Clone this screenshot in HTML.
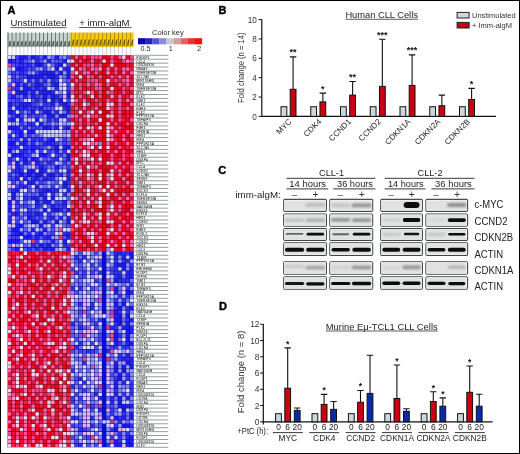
<!DOCTYPE html>
<html><head><meta charset="utf-8"><style>
html,body{margin:0;padding:0;background:#fff;}
body{width:520px;height:454px;overflow:hidden;}
svg{display:block;font-family:"Liberation Sans", sans-serif;will-change:transform;}
</style></head><body>
<svg width="520" height="454" viewBox="0 0 520 454">
<defs><filter id="bl" x="-30%" y="-100%" width="160%" height="300%"><feGaussianBlur stdDeviation="0.45"/></filter><filter id="bl2" x="-30%" y="-150%" width="160%" height="400%"><feGaussianBlur stdDeviation="0.9"/></filter></defs>
<rect x="0" y="0" width="520" height="454" fill="#fff"/>
<text x="7.4" y="13.6" font-size="11" font-weight="bold" fill="#000" stroke="#000" stroke-width="0.4">A</text>
<text x="10.5" y="26.4" font-size="9.6" fill="#222">Unstimulated</text>
<rect x="10.5" y="27.3" width="56" height="0.8" fill="#333"/>
<text x="79.2" y="26.2" font-size="9.6" fill="#222">+ imm-algM</text>
<rect x="79.2" y="27.1" width="52.3" height="0.8" fill="#333"/>
<rect x="7.60" y="32.6" width="3.94" height="14.6" fill="#c8d6d2"/>
<rect x="7.70" y="32.6" width="0.85" height="14.6" fill="#52625f"/>
<path d="M8.90 46.4l0.9 -2.2l0.9 0.2l0.2 -3.6l-0.9 0.3l-0.8 1.2z" fill="#26302e" opacity="0.8"/>
<rect x="9.00" y="44.2" width="2.2" height="2.2" fill="#26302e" opacity="0.55"/>
<rect x="7.70" y="47.2" width="0.85" height="8.1" fill="#c2ccd0"/>
<rect x="11.54" y="32.6" width="3.94" height="14.6" fill="#c8d6d2"/>
<rect x="11.64" y="32.6" width="0.85" height="14.6" fill="#52625f"/>
<path d="M12.84 46.4l0.9 -2.2l0.9 0.2l0.2 -3.6l-0.9 0.3l-0.8 1.2z" fill="#26302e" opacity="0.8"/>
<rect x="12.94" y="44.2" width="2.2" height="2.2" fill="#26302e" opacity="0.55"/>
<rect x="11.64" y="47.2" width="0.85" height="8.1" fill="#c2ccd0"/>
<rect x="15.48" y="32.6" width="3.94" height="14.6" fill="#c8d6d2"/>
<rect x="15.58" y="32.6" width="0.85" height="14.6" fill="#52625f"/>
<path d="M16.78 46.4l0.9 -2.2l0.9 0.2l0.2 -3.6l-0.9 0.3l-0.8 1.2z" fill="#26302e" opacity="0.8"/>
<rect x="16.88" y="44.2" width="2.2" height="2.2" fill="#26302e" opacity="0.55"/>
<rect x="15.58" y="47.2" width="0.85" height="8.1" fill="#c2ccd0"/>
<rect x="19.42" y="32.6" width="3.94" height="14.6" fill="#c8d6d2"/>
<rect x="19.52" y="32.6" width="0.85" height="14.6" fill="#52625f"/>
<path d="M20.72 46.4l0.9 -2.2l0.9 0.2l0.2 -3.6l-0.9 0.3l-0.8 1.2z" fill="#26302e" opacity="0.8"/>
<rect x="20.82" y="44.2" width="2.2" height="2.2" fill="#26302e" opacity="0.55"/>
<rect x="19.52" y="47.2" width="0.85" height="8.1" fill="#c2ccd0"/>
<rect x="23.36" y="32.6" width="3.94" height="14.6" fill="#c8d6d2"/>
<rect x="23.46" y="32.6" width="0.85" height="14.6" fill="#52625f"/>
<path d="M24.66 46.4l0.9 -2.2l0.9 0.2l0.2 -3.6l-0.9 0.3l-0.8 1.2z" fill="#26302e" opacity="0.8"/>
<rect x="24.76" y="44.2" width="2.2" height="2.2" fill="#26302e" opacity="0.55"/>
<rect x="23.46" y="47.2" width="0.85" height="8.1" fill="#c2ccd0"/>
<rect x="27.30" y="32.6" width="3.94" height="14.6" fill="#c8d6d2"/>
<rect x="27.40" y="32.6" width="0.85" height="14.6" fill="#52625f"/>
<path d="M28.60 46.4l0.9 -2.2l0.9 0.2l0.2 -3.6l-0.9 0.3l-0.8 1.2z" fill="#26302e" opacity="0.8"/>
<rect x="28.70" y="44.2" width="2.2" height="2.2" fill="#26302e" opacity="0.55"/>
<rect x="27.40" y="47.2" width="0.85" height="8.1" fill="#c2ccd0"/>
<rect x="31.24" y="32.6" width="3.94" height="14.6" fill="#c8d6d2"/>
<rect x="31.34" y="32.6" width="0.85" height="14.6" fill="#52625f"/>
<path d="M32.54 46.4l0.9 -2.2l0.9 0.2l0.2 -3.6l-0.9 0.3l-0.8 1.2z" fill="#26302e" opacity="0.8"/>
<rect x="32.64" y="44.2" width="2.2" height="2.2" fill="#26302e" opacity="0.55"/>
<rect x="31.34" y="47.2" width="0.85" height="8.1" fill="#c2ccd0"/>
<rect x="35.18" y="32.6" width="3.94" height="14.6" fill="#c8d6d2"/>
<rect x="35.28" y="32.6" width="0.85" height="14.6" fill="#52625f"/>
<path d="M36.48 46.4l0.9 -2.2l0.9 0.2l0.2 -3.6l-0.9 0.3l-0.8 1.2z" fill="#26302e" opacity="0.8"/>
<rect x="36.58" y="44.2" width="2.2" height="2.2" fill="#26302e" opacity="0.55"/>
<rect x="35.28" y="47.2" width="0.85" height="8.1" fill="#c2ccd0"/>
<rect x="39.12" y="32.6" width="3.94" height="14.6" fill="#c8d6d2"/>
<rect x="39.22" y="32.6" width="0.85" height="14.6" fill="#52625f"/>
<path d="M40.42 46.4l0.9 -2.2l0.9 0.2l0.2 -3.6l-0.9 0.3l-0.8 1.2z" fill="#26302e" opacity="0.8"/>
<rect x="40.52" y="44.2" width="2.2" height="2.2" fill="#26302e" opacity="0.55"/>
<rect x="39.22" y="47.2" width="0.85" height="8.1" fill="#c2ccd0"/>
<rect x="43.06" y="32.6" width="3.94" height="14.6" fill="#c8d6d2"/>
<rect x="43.16" y="32.6" width="0.85" height="14.6" fill="#52625f"/>
<path d="M44.36 46.4l0.9 -2.2l0.9 0.2l0.2 -3.6l-0.9 0.3l-0.8 1.2z" fill="#26302e" opacity="0.8"/>
<rect x="44.46" y="44.2" width="2.2" height="2.2" fill="#26302e" opacity="0.55"/>
<rect x="43.16" y="47.2" width="0.85" height="8.1" fill="#c2ccd0"/>
<rect x="47.00" y="32.6" width="3.94" height="14.6" fill="#c8d6d2"/>
<rect x="47.10" y="32.6" width="0.85" height="14.6" fill="#52625f"/>
<path d="M48.30 46.4l0.9 -2.2l0.9 0.2l0.2 -3.6l-0.9 0.3l-0.8 1.2z" fill="#26302e" opacity="0.8"/>
<rect x="48.40" y="44.2" width="2.2" height="2.2" fill="#26302e" opacity="0.55"/>
<rect x="47.10" y="47.2" width="0.85" height="8.1" fill="#c2ccd0"/>
<rect x="50.94" y="32.6" width="3.94" height="14.6" fill="#c8d6d2"/>
<rect x="51.04" y="32.6" width="0.85" height="14.6" fill="#52625f"/>
<path d="M52.24 46.4l0.9 -2.2l0.9 0.2l0.2 -3.6l-0.9 0.3l-0.8 1.2z" fill="#26302e" opacity="0.8"/>
<rect x="52.34" y="44.2" width="2.2" height="2.2" fill="#26302e" opacity="0.55"/>
<rect x="51.04" y="47.2" width="0.85" height="8.1" fill="#c2ccd0"/>
<rect x="54.88" y="32.6" width="3.94" height="14.6" fill="#c8d6d2"/>
<rect x="54.98" y="32.6" width="0.85" height="14.6" fill="#52625f"/>
<path d="M56.18 46.4l0.9 -2.2l0.9 0.2l0.2 -3.6l-0.9 0.3l-0.8 1.2z" fill="#26302e" opacity="0.8"/>
<rect x="56.28" y="44.2" width="2.2" height="2.2" fill="#26302e" opacity="0.55"/>
<rect x="54.98" y="47.2" width="0.85" height="8.1" fill="#c2ccd0"/>
<rect x="58.82" y="32.6" width="3.94" height="14.6" fill="#c8d6d2"/>
<rect x="58.92" y="32.6" width="0.85" height="14.6" fill="#52625f"/>
<path d="M60.12 46.4l0.9 -2.2l0.9 0.2l0.2 -3.6l-0.9 0.3l-0.8 1.2z" fill="#26302e" opacity="0.8"/>
<rect x="60.22" y="44.2" width="2.2" height="2.2" fill="#26302e" opacity="0.55"/>
<rect x="58.92" y="47.2" width="0.85" height="8.1" fill="#c2ccd0"/>
<rect x="62.76" y="32.6" width="3.94" height="14.6" fill="#c8d6d2"/>
<rect x="62.86" y="32.6" width="0.85" height="14.6" fill="#52625f"/>
<path d="M64.06 46.4l0.9 -2.2l0.9 0.2l0.2 -3.6l-0.9 0.3l-0.8 1.2z" fill="#26302e" opacity="0.8"/>
<rect x="64.16" y="44.2" width="2.2" height="2.2" fill="#26302e" opacity="0.55"/>
<rect x="62.86" y="47.2" width="0.85" height="8.1" fill="#c2ccd0"/>
<rect x="66.70" y="32.6" width="3.94" height="14.6" fill="#c8d6d2"/>
<rect x="66.80" y="32.6" width="0.85" height="14.6" fill="#52625f"/>
<path d="M68.00 46.4l0.9 -2.2l0.9 0.2l0.2 -3.6l-0.9 0.3l-0.8 1.2z" fill="#26302e" opacity="0.8"/>
<rect x="68.10" y="44.2" width="2.2" height="2.2" fill="#26302e" opacity="0.55"/>
<rect x="66.80" y="47.2" width="0.85" height="8.1" fill="#c2ccd0"/>
<rect x="70.64" y="32.6" width="3.94" height="14.6" fill="#f8cc00"/>
<rect x="70.74" y="32.6" width="0.85" height="14.6" fill="#9c8410"/>
<path d="M71.84 45.6l0.8 -2.4l1.2 -0.6l0.3 -3.4l-0.8 0.2l-0.6 1.4z" fill="#4a2c00" opacity="0.85"/>
<rect x="71.94" y="43.0" width="2.1" height="2.6" fill="#4a2c00" opacity="0.5"/>
<rect x="70.74" y="47.2" width="0.85" height="8.1" fill="#c2ccd0"/>
<rect x="74.58" y="32.6" width="3.94" height="14.6" fill="#f8cc00"/>
<rect x="74.68" y="32.6" width="0.85" height="14.6" fill="#9c8410"/>
<path d="M75.78 45.6l0.8 -2.4l1.2 -0.6l0.3 -3.4l-0.8 0.2l-0.6 1.4z" fill="#4a2c00" opacity="0.85"/>
<rect x="75.88" y="43.0" width="2.1" height="2.6" fill="#4a2c00" opacity="0.5"/>
<rect x="74.68" y="47.2" width="0.85" height="8.1" fill="#c2ccd0"/>
<rect x="78.52" y="32.6" width="3.94" height="14.6" fill="#f8cc00"/>
<rect x="78.62" y="32.6" width="0.85" height="14.6" fill="#9c8410"/>
<path d="M79.72 45.6l0.8 -2.4l1.2 -0.6l0.3 -3.4l-0.8 0.2l-0.6 1.4z" fill="#4a2c00" opacity="0.85"/>
<rect x="79.82" y="43.0" width="2.1" height="2.6" fill="#4a2c00" opacity="0.5"/>
<rect x="78.62" y="47.2" width="0.85" height="8.1" fill="#c2ccd0"/>
<rect x="82.46" y="32.6" width="3.94" height="14.6" fill="#f8cc00"/>
<rect x="82.56" y="32.6" width="0.85" height="14.6" fill="#9c8410"/>
<path d="M83.66 45.6l0.8 -2.4l1.2 -0.6l0.3 -3.4l-0.8 0.2l-0.6 1.4z" fill="#4a2c00" opacity="0.85"/>
<rect x="83.76" y="43.0" width="2.1" height="2.6" fill="#4a2c00" opacity="0.5"/>
<rect x="82.56" y="47.2" width="0.85" height="8.1" fill="#c2ccd0"/>
<rect x="86.40" y="32.6" width="3.94" height="14.6" fill="#f8cc00"/>
<rect x="86.50" y="32.6" width="0.85" height="14.6" fill="#9c8410"/>
<path d="M87.60 45.6l0.8 -2.4l1.2 -0.6l0.3 -3.4l-0.8 0.2l-0.6 1.4z" fill="#4a2c00" opacity="0.85"/>
<rect x="87.70" y="43.0" width="2.1" height="2.6" fill="#4a2c00" opacity="0.5"/>
<rect x="86.50" y="47.2" width="0.85" height="8.1" fill="#c2ccd0"/>
<rect x="90.34" y="32.6" width="3.94" height="14.6" fill="#f8cc00"/>
<rect x="90.44" y="32.6" width="0.85" height="14.6" fill="#9c8410"/>
<path d="M91.54 45.6l0.8 -2.4l1.2 -0.6l0.3 -3.4l-0.8 0.2l-0.6 1.4z" fill="#4a2c00" opacity="0.85"/>
<rect x="91.64" y="43.0" width="2.1" height="2.6" fill="#4a2c00" opacity="0.5"/>
<rect x="90.44" y="47.2" width="0.85" height="8.1" fill="#c2ccd0"/>
<rect x="94.28" y="32.6" width="3.94" height="14.6" fill="#f8cc00"/>
<rect x="94.38" y="32.6" width="0.85" height="14.6" fill="#9c8410"/>
<path d="M95.48 45.6l0.8 -2.4l1.2 -0.6l0.3 -3.4l-0.8 0.2l-0.6 1.4z" fill="#4a2c00" opacity="0.85"/>
<rect x="95.58" y="43.0" width="2.1" height="2.6" fill="#4a2c00" opacity="0.5"/>
<rect x="94.38" y="47.2" width="0.85" height="8.1" fill="#c2ccd0"/>
<rect x="98.22" y="32.6" width="3.94" height="14.6" fill="#f8cc00"/>
<rect x="98.32" y="32.6" width="0.85" height="14.6" fill="#9c8410"/>
<path d="M99.42 45.6l0.8 -2.4l1.2 -0.6l0.3 -3.4l-0.8 0.2l-0.6 1.4z" fill="#4a2c00" opacity="0.85"/>
<rect x="99.52" y="43.0" width="2.1" height="2.6" fill="#4a2c00" opacity="0.5"/>
<rect x="98.32" y="47.2" width="0.85" height="8.1" fill="#c2ccd0"/>
<rect x="102.16" y="32.6" width="3.94" height="14.6" fill="#f8cc00"/>
<rect x="102.26" y="32.6" width="0.85" height="14.6" fill="#9c8410"/>
<path d="M103.36 45.6l0.8 -2.4l1.2 -0.6l0.3 -3.4l-0.8 0.2l-0.6 1.4z" fill="#4a2c00" opacity="0.85"/>
<rect x="103.46" y="43.0" width="2.1" height="2.6" fill="#4a2c00" opacity="0.5"/>
<rect x="102.26" y="47.2" width="0.85" height="8.1" fill="#c2ccd0"/>
<rect x="106.10" y="32.6" width="3.94" height="14.6" fill="#f8cc00"/>
<rect x="106.20" y="32.6" width="0.85" height="14.6" fill="#9c8410"/>
<path d="M107.30 45.6l0.8 -2.4l1.2 -0.6l0.3 -3.4l-0.8 0.2l-0.6 1.4z" fill="#4a2c00" opacity="0.85"/>
<rect x="107.40" y="43.0" width="2.1" height="2.6" fill="#4a2c00" opacity="0.5"/>
<rect x="106.20" y="47.2" width="0.85" height="8.1" fill="#c2ccd0"/>
<rect x="110.04" y="32.6" width="3.94" height="14.6" fill="#f8cc00"/>
<rect x="110.14" y="32.6" width="0.85" height="14.6" fill="#9c8410"/>
<path d="M111.24 45.6l0.8 -2.4l1.2 -0.6l0.3 -3.4l-0.8 0.2l-0.6 1.4z" fill="#4a2c00" opacity="0.85"/>
<rect x="111.34" y="43.0" width="2.1" height="2.6" fill="#4a2c00" opacity="0.5"/>
<rect x="110.14" y="47.2" width="0.85" height="8.1" fill="#c2ccd0"/>
<rect x="113.98" y="32.6" width="3.94" height="14.6" fill="#f8cc00"/>
<rect x="114.08" y="32.6" width="0.85" height="14.6" fill="#9c8410"/>
<path d="M115.18 45.6l0.8 -2.4l1.2 -0.6l0.3 -3.4l-0.8 0.2l-0.6 1.4z" fill="#4a2c00" opacity="0.85"/>
<rect x="115.28" y="43.0" width="2.1" height="2.6" fill="#4a2c00" opacity="0.5"/>
<rect x="114.08" y="47.2" width="0.85" height="8.1" fill="#c2ccd0"/>
<rect x="117.92" y="32.6" width="3.94" height="14.6" fill="#f8cc00"/>
<rect x="118.02" y="32.6" width="0.85" height="14.6" fill="#9c8410"/>
<path d="M119.12 45.6l0.8 -2.4l1.2 -0.6l0.3 -3.4l-0.8 0.2l-0.6 1.4z" fill="#4a2c00" opacity="0.85"/>
<rect x="119.22" y="43.0" width="2.1" height="2.6" fill="#4a2c00" opacity="0.5"/>
<rect x="118.02" y="47.2" width="0.85" height="8.1" fill="#c2ccd0"/>
<rect x="121.86" y="32.6" width="3.94" height="14.6" fill="#f8cc00"/>
<rect x="121.96" y="32.6" width="0.85" height="14.6" fill="#9c8410"/>
<path d="M123.06 45.6l0.8 -2.4l1.2 -0.6l0.3 -3.4l-0.8 0.2l-0.6 1.4z" fill="#4a2c00" opacity="0.85"/>
<rect x="123.16" y="43.0" width="2.1" height="2.6" fill="#4a2c00" opacity="0.5"/>
<rect x="121.96" y="47.2" width="0.85" height="8.1" fill="#c2ccd0"/>
<rect x="125.80" y="32.6" width="3.94" height="14.6" fill="#f8cc00"/>
<rect x="125.90" y="32.6" width="0.85" height="14.6" fill="#9c8410"/>
<path d="M127.00 45.6l0.8 -2.4l1.2 -0.6l0.3 -3.4l-0.8 0.2l-0.6 1.4z" fill="#4a2c00" opacity="0.85"/>
<rect x="127.10" y="43.0" width="2.1" height="2.6" fill="#4a2c00" opacity="0.5"/>
<rect x="125.90" y="47.2" width="0.85" height="8.1" fill="#c2ccd0"/>
<rect x="129.74" y="32.6" width="3.94" height="14.6" fill="#f8cc00"/>
<rect x="129.84" y="32.6" width="0.85" height="14.6" fill="#9c8410"/>
<path d="M130.94 45.6l0.8 -2.4l1.2 -0.6l0.3 -3.4l-0.8 0.2l-0.6 1.4z" fill="#4a2c00" opacity="0.85"/>
<rect x="131.04" y="43.0" width="2.1" height="2.6" fill="#4a2c00" opacity="0.5"/>
<rect x="129.84" y="47.2" width="0.85" height="8.1" fill="#c2ccd0"/>
<rect x="7.60" y="55.3" width="63.04" height="196.00" fill="#10108a"/>
<rect x="70.64" y="55.3" width="63.04" height="196.00" fill="#6a0414"/>
<rect x="7.60" y="251.30" width="63.04" height="196.00" fill="#6a0414"/>
<rect x="70.64" y="251.30" width="63.04" height="196.00" fill="#10108a"/>
<path fill="#d6d6f8" d="M7.88 55.58h3.38v3.36h-3.38zM66.98 59.50h3.38v3.36h-3.38zM47.28 63.42h3.38v3.36h-3.38zM63.04 63.42h3.38v3.36h-3.38zM51.22 67.34h3.38v3.36h-3.38zM59.10 67.34h3.38v3.36h-3.38zM7.88 75.18h3.38v3.36h-3.38zM23.64 79.10h3.38v3.36h-3.38zM63.04 83.02h3.38v3.36h-3.38zM47.28 86.94h3.38v3.36h-3.38zM47.28 98.70h3.38v3.36h-3.38zM63.04 98.70h3.38v3.36h-3.38zM55.16 106.54h3.38v3.36h-3.38zM15.76 118.30h3.38v3.36h-3.38zM31.52 118.30h3.38v3.36h-3.38zM39.40 118.30h3.38v3.36h-3.38zM7.88 122.22h3.38v3.36h-3.38zM59.10 126.14h3.38v3.36h-3.38zM43.34 130.06h3.38v3.36h-3.38zM47.28 130.06h3.38v3.36h-3.38zM43.34 133.98h3.38v3.36h-3.38zM47.28 133.98h3.38v3.36h-3.38zM55.16 137.90h3.38v3.36h-3.38zM19.70 145.74h3.38v3.36h-3.38zM43.34 149.66h3.38v3.36h-3.38zM66.98 149.66h3.38v3.36h-3.38zM7.88 153.58h3.38v3.36h-3.38zM35.46 153.58h3.38v3.36h-3.38zM55.16 161.42h3.38v3.36h-3.38zM7.88 169.26h3.38v3.36h-3.38zM23.64 169.26h3.38v3.36h-3.38zM19.70 177.10h3.38v3.36h-3.38zM59.10 177.10h3.38v3.36h-3.38zM7.88 192.78h3.38v3.36h-3.38zM59.10 192.78h3.38v3.36h-3.38zM59.10 196.70h3.38v3.36h-3.38zM31.52 200.62h3.38v3.36h-3.38zM43.34 204.54h3.38v3.36h-3.38zM66.98 204.54h3.38v3.36h-3.38zM19.70 208.46h3.38v3.36h-3.38zM59.10 212.38h3.38v3.36h-3.38zM19.70 220.22h3.38v3.36h-3.38zM47.28 224.14h3.38v3.36h-3.38zM55.16 224.14h3.38v3.36h-3.38zM23.64 239.82h3.38v3.36h-3.38zM19.70 247.66h3.38v3.36h-3.38zM86.68 251.58h3.38v3.36h-3.38zM90.62 259.42h3.38v3.36h-3.38zM70.92 263.34h3.38v3.36h-3.38zM74.86 267.26h3.38v3.36h-3.38zM122.14 271.18h3.38v3.36h-3.38zM86.68 275.10h3.38v3.36h-3.38zM86.68 279.02h3.38v3.36h-3.38zM90.62 279.02h3.38v3.36h-3.38zM90.62 282.94h3.38v3.36h-3.38zM94.56 282.94h3.38v3.36h-3.38zM82.74 290.78h3.38v3.36h-3.38zM122.14 290.78h3.38v3.36h-3.38zM130.02 298.62h3.38v3.36h-3.38zM126.08 302.54h3.38v3.36h-3.38zM94.56 306.46h3.38v3.36h-3.38zM106.38 306.46h3.38v3.36h-3.38zM122.14 310.38h3.38v3.36h-3.38zM82.74 314.30h3.38v3.36h-3.38zM130.02 314.30h3.38v3.36h-3.38zM74.86 329.98h3.38v3.36h-3.38zM106.38 329.98h3.38v3.36h-3.38zM122.14 329.98h3.38v3.36h-3.38zM90.62 337.82h3.38v3.36h-3.38zM106.38 337.82h3.38v3.36h-3.38zM86.68 341.74h3.38v3.36h-3.38zM90.62 345.66h3.38v3.36h-3.38zM118.20 349.58h3.38v3.36h-3.38zM70.92 361.34h3.38v3.36h-3.38zM74.86 361.34h3.38v3.36h-3.38zM86.68 361.34h3.38v3.36h-3.38zM82.74 365.26h3.38v3.36h-3.38zM74.86 369.18h3.38v3.36h-3.38zM90.62 369.18h3.38v3.36h-3.38zM78.80 380.94h3.38v3.36h-3.38zM86.68 380.94h3.38v3.36h-3.38zM98.50 380.94h3.38v3.36h-3.38zM106.38 380.94h3.38v3.36h-3.38zM126.08 380.94h3.38v3.36h-3.38zM74.86 388.78h3.38v3.36h-3.38zM90.62 388.78h3.38v3.36h-3.38zM86.68 392.70h3.38v3.36h-3.38zM82.74 396.62h3.38v3.36h-3.38zM106.38 400.54h3.38v3.36h-3.38zM70.92 404.46h3.38v3.36h-3.38zM70.92 408.38h3.38v3.36h-3.38zM82.74 408.38h3.38v3.36h-3.38zM74.86 412.30h3.38v3.36h-3.38zM94.56 412.30h3.38v3.36h-3.38zM86.68 420.14h3.38v3.36h-3.38zM106.38 420.14h3.38v3.36h-3.38zM78.80 435.82h3.38v3.36h-3.38zM106.38 435.82h3.38v3.36h-3.38zM122.14 439.74h3.38v3.36h-3.38zM98.50 443.66h3.38v3.36h-3.38z"/>
<path fill="#cacaf6" d="M11.82 55.58h3.38v3.36h-3.38zM7.88 79.10h3.38v3.36h-3.38zM59.10 83.02h3.38v3.36h-3.38zM59.10 86.94h3.38v3.36h-3.38zM55.16 90.86h3.38v3.36h-3.38zM23.64 98.70h3.38v3.36h-3.38zM11.82 106.54h3.38v3.36h-3.38zM59.10 110.46h3.38v3.36h-3.38zM23.64 118.30h3.38v3.36h-3.38zM59.10 118.30h3.38v3.36h-3.38zM63.04 118.30h3.38v3.36h-3.38zM15.76 122.22h3.38v3.36h-3.38zM39.40 130.06h3.38v3.36h-3.38zM11.82 133.98h3.38v3.36h-3.38zM51.22 133.98h3.38v3.36h-3.38zM55.16 133.98h3.38v3.36h-3.38zM59.10 133.98h3.38v3.36h-3.38zM66.98 133.98h3.38v3.36h-3.38zM59.10 145.74h3.38v3.36h-3.38zM15.76 149.66h3.38v3.36h-3.38zM35.46 149.66h3.38v3.36h-3.38zM59.10 157.50h3.38v3.36h-3.38zM35.46 169.26h3.38v3.36h-3.38zM47.28 169.26h3.38v3.36h-3.38zM59.10 169.26h3.38v3.36h-3.38zM7.88 181.02h3.38v3.36h-3.38zM55.16 184.94h3.38v3.36h-3.38zM19.70 188.86h3.38v3.36h-3.38zM59.10 188.86h3.38v3.36h-3.38zM63.04 188.86h3.38v3.36h-3.38zM7.88 196.70h3.38v3.36h-3.38zM63.04 196.70h3.38v3.36h-3.38zM19.70 200.62h3.38v3.36h-3.38zM11.82 204.54h3.38v3.36h-3.38zM23.64 208.46h3.38v3.36h-3.38zM47.28 208.46h3.38v3.36h-3.38zM59.10 220.22h3.38v3.36h-3.38zM7.88 224.14h3.38v3.36h-3.38zM27.58 224.14h3.38v3.36h-3.38zM31.52 224.14h3.38v3.36h-3.38zM59.10 224.14h3.38v3.36h-3.38zM35.46 228.06h3.38v3.36h-3.38zM66.98 228.06h3.38v3.36h-3.38zM27.58 239.82h3.38v3.36h-3.38zM39.40 239.82h3.38v3.36h-3.38zM59.10 239.82h3.38v3.36h-3.38zM59.10 243.74h3.38v3.36h-3.38zM59.10 247.66h3.38v3.36h-3.38zM82.74 251.58h3.38v3.36h-3.38zM106.38 251.58h3.38v3.36h-3.38zM86.68 255.50h3.38v3.36h-3.38zM94.56 255.50h3.38v3.36h-3.38zM126.08 255.50h3.38v3.36h-3.38zM106.38 263.34h3.38v3.36h-3.38zM118.20 267.26h3.38v3.36h-3.38zM86.68 271.18h3.38v3.36h-3.38zM106.38 271.18h3.38v3.36h-3.38zM74.86 275.10h3.38v3.36h-3.38zM110.32 275.10h3.38v3.36h-3.38zM82.74 279.02h3.38v3.36h-3.38zM114.26 282.94h3.38v3.36h-3.38zM74.86 286.86h3.38v3.36h-3.38zM106.38 290.78h3.38v3.36h-3.38zM82.74 294.70h3.38v3.36h-3.38zM110.32 294.70h3.38v3.36h-3.38zM86.68 298.62h3.38v3.36h-3.38zM106.38 298.62h3.38v3.36h-3.38zM70.92 302.54h3.38v3.36h-3.38zM86.68 302.54h3.38v3.36h-3.38zM110.32 302.54h3.38v3.36h-3.38zM74.86 306.46h3.38v3.36h-3.38zM82.74 306.46h3.38v3.36h-3.38zM70.92 314.30h3.38v3.36h-3.38zM98.50 314.30h3.38v3.36h-3.38zM70.92 318.22h3.38v3.36h-3.38zM106.38 318.22h3.38v3.36h-3.38zM82.74 329.98h3.38v3.36h-3.38zM82.74 337.82h3.38v3.36h-3.38zM74.86 341.74h3.38v3.36h-3.38zM98.50 345.66h3.38v3.36h-3.38zM70.92 353.50h3.38v3.36h-3.38zM78.80 353.50h3.38v3.36h-3.38zM86.68 353.50h3.38v3.36h-3.38zM106.38 353.50h3.38v3.36h-3.38zM70.92 357.42h3.38v3.36h-3.38zM94.56 361.34h3.38v3.36h-3.38zM106.38 365.26h3.38v3.36h-3.38zM70.92 373.10h3.38v3.36h-3.38zM78.80 373.10h3.38v3.36h-3.38zM82.74 373.10h3.38v3.36h-3.38zM106.38 373.10h3.38v3.36h-3.38zM70.92 380.94h3.38v3.36h-3.38zM90.62 384.86h3.38v3.36h-3.38zM110.32 384.86h3.38v3.36h-3.38zM86.68 400.54h3.38v3.36h-3.38zM122.14 400.54h3.38v3.36h-3.38zM126.08 400.54h3.38v3.36h-3.38zM126.08 408.38h3.38v3.36h-3.38zM70.92 412.30h3.38v3.36h-3.38zM82.74 412.30h3.38v3.36h-3.38zM94.56 416.22h3.38v3.36h-3.38zM110.32 416.22h3.38v3.36h-3.38zM82.74 420.14h3.38v3.36h-3.38zM102.44 420.14h3.38v3.36h-3.38zM106.38 424.06h3.38v3.36h-3.38zM98.50 431.90h3.38v3.36h-3.38z"/>
<path fill="#4040f6" d="M15.76 55.58h3.38v3.36h-3.38zM66.98 55.58h3.38v3.36h-3.38zM15.76 59.50h3.38v3.36h-3.38zM15.76 63.42h3.38v3.36h-3.38zM23.64 63.42h3.38v3.36h-3.38zM66.98 63.42h3.38v3.36h-3.38zM31.52 67.34h3.38v3.36h-3.38zM43.34 67.34h3.38v3.36h-3.38zM11.82 71.26h3.38v3.36h-3.38zM23.64 71.26h3.38v3.36h-3.38zM35.46 71.26h3.38v3.36h-3.38zM11.82 75.18h3.38v3.36h-3.38zM19.70 75.18h3.38v3.36h-3.38zM23.64 75.18h3.38v3.36h-3.38zM43.34 75.18h3.38v3.36h-3.38zM11.82 79.10h3.38v3.36h-3.38zM15.76 79.10h3.38v3.36h-3.38zM19.70 79.10h3.38v3.36h-3.38zM55.16 79.10h3.38v3.36h-3.38zM31.52 83.02h3.38v3.36h-3.38zM66.98 83.02h3.38v3.36h-3.38zM11.82 86.94h3.38v3.36h-3.38zM31.52 86.94h3.38v3.36h-3.38zM39.40 86.94h3.38v3.36h-3.38zM66.98 86.94h3.38v3.36h-3.38zM7.88 94.78h3.38v3.36h-3.38zM35.46 94.78h3.38v3.36h-3.38zM15.76 98.70h3.38v3.36h-3.38zM55.16 98.70h3.38v3.36h-3.38zM66.98 98.70h3.38v3.36h-3.38zM11.82 102.62h3.38v3.36h-3.38zM15.76 102.62h3.38v3.36h-3.38zM31.52 102.62h3.38v3.36h-3.38zM47.28 102.62h3.38v3.36h-3.38zM27.58 106.54h3.38v3.36h-3.38zM35.46 106.54h3.38v3.36h-3.38zM19.70 110.46h3.38v3.36h-3.38zM11.82 114.38h3.38v3.36h-3.38zM19.70 114.38h3.38v3.36h-3.38zM27.58 114.38h3.38v3.36h-3.38zM35.46 114.38h3.38v3.36h-3.38zM19.70 122.22h3.38v3.36h-3.38zM31.52 126.14h3.38v3.36h-3.38zM35.46 126.14h3.38v3.36h-3.38zM11.82 130.06h3.38v3.36h-3.38zM15.76 133.98h3.38v3.36h-3.38zM27.58 133.98h3.38v3.36h-3.38zM7.88 137.90h3.38v3.36h-3.38zM11.82 137.90h3.38v3.36h-3.38zM35.46 137.90h3.38v3.36h-3.38zM63.04 137.90h3.38v3.36h-3.38zM55.16 141.82h3.38v3.36h-3.38zM63.04 141.82h3.38v3.36h-3.38zM27.58 145.74h3.38v3.36h-3.38zM39.40 145.74h3.38v3.36h-3.38zM51.22 145.74h3.38v3.36h-3.38zM39.40 149.66h3.38v3.36h-3.38zM47.28 149.66h3.38v3.36h-3.38zM23.64 153.58h3.38v3.36h-3.38zM27.58 153.58h3.38v3.36h-3.38zM47.28 153.58h3.38v3.36h-3.38zM55.16 153.58h3.38v3.36h-3.38zM59.10 153.58h3.38v3.36h-3.38zM19.70 157.50h3.38v3.36h-3.38zM51.22 157.50h3.38v3.36h-3.38zM7.88 161.42h3.38v3.36h-3.38zM27.58 161.42h3.38v3.36h-3.38zM39.40 161.42h3.38v3.36h-3.38zM51.22 161.42h3.38v3.36h-3.38zM63.04 161.42h3.38v3.36h-3.38zM19.70 165.34h3.38v3.36h-3.38zM43.34 165.34h3.38v3.36h-3.38zM66.98 165.34h3.38v3.36h-3.38zM11.82 169.26h3.38v3.36h-3.38zM55.16 169.26h3.38v3.36h-3.38zM7.88 173.18h3.38v3.36h-3.38zM15.76 173.18h3.38v3.36h-3.38zM23.64 173.18h3.38v3.36h-3.38zM31.52 173.18h3.38v3.36h-3.38zM7.88 177.10h3.38v3.36h-3.38zM11.82 177.10h3.38v3.36h-3.38zM11.82 181.02h3.38v3.36h-3.38zM19.70 181.02h3.38v3.36h-3.38zM39.40 181.02h3.38v3.36h-3.38zM15.76 184.94h3.38v3.36h-3.38zM51.22 184.94h3.38v3.36h-3.38zM66.98 184.94h3.38v3.36h-3.38zM43.34 192.78h3.38v3.36h-3.38zM27.58 196.70h3.38v3.36h-3.38zM55.16 200.62h3.38v3.36h-3.38zM15.76 204.54h3.38v3.36h-3.38zM23.64 204.54h3.38v3.36h-3.38zM39.40 204.54h3.38v3.36h-3.38zM55.16 204.54h3.38v3.36h-3.38zM59.10 204.54h3.38v3.36h-3.38zM15.76 208.46h3.38v3.36h-3.38zM27.58 208.46h3.38v3.36h-3.38zM31.52 212.38h3.38v3.36h-3.38zM47.28 212.38h3.38v3.36h-3.38zM39.40 216.30h3.38v3.36h-3.38zM15.76 220.22h3.38v3.36h-3.38zM51.22 224.14h3.38v3.36h-3.38zM51.22 231.98h3.38v3.36h-3.38zM11.82 235.90h3.38v3.36h-3.38zM15.76 235.90h3.38v3.36h-3.38zM31.52 235.90h3.38v3.36h-3.38zM35.46 239.82h3.38v3.36h-3.38zM43.34 243.74h3.38v3.36h-3.38zM66.98 243.74h3.38v3.36h-3.38zM11.82 247.66h3.38v3.36h-3.38z"/>
<path fill="#1c1cf4" d="M19.70 55.58h3.38v3.36h-3.38zM23.64 55.58h3.38v3.36h-3.38zM31.52 55.58h3.38v3.36h-3.38zM43.34 55.58h3.38v3.36h-3.38zM55.16 55.58h3.38v3.36h-3.38zM35.46 63.42h3.38v3.36h-3.38zM39.40 63.42h3.38v3.36h-3.38zM15.76 67.34h3.38v3.36h-3.38zM19.70 67.34h3.38v3.36h-3.38zM55.16 67.34h3.38v3.36h-3.38zM47.28 71.26h3.38v3.36h-3.38zM27.58 75.18h3.38v3.36h-3.38zM35.46 75.18h3.38v3.36h-3.38zM51.22 75.18h3.38v3.36h-3.38zM66.98 75.18h3.38v3.36h-3.38zM55.16 83.02h3.38v3.36h-3.38zM23.64 86.94h3.38v3.36h-3.38zM27.58 86.94h3.38v3.36h-3.38zM15.76 90.86h3.38v3.36h-3.38zM19.70 90.86h3.38v3.36h-3.38zM23.64 90.86h3.38v3.36h-3.38zM47.28 90.86h3.38v3.36h-3.38zM43.34 94.78h3.38v3.36h-3.38zM51.22 94.78h3.38v3.36h-3.38zM66.98 94.78h3.38v3.36h-3.38zM59.10 98.70h3.38v3.36h-3.38zM7.88 102.62h3.38v3.36h-3.38zM63.04 102.62h3.38v3.36h-3.38zM66.98 106.54h3.38v3.36h-3.38zM7.88 110.46h3.38v3.36h-3.38zM47.28 110.46h3.38v3.36h-3.38zM15.76 114.38h3.38v3.36h-3.38zM11.82 118.30h3.38v3.36h-3.38zM35.46 118.30h3.38v3.36h-3.38zM7.88 126.14h3.38v3.36h-3.38zM11.82 126.14h3.38v3.36h-3.38zM15.76 126.14h3.38v3.36h-3.38zM43.34 126.14h3.38v3.36h-3.38zM47.28 126.14h3.38v3.36h-3.38zM66.98 126.14h3.38v3.36h-3.38zM19.70 130.06h3.38v3.36h-3.38zM31.52 130.06h3.38v3.36h-3.38zM19.70 133.98h3.38v3.36h-3.38zM51.22 137.90h3.38v3.36h-3.38zM7.88 141.82h3.38v3.36h-3.38zM11.82 141.82h3.38v3.36h-3.38zM55.16 145.74h3.38v3.36h-3.38zM66.98 145.74h3.38v3.36h-3.38zM7.88 149.66h3.38v3.36h-3.38zM11.82 153.58h3.38v3.36h-3.38zM19.70 153.58h3.38v3.36h-3.38zM39.40 153.58h3.38v3.36h-3.38zM43.34 153.58h3.38v3.36h-3.38zM66.98 153.58h3.38v3.36h-3.38zM23.64 157.50h3.38v3.36h-3.38zM31.52 157.50h3.38v3.36h-3.38zM66.98 157.50h3.38v3.36h-3.38zM15.76 161.42h3.38v3.36h-3.38zM55.16 165.34h3.38v3.36h-3.38zM31.52 169.26h3.38v3.36h-3.38zM39.40 169.26h3.38v3.36h-3.38zM19.70 173.18h3.38v3.36h-3.38zM27.58 173.18h3.38v3.36h-3.38zM35.46 173.18h3.38v3.36h-3.38zM39.40 173.18h3.38v3.36h-3.38zM51.22 173.18h3.38v3.36h-3.38zM66.98 177.10h3.38v3.36h-3.38zM63.04 181.02h3.38v3.36h-3.38zM63.04 184.94h3.38v3.36h-3.38zM15.76 188.86h3.38v3.36h-3.38zM47.28 188.86h3.38v3.36h-3.38zM11.82 192.78h3.38v3.36h-3.38zM11.82 196.70h3.38v3.36h-3.38zM43.34 196.70h3.38v3.36h-3.38zM7.88 200.62h3.38v3.36h-3.38zM35.46 200.62h3.38v3.36h-3.38zM43.34 208.46h3.38v3.36h-3.38zM55.16 208.46h3.38v3.36h-3.38zM66.98 208.46h3.38v3.36h-3.38zM27.58 216.30h3.38v3.36h-3.38zM31.52 220.22h3.38v3.36h-3.38zM55.16 220.22h3.38v3.36h-3.38zM66.98 220.22h3.38v3.36h-3.38zM11.82 228.06h3.38v3.36h-3.38zM15.76 228.06h3.38v3.36h-3.38zM19.70 231.98h3.38v3.36h-3.38zM39.40 231.98h3.38v3.36h-3.38zM23.64 235.90h3.38v3.36h-3.38zM27.58 235.90h3.38v3.36h-3.38zM7.88 239.82h3.38v3.36h-3.38zM11.82 239.82h3.38v3.36h-3.38zM15.76 239.82h3.38v3.36h-3.38zM63.04 239.82h3.38v3.36h-3.38zM39.40 243.74h3.38v3.36h-3.38zM47.28 243.74h3.38v3.36h-3.38z"/>
<path fill="#5656f6" d="M27.58 55.58h3.38v3.36h-3.38zM39.40 55.58h3.38v3.36h-3.38zM23.64 59.50h3.38v3.36h-3.38zM39.40 59.50h3.38v3.36h-3.38zM55.16 59.50h3.38v3.36h-3.38zM59.10 59.50h3.38v3.36h-3.38zM11.82 63.42h3.38v3.36h-3.38zM31.52 63.42h3.38v3.36h-3.38zM43.34 63.42h3.38v3.36h-3.38zM27.58 67.34h3.38v3.36h-3.38zM15.76 71.26h3.38v3.36h-3.38zM66.98 79.10h3.38v3.36h-3.38zM7.88 83.02h3.38v3.36h-3.38zM19.70 83.02h3.38v3.36h-3.38zM43.34 83.02h3.38v3.36h-3.38zM7.88 90.86h3.38v3.36h-3.38zM27.58 90.86h3.38v3.36h-3.38zM15.76 94.78h3.38v3.36h-3.38zM39.40 94.78h3.38v3.36h-3.38zM47.28 94.78h3.38v3.36h-3.38zM59.10 94.78h3.38v3.36h-3.38zM7.88 98.70h3.38v3.36h-3.38zM11.82 98.70h3.38v3.36h-3.38zM19.70 98.70h3.38v3.36h-3.38zM31.52 98.70h3.38v3.36h-3.38zM39.40 98.70h3.38v3.36h-3.38zM35.46 102.62h3.38v3.36h-3.38zM43.34 106.54h3.38v3.36h-3.38zM47.28 106.54h3.38v3.36h-3.38zM51.22 106.54h3.38v3.36h-3.38zM27.58 110.46h3.38v3.36h-3.38zM39.40 110.46h3.38v3.36h-3.38zM31.52 114.38h3.38v3.36h-3.38zM39.40 114.38h3.38v3.36h-3.38zM51.22 118.30h3.38v3.36h-3.38zM47.28 122.22h3.38v3.36h-3.38zM39.40 126.14h3.38v3.36h-3.38zM51.22 126.14h3.38v3.36h-3.38zM35.46 133.98h3.38v3.36h-3.38zM39.40 141.82h3.38v3.36h-3.38zM66.98 141.82h3.38v3.36h-3.38zM43.34 145.74h3.38v3.36h-3.38zM27.58 149.66h3.38v3.36h-3.38zM51.22 149.66h3.38v3.36h-3.38zM11.82 157.50h3.38v3.36h-3.38zM43.34 157.50h3.38v3.36h-3.38zM63.04 157.50h3.38v3.36h-3.38zM35.46 165.34h3.38v3.36h-3.38zM59.10 165.34h3.38v3.36h-3.38zM55.16 173.18h3.38v3.36h-3.38zM39.40 177.10h3.38v3.36h-3.38zM43.34 181.02h3.38v3.36h-3.38zM55.16 181.02h3.38v3.36h-3.38zM27.58 184.94h3.38v3.36h-3.38zM7.88 188.86h3.38v3.36h-3.38zM27.58 188.86h3.38v3.36h-3.38zM35.46 188.86h3.38v3.36h-3.38zM23.64 192.78h3.38v3.36h-3.38zM31.52 192.78h3.38v3.36h-3.38zM66.98 196.70h3.38v3.36h-3.38zM23.64 200.62h3.38v3.36h-3.38zM39.40 200.62h3.38v3.36h-3.38zM59.10 200.62h3.38v3.36h-3.38zM19.70 204.54h3.38v3.36h-3.38zM27.58 204.54h3.38v3.36h-3.38zM47.28 204.54h3.38v3.36h-3.38zM31.52 208.46h3.38v3.36h-3.38zM35.46 208.46h3.38v3.36h-3.38zM63.04 208.46h3.38v3.36h-3.38zM7.88 212.38h3.38v3.36h-3.38zM23.64 212.38h3.38v3.36h-3.38zM63.04 212.38h3.38v3.36h-3.38zM15.76 216.30h3.38v3.36h-3.38zM19.70 216.30h3.38v3.36h-3.38zM35.46 216.30h3.38v3.36h-3.38zM23.64 220.22h3.38v3.36h-3.38zM47.28 220.22h3.38v3.36h-3.38zM66.98 224.14h3.38v3.36h-3.38zM23.64 228.06h3.38v3.36h-3.38zM51.22 228.06h3.38v3.36h-3.38zM47.28 231.98h3.38v3.36h-3.38zM7.88 235.90h3.38v3.36h-3.38zM39.40 235.90h3.38v3.36h-3.38zM63.04 235.90h3.38v3.36h-3.38zM19.70 239.82h3.38v3.36h-3.38zM23.64 243.74h3.38v3.36h-3.38zM35.46 243.74h3.38v3.36h-3.38zM55.16 243.74h3.38v3.36h-3.38zM23.64 247.66h3.38v3.36h-3.38zM31.52 247.66h3.38v3.36h-3.38zM39.40 247.66h3.38v3.36h-3.38z"/>
<path fill="#2e2ef6" d="M35.46 55.58h3.38v3.36h-3.38zM11.82 59.50h3.38v3.36h-3.38zM35.46 59.50h3.38v3.36h-3.38zM19.70 63.42h3.38v3.36h-3.38zM27.58 63.42h3.38v3.36h-3.38zM55.16 63.42h3.38v3.36h-3.38zM23.64 67.34h3.38v3.36h-3.38zM63.04 67.34h3.38v3.36h-3.38zM19.70 71.26h3.38v3.36h-3.38zM55.16 75.18h3.38v3.36h-3.38zM27.58 79.10h3.38v3.36h-3.38zM43.34 79.10h3.38v3.36h-3.38zM51.22 79.10h3.38v3.36h-3.38zM51.22 83.02h3.38v3.36h-3.38zM15.76 86.94h3.38v3.36h-3.38zM55.16 86.94h3.38v3.36h-3.38zM51.22 90.86h3.38v3.36h-3.38zM55.16 94.78h3.38v3.36h-3.38zM35.46 98.70h3.38v3.36h-3.38zM43.34 102.62h3.38v3.36h-3.38zM59.10 102.62h3.38v3.36h-3.38zM66.98 102.62h3.38v3.36h-3.38zM7.88 106.54h3.38v3.36h-3.38zM19.70 106.54h3.38v3.36h-3.38zM31.52 106.54h3.38v3.36h-3.38zM63.04 106.54h3.38v3.36h-3.38zM11.82 110.46h3.38v3.36h-3.38zM55.16 110.46h3.38v3.36h-3.38zM7.88 118.30h3.38v3.36h-3.38zM47.28 118.30h3.38v3.36h-3.38zM55.16 118.30h3.38v3.36h-3.38zM66.98 118.30h3.38v3.36h-3.38zM27.58 122.22h3.38v3.36h-3.38zM31.52 122.22h3.38v3.36h-3.38zM23.64 126.14h3.38v3.36h-3.38zM63.04 126.14h3.38v3.36h-3.38zM15.76 130.06h3.38v3.36h-3.38zM7.88 133.98h3.38v3.36h-3.38zM15.76 137.90h3.38v3.36h-3.38zM31.52 137.90h3.38v3.36h-3.38zM39.40 137.90h3.38v3.36h-3.38zM47.28 137.90h3.38v3.36h-3.38zM19.70 141.82h3.38v3.36h-3.38zM31.52 141.82h3.38v3.36h-3.38zM43.34 141.82h3.38v3.36h-3.38zM51.22 141.82h3.38v3.36h-3.38zM7.88 145.74h3.38v3.36h-3.38zM11.82 145.74h3.38v3.36h-3.38zM15.76 145.74h3.38v3.36h-3.38zM23.64 145.74h3.38v3.36h-3.38zM35.46 145.74h3.38v3.36h-3.38zM19.70 149.66h3.38v3.36h-3.38zM23.64 149.66h3.38v3.36h-3.38zM63.04 149.66h3.38v3.36h-3.38zM7.88 157.50h3.38v3.36h-3.38zM35.46 157.50h3.38v3.36h-3.38zM55.16 157.50h3.38v3.36h-3.38zM47.28 161.42h3.38v3.36h-3.38zM15.76 169.26h3.38v3.36h-3.38zM19.70 169.26h3.38v3.36h-3.38zM43.34 169.26h3.38v3.36h-3.38zM59.10 173.18h3.38v3.36h-3.38zM66.98 173.18h3.38v3.36h-3.38zM31.52 177.10h3.38v3.36h-3.38zM47.28 177.10h3.38v3.36h-3.38zM51.22 177.10h3.38v3.36h-3.38zM66.98 181.02h3.38v3.36h-3.38zM19.70 184.94h3.38v3.36h-3.38zM11.82 188.86h3.38v3.36h-3.38zM39.40 188.86h3.38v3.36h-3.38zM51.22 188.86h3.38v3.36h-3.38zM55.16 188.86h3.38v3.36h-3.38zM51.22 192.78h3.38v3.36h-3.38zM63.04 192.78h3.38v3.36h-3.38zM23.64 196.70h3.38v3.36h-3.38zM15.76 200.62h3.38v3.36h-3.38zM7.88 204.54h3.38v3.36h-3.38zM35.46 204.54h3.38v3.36h-3.38zM63.04 204.54h3.38v3.36h-3.38zM59.10 208.46h3.38v3.36h-3.38zM11.82 212.38h3.38v3.36h-3.38zM27.58 212.38h3.38v3.36h-3.38zM39.40 212.38h3.38v3.36h-3.38zM7.88 216.30h3.38v3.36h-3.38zM31.52 216.30h3.38v3.36h-3.38zM47.28 216.30h3.38v3.36h-3.38zM51.22 216.30h3.38v3.36h-3.38zM59.10 216.30h3.38v3.36h-3.38zM7.88 220.22h3.38v3.36h-3.38zM11.82 231.98h3.38v3.36h-3.38zM27.58 231.98h3.38v3.36h-3.38zM35.46 231.98h3.38v3.36h-3.38zM63.04 231.98h3.38v3.36h-3.38zM43.34 235.90h3.38v3.36h-3.38zM31.52 243.74h3.38v3.36h-3.38zM63.04 243.74h3.38v3.36h-3.38zM27.58 247.66h3.38v3.36h-3.38zM35.46 247.66h3.38v3.36h-3.38zM47.28 247.66h3.38v3.36h-3.38z"/>
<path fill="#a0a0f4" d="M47.28 55.58h3.38v3.36h-3.38zM31.52 59.50h3.38v3.36h-3.38zM43.34 59.50h3.38v3.36h-3.38zM7.88 67.34h3.38v3.36h-3.38zM39.40 67.34h3.38v3.36h-3.38zM47.28 67.34h3.38v3.36h-3.38zM31.52 71.26h3.38v3.36h-3.38zM63.04 71.26h3.38v3.36h-3.38zM59.10 75.18h3.38v3.36h-3.38zM47.28 79.10h3.38v3.36h-3.38zM19.70 86.94h3.38v3.36h-3.38zM51.22 86.94h3.38v3.36h-3.38zM23.64 114.38h3.38v3.36h-3.38zM11.82 122.22h3.38v3.36h-3.38zM51.22 122.22h3.38v3.36h-3.38zM63.04 122.22h3.38v3.36h-3.38zM66.98 122.22h3.38v3.36h-3.38zM66.98 130.06h3.38v3.36h-3.38zM63.04 133.98h3.38v3.36h-3.38zM19.70 137.90h3.38v3.36h-3.38zM15.76 141.82h3.38v3.36h-3.38zM47.28 145.74h3.38v3.36h-3.38zM31.52 153.58h3.38v3.36h-3.38zM39.40 157.50h3.38v3.36h-3.38zM59.10 161.42h3.38v3.36h-3.38zM7.88 165.34h3.38v3.36h-3.38zM27.58 165.34h3.38v3.36h-3.38zM47.28 181.02h3.38v3.36h-3.38zM39.40 184.94h3.38v3.36h-3.38zM47.28 184.94h3.38v3.36h-3.38zM31.52 188.86h3.38v3.36h-3.38zM27.58 200.62h3.38v3.36h-3.38zM51.22 200.62h3.38v3.36h-3.38zM31.52 204.54h3.38v3.36h-3.38zM39.40 208.46h3.38v3.36h-3.38zM55.16 212.38h3.38v3.36h-3.38zM23.64 216.30h3.38v3.36h-3.38zM43.34 216.30h3.38v3.36h-3.38zM63.04 216.30h3.38v3.36h-3.38zM51.22 220.22h3.38v3.36h-3.38zM35.46 224.14h3.38v3.36h-3.38zM43.34 224.14h3.38v3.36h-3.38zM19.70 228.06h3.38v3.36h-3.38zM27.58 228.06h3.38v3.36h-3.38zM47.28 228.06h3.38v3.36h-3.38zM55.16 228.06h3.38v3.36h-3.38zM31.52 231.98h3.38v3.36h-3.38zM55.16 235.90h3.38v3.36h-3.38zM55.16 247.66h3.38v3.36h-3.38zM74.86 251.58h3.38v3.36h-3.38zM98.50 251.58h3.38v3.36h-3.38zM70.92 255.50h3.38v3.36h-3.38zM70.92 259.42h3.38v3.36h-3.38zM94.56 259.42h3.38v3.36h-3.38zM118.20 259.42h3.38v3.36h-3.38zM130.02 259.42h3.38v3.36h-3.38zM82.74 263.34h3.38v3.36h-3.38zM94.56 263.34h3.38v3.36h-3.38zM110.32 279.02h3.38v3.36h-3.38zM82.74 282.94h3.38v3.36h-3.38zM126.08 282.94h3.38v3.36h-3.38zM82.74 286.86h3.38v3.36h-3.38zM98.50 286.86h3.38v3.36h-3.38zM90.62 290.78h3.38v3.36h-3.38zM78.80 294.70h3.38v3.36h-3.38zM90.62 294.70h3.38v3.36h-3.38zM106.38 294.70h3.38v3.36h-3.38zM114.26 294.70h3.38v3.36h-3.38zM122.14 294.70h3.38v3.36h-3.38zM130.02 294.70h3.38v3.36h-3.38zM74.86 298.62h3.38v3.36h-3.38zM118.20 298.62h3.38v3.36h-3.38zM98.50 302.54h3.38v3.36h-3.38zM70.92 306.46h3.38v3.36h-3.38zM110.32 306.46h3.38v3.36h-3.38zM70.92 310.38h3.38v3.36h-3.38zM94.56 310.38h3.38v3.36h-3.38zM106.38 310.38h3.38v3.36h-3.38zM74.86 314.30h3.38v3.36h-3.38zM106.38 314.30h3.38v3.36h-3.38zM122.14 314.30h3.38v3.36h-3.38zM78.80 318.22h3.38v3.36h-3.38zM118.20 326.06h3.38v3.36h-3.38zM130.02 337.82h3.38v3.36h-3.38zM82.74 341.74h3.38v3.36h-3.38zM118.20 345.66h3.38v3.36h-3.38zM98.50 349.58h3.38v3.36h-3.38zM122.14 349.58h3.38v3.36h-3.38zM74.86 353.50h3.38v3.36h-3.38zM90.62 357.42h3.38v3.36h-3.38zM114.26 357.42h3.38v3.36h-3.38zM78.80 361.34h3.38v3.36h-3.38zM90.62 361.34h3.38v3.36h-3.38zM118.20 361.34h3.38v3.36h-3.38zM122.14 361.34h3.38v3.36h-3.38zM78.80 365.26h3.38v3.36h-3.38zM86.68 365.26h3.38v3.36h-3.38zM94.56 365.26h3.38v3.36h-3.38zM110.32 365.26h3.38v3.36h-3.38zM126.08 365.26h3.38v3.36h-3.38zM118.20 369.18h3.38v3.36h-3.38zM126.08 369.18h3.38v3.36h-3.38zM130.02 369.18h3.38v3.36h-3.38zM86.68 373.10h3.38v3.36h-3.38zM122.14 377.02h3.38v3.36h-3.38zM110.32 380.94h3.38v3.36h-3.38zM118.20 384.86h3.38v3.36h-3.38zM110.32 388.78h3.38v3.36h-3.38zM122.14 388.78h3.38v3.36h-3.38zM78.80 392.70h3.38v3.36h-3.38zM118.20 392.70h3.38v3.36h-3.38zM126.08 392.70h3.38v3.36h-3.38zM74.86 396.62h3.38v3.36h-3.38zM122.14 396.62h3.38v3.36h-3.38zM114.26 400.54h3.38v3.36h-3.38zM78.80 412.30h3.38v3.36h-3.38zM90.62 412.30h3.38v3.36h-3.38zM98.50 412.30h3.38v3.36h-3.38zM118.20 412.30h3.38v3.36h-3.38zM122.14 420.14h3.38v3.36h-3.38zM130.02 420.14h3.38v3.36h-3.38zM118.20 424.06h3.38v3.36h-3.38zM74.86 427.98h3.38v3.36h-3.38zM90.62 427.98h3.38v3.36h-3.38zM74.86 431.90h3.38v3.36h-3.38zM106.38 431.90h3.38v3.36h-3.38zM70.92 439.74h3.38v3.36h-3.38zM78.80 439.74h3.38v3.36h-3.38zM94.56 439.74h3.38v3.36h-3.38zM90.62 443.66h3.38v3.36h-3.38z"/>
<path fill="#7070f4" d="M51.22 55.58h3.38v3.36h-3.38zM59.10 55.58h3.38v3.36h-3.38zM27.58 59.50h3.38v3.36h-3.38zM51.22 59.50h3.38v3.36h-3.38zM51.22 63.42h3.38v3.36h-3.38zM7.88 71.26h3.38v3.36h-3.38zM55.16 71.26h3.38v3.36h-3.38zM15.76 75.18h3.38v3.36h-3.38zM63.04 75.18h3.38v3.36h-3.38zM31.52 79.10h3.38v3.36h-3.38zM39.40 79.10h3.38v3.36h-3.38zM63.04 79.10h3.38v3.36h-3.38zM27.58 83.02h3.38v3.36h-3.38zM19.70 94.78h3.38v3.36h-3.38zM27.58 94.78h3.38v3.36h-3.38zM51.22 110.46h3.38v3.36h-3.38zM63.04 110.46h3.38v3.36h-3.38zM7.88 114.38h3.38v3.36h-3.38zM23.64 122.22h3.38v3.36h-3.38zM43.34 122.22h3.38v3.36h-3.38zM55.16 122.22h3.38v3.36h-3.38zM19.70 126.14h3.38v3.36h-3.38zM27.58 126.14h3.38v3.36h-3.38zM31.52 133.98h3.38v3.36h-3.38zM43.34 137.90h3.38v3.36h-3.38zM66.98 137.90h3.38v3.36h-3.38zM27.58 141.82h3.38v3.36h-3.38zM59.10 141.82h3.38v3.36h-3.38zM63.04 153.58h3.38v3.36h-3.38zM27.58 157.50h3.38v3.36h-3.38zM47.28 157.50h3.38v3.36h-3.38zM43.34 161.42h3.38v3.36h-3.38zM66.98 161.42h3.38v3.36h-3.38zM47.28 165.34h3.38v3.36h-3.38zM51.22 165.34h3.38v3.36h-3.38zM63.04 165.34h3.38v3.36h-3.38zM11.82 173.18h3.38v3.36h-3.38zM27.58 177.10h3.38v3.36h-3.38zM51.22 181.02h3.38v3.36h-3.38zM43.34 184.94h3.38v3.36h-3.38zM59.10 184.94h3.38v3.36h-3.38zM27.58 192.78h3.38v3.36h-3.38zM35.46 192.78h3.38v3.36h-3.38zM39.40 196.70h3.38v3.36h-3.38zM51.22 212.38h3.38v3.36h-3.38zM63.04 220.22h3.38v3.36h-3.38zM63.04 224.14h3.38v3.36h-3.38zM7.88 228.06h3.38v3.36h-3.38zM7.88 231.98h3.38v3.36h-3.38zM23.64 231.98h3.38v3.36h-3.38zM43.34 239.82h3.38v3.36h-3.38zM47.28 239.82h3.38v3.36h-3.38zM55.16 239.82h3.38v3.36h-3.38zM7.88 243.74h3.38v3.36h-3.38zM7.88 247.66h3.38v3.36h-3.38zM110.32 251.58h3.38v3.36h-3.38zM78.80 255.50h3.38v3.36h-3.38zM86.68 259.42h3.38v3.36h-3.38zM106.38 259.42h3.38v3.36h-3.38zM74.86 263.34h3.38v3.36h-3.38zM82.74 267.26h3.38v3.36h-3.38zM90.62 267.26h3.38v3.36h-3.38zM106.38 267.26h3.38v3.36h-3.38zM78.80 271.18h3.38v3.36h-3.38zM122.14 275.10h3.38v3.36h-3.38zM74.86 279.02h3.38v3.36h-3.38zM78.80 279.02h3.38v3.36h-3.38zM98.50 279.02h3.38v3.36h-3.38zM130.02 279.02h3.38v3.36h-3.38zM70.92 282.94h3.38v3.36h-3.38zM86.68 282.94h3.38v3.36h-3.38zM98.50 282.94h3.38v3.36h-3.38zM122.14 282.94h3.38v3.36h-3.38zM94.56 286.86h3.38v3.36h-3.38zM118.20 286.86h3.38v3.36h-3.38zM118.20 290.78h3.38v3.36h-3.38zM94.56 298.62h3.38v3.36h-3.38zM126.08 298.62h3.38v3.36h-3.38zM74.86 302.54h3.38v3.36h-3.38zM118.20 302.54h3.38v3.36h-3.38zM130.02 302.54h3.38v3.36h-3.38zM78.80 306.46h3.38v3.36h-3.38zM86.68 306.46h3.38v3.36h-3.38zM86.68 310.38h3.38v3.36h-3.38zM78.80 314.30h3.38v3.36h-3.38zM122.14 318.22h3.38v3.36h-3.38zM90.62 322.14h3.38v3.36h-3.38zM86.68 326.06h3.38v3.36h-3.38zM70.92 329.98h3.38v3.36h-3.38zM78.80 329.98h3.38v3.36h-3.38zM98.50 329.98h3.38v3.36h-3.38zM74.86 333.90h3.38v3.36h-3.38zM106.38 333.90h3.38v3.36h-3.38zM94.56 337.82h3.38v3.36h-3.38zM118.20 337.82h3.38v3.36h-3.38zM98.50 341.74h3.38v3.36h-3.38zM122.14 341.74h3.38v3.36h-3.38zM78.80 345.66h3.38v3.36h-3.38zM106.38 345.66h3.38v3.36h-3.38zM130.02 345.66h3.38v3.36h-3.38zM74.86 349.58h3.38v3.36h-3.38zM130.02 349.58h3.38v3.36h-3.38zM82.74 353.50h3.38v3.36h-3.38zM110.32 353.50h3.38v3.36h-3.38zM122.14 353.50h3.38v3.36h-3.38zM130.02 353.50h3.38v3.36h-3.38zM74.86 357.42h3.38v3.36h-3.38zM78.80 357.42h3.38v3.36h-3.38zM98.50 357.42h3.38v3.36h-3.38zM110.32 357.42h3.38v3.36h-3.38zM70.92 365.26h3.38v3.36h-3.38zM78.80 369.18h3.38v3.36h-3.38zM86.68 369.18h3.38v3.36h-3.38zM114.26 373.10h3.38v3.36h-3.38zM86.68 377.02h3.38v3.36h-3.38zM110.32 377.02h3.38v3.36h-3.38zM106.38 384.86h3.38v3.36h-3.38zM86.68 388.78h3.38v3.36h-3.38zM90.62 392.70h3.38v3.36h-3.38zM90.62 396.62h3.38v3.36h-3.38zM106.38 396.62h3.38v3.36h-3.38zM114.26 396.62h3.38v3.36h-3.38zM82.74 400.54h3.38v3.36h-3.38zM90.62 400.54h3.38v3.36h-3.38zM130.02 400.54h3.38v3.36h-3.38zM94.56 404.46h3.38v3.36h-3.38zM106.38 404.46h3.38v3.36h-3.38zM114.26 408.38h3.38v3.36h-3.38zM130.02 408.38h3.38v3.36h-3.38zM126.08 412.30h3.38v3.36h-3.38zM78.80 416.22h3.38v3.36h-3.38zM126.08 416.22h3.38v3.36h-3.38zM98.50 420.14h3.38v3.36h-3.38zM126.08 420.14h3.38v3.36h-3.38zM94.56 424.06h3.38v3.36h-3.38zM98.50 427.98h3.38v3.36h-3.38zM130.02 427.98h3.38v3.36h-3.38zM94.56 431.90h3.38v3.36h-3.38zM114.26 431.90h3.38v3.36h-3.38zM74.86 435.82h3.38v3.36h-3.38z"/>
<path fill="#8a8af4" d="M63.04 55.58h3.38v3.36h-3.38zM35.46 67.34h3.38v3.36h-3.38zM27.58 71.26h3.38v3.36h-3.38zM47.28 83.02h3.38v3.36h-3.38zM35.46 90.86h3.38v3.36h-3.38zM59.10 90.86h3.38v3.36h-3.38zM39.40 102.62h3.38v3.36h-3.38zM55.16 102.62h3.38v3.36h-3.38zM23.64 110.46h3.38v3.36h-3.38zM43.34 114.38h3.38v3.36h-3.38zM55.16 114.38h3.38v3.36h-3.38zM66.98 114.38h3.38v3.36h-3.38zM43.34 118.30h3.38v3.36h-3.38zM63.04 130.06h3.38v3.36h-3.38zM23.64 133.98h3.38v3.36h-3.38zM39.40 133.98h3.38v3.36h-3.38zM27.58 137.90h3.38v3.36h-3.38zM59.10 137.90h3.38v3.36h-3.38zM35.46 141.82h3.38v3.36h-3.38zM11.82 149.66h3.38v3.36h-3.38zM59.10 149.66h3.38v3.36h-3.38zM19.70 161.42h3.38v3.36h-3.38zM23.64 165.34h3.38v3.36h-3.38zM51.22 169.26h3.38v3.36h-3.38zM43.34 173.18h3.38v3.36h-3.38zM63.04 173.18h3.38v3.36h-3.38zM55.16 177.10h3.38v3.36h-3.38zM15.76 181.02h3.38v3.36h-3.38zM35.46 181.02h3.38v3.36h-3.38zM15.76 192.78h3.38v3.36h-3.38zM55.16 192.78h3.38v3.36h-3.38zM66.98 192.78h3.38v3.36h-3.38zM15.76 196.70h3.38v3.36h-3.38zM66.98 200.62h3.38v3.36h-3.38zM19.70 212.38h3.38v3.36h-3.38zM55.16 216.30h3.38v3.36h-3.38zM27.58 220.22h3.38v3.36h-3.38zM39.40 220.22h3.38v3.36h-3.38zM23.64 224.14h3.38v3.36h-3.38zM39.40 228.06h3.38v3.36h-3.38zM43.34 231.98h3.38v3.36h-3.38zM51.22 235.90h3.38v3.36h-3.38zM15.76 243.74h3.38v3.36h-3.38zM27.58 243.74h3.38v3.36h-3.38zM51.22 243.74h3.38v3.36h-3.38zM63.04 247.66h3.38v3.36h-3.38zM90.62 251.58h3.38v3.36h-3.38zM90.62 255.50h3.38v3.36h-3.38zM106.38 255.50h3.38v3.36h-3.38zM118.20 255.50h3.38v3.36h-3.38zM110.32 263.34h3.38v3.36h-3.38zM126.08 263.34h3.38v3.36h-3.38zM126.08 267.26h3.38v3.36h-3.38zM94.56 271.18h3.38v3.36h-3.38zM70.92 275.10h3.38v3.36h-3.38zM90.62 275.10h3.38v3.36h-3.38zM74.86 282.94h3.38v3.36h-3.38zM110.32 282.94h3.38v3.36h-3.38zM118.20 282.94h3.38v3.36h-3.38zM106.38 286.86h3.38v3.36h-3.38zM130.02 286.86h3.38v3.36h-3.38zM70.92 290.78h3.38v3.36h-3.38zM78.80 290.78h3.38v3.36h-3.38zM86.68 290.78h3.38v3.36h-3.38zM98.50 294.70h3.38v3.36h-3.38zM78.80 298.62h3.38v3.36h-3.38zM90.62 298.62h3.38v3.36h-3.38zM110.32 298.62h3.38v3.36h-3.38zM98.50 306.46h3.38v3.36h-3.38zM122.14 306.46h3.38v3.36h-3.38zM74.86 310.38h3.38v3.36h-3.38zM130.02 310.38h3.38v3.36h-3.38zM90.62 314.30h3.38v3.36h-3.38zM86.68 318.22h3.38v3.36h-3.38zM94.56 318.22h3.38v3.36h-3.38zM74.86 322.14h3.38v3.36h-3.38zM106.38 322.14h3.38v3.36h-3.38zM122.14 322.14h3.38v3.36h-3.38zM130.02 322.14h3.38v3.36h-3.38zM74.86 326.06h3.38v3.36h-3.38zM98.50 326.06h3.38v3.36h-3.38zM118.20 329.98h3.38v3.36h-3.38zM90.62 333.90h3.38v3.36h-3.38zM94.56 333.90h3.38v3.36h-3.38zM122.14 333.90h3.38v3.36h-3.38zM130.02 333.90h3.38v3.36h-3.38zM78.80 337.82h3.38v3.36h-3.38zM86.68 337.82h3.38v3.36h-3.38zM70.92 341.74h3.38v3.36h-3.38zM106.38 341.74h3.38v3.36h-3.38zM90.62 353.50h3.38v3.36h-3.38zM106.38 361.34h3.38v3.36h-3.38zM118.20 365.26h3.38v3.36h-3.38zM94.56 369.18h3.38v3.36h-3.38zM110.32 369.18h3.38v3.36h-3.38zM74.86 373.10h3.38v3.36h-3.38zM94.56 373.10h3.38v3.36h-3.38zM122.14 373.10h3.38v3.36h-3.38zM130.02 373.10h3.38v3.36h-3.38zM70.92 377.02h3.38v3.36h-3.38zM98.50 377.02h3.38v3.36h-3.38zM130.02 377.02h3.38v3.36h-3.38zM90.62 380.94h3.38v3.36h-3.38zM118.20 380.94h3.38v3.36h-3.38zM74.86 384.86h3.38v3.36h-3.38zM86.68 384.86h3.38v3.36h-3.38zM94.56 384.86h3.38v3.36h-3.38zM122.14 384.86h3.38v3.36h-3.38zM126.08 384.86h3.38v3.36h-3.38zM70.92 388.78h3.38v3.36h-3.38zM98.50 388.78h3.38v3.36h-3.38zM118.20 388.78h3.38v3.36h-3.38zM130.02 396.62h3.38v3.36h-3.38zM74.86 400.54h3.38v3.36h-3.38zM94.56 400.54h3.38v3.36h-3.38zM82.74 404.46h3.38v3.36h-3.38zM114.26 404.46h3.38v3.36h-3.38zM74.86 408.38h3.38v3.36h-3.38zM106.38 412.30h3.38v3.36h-3.38zM114.26 412.30h3.38v3.36h-3.38zM90.62 420.14h3.38v3.36h-3.38zM114.26 420.14h3.38v3.36h-3.38zM106.38 427.98h3.38v3.36h-3.38zM122.14 431.90h3.38v3.36h-3.38zM130.02 431.90h3.38v3.36h-3.38zM98.50 435.82h3.38v3.36h-3.38zM122.14 435.82h3.38v3.36h-3.38zM86.68 439.74h3.38v3.36h-3.38zM106.38 439.74h3.38v3.36h-3.38z"/>
<path fill="#f20418" d="M70.92 55.58h3.38v3.36h-3.38zM78.80 55.58h3.38v3.36h-3.38zM106.38 55.58h3.38v3.36h-3.38zM126.08 55.58h3.38v3.36h-3.38zM74.86 59.50h3.38v3.36h-3.38zM82.74 59.50h3.38v3.36h-3.38zM70.92 63.42h3.38v3.36h-3.38zM78.80 63.42h3.38v3.36h-3.38zM118.20 63.42h3.38v3.36h-3.38zM122.14 63.42h3.38v3.36h-3.38zM74.86 67.34h3.38v3.36h-3.38zM90.62 71.26h3.38v3.36h-3.38zM118.20 71.26h3.38v3.36h-3.38zM82.74 75.18h3.38v3.36h-3.38zM94.56 75.18h3.38v3.36h-3.38zM130.02 75.18h3.38v3.36h-3.38zM70.92 79.10h3.38v3.36h-3.38zM82.74 86.94h3.38v3.36h-3.38zM94.56 90.86h3.38v3.36h-3.38zM130.02 90.86h3.38v3.36h-3.38zM74.86 94.78h3.38v3.36h-3.38zM94.56 94.78h3.38v3.36h-3.38zM106.38 94.78h3.38v3.36h-3.38zM86.68 98.70h3.38v3.36h-3.38zM114.26 102.62h3.38v3.36h-3.38zM122.14 102.62h3.38v3.36h-3.38zM126.08 102.62h3.38v3.36h-3.38zM86.68 106.54h3.38v3.36h-3.38zM98.50 106.54h3.38v3.36h-3.38zM106.38 110.46h3.38v3.36h-3.38zM114.26 110.46h3.38v3.36h-3.38zM122.14 110.46h3.38v3.36h-3.38zM114.26 114.38h3.38v3.36h-3.38zM82.74 118.30h3.38v3.36h-3.38zM94.56 118.30h3.38v3.36h-3.38zM114.26 118.30h3.38v3.36h-3.38zM126.08 118.30h3.38v3.36h-3.38zM122.14 122.22h3.38v3.36h-3.38zM74.86 126.14h3.38v3.36h-3.38zM82.74 126.14h3.38v3.36h-3.38zM94.56 130.06h3.38v3.36h-3.38zM118.20 133.98h3.38v3.36h-3.38zM126.08 133.98h3.38v3.36h-3.38zM74.86 137.90h3.38v3.36h-3.38zM94.56 137.90h3.38v3.36h-3.38zM126.08 137.90h3.38v3.36h-3.38zM78.80 141.82h3.38v3.36h-3.38zM110.32 141.82h3.38v3.36h-3.38zM70.92 149.66h3.38v3.36h-3.38zM90.62 153.58h3.38v3.36h-3.38zM106.38 153.58h3.38v3.36h-3.38zM118.20 153.58h3.38v3.36h-3.38zM126.08 157.50h3.38v3.36h-3.38zM70.92 161.42h3.38v3.36h-3.38zM78.80 161.42h3.38v3.36h-3.38zM122.14 161.42h3.38v3.36h-3.38zM74.86 165.34h3.38v3.36h-3.38zM98.50 165.34h3.38v3.36h-3.38zM90.62 169.26h3.38v3.36h-3.38zM126.08 169.26h3.38v3.36h-3.38zM74.86 173.18h3.38v3.36h-3.38zM94.56 173.18h3.38v3.36h-3.38zM114.26 173.18h3.38v3.36h-3.38zM94.56 177.10h3.38v3.36h-3.38zM114.26 177.10h3.38v3.36h-3.38zM118.20 177.10h3.38v3.36h-3.38zM126.08 177.10h3.38v3.36h-3.38zM82.74 184.94h3.38v3.36h-3.38zM74.86 188.86h3.38v3.36h-3.38zM118.20 188.86h3.38v3.36h-3.38zM130.02 188.86h3.38v3.36h-3.38zM70.92 192.78h3.38v3.36h-3.38zM118.20 192.78h3.38v3.36h-3.38zM110.32 196.70h3.38v3.36h-3.38zM118.20 200.62h3.38v3.36h-3.38zM126.08 200.62h3.38v3.36h-3.38zM82.74 204.54h3.38v3.36h-3.38zM126.08 204.54h3.38v3.36h-3.38zM130.02 204.54h3.38v3.36h-3.38zM70.92 208.46h3.38v3.36h-3.38zM94.56 208.46h3.38v3.36h-3.38zM98.50 208.46h3.38v3.36h-3.38zM126.08 208.46h3.38v3.36h-3.38zM130.02 212.38h3.38v3.36h-3.38zM78.80 216.30h3.38v3.36h-3.38zM94.56 216.30h3.38v3.36h-3.38zM114.26 216.30h3.38v3.36h-3.38zM122.14 216.30h3.38v3.36h-3.38zM106.38 224.14h3.38v3.36h-3.38zM114.26 224.14h3.38v3.36h-3.38zM78.80 228.06h3.38v3.36h-3.38zM86.68 228.06h3.38v3.36h-3.38zM70.92 231.98h3.38v3.36h-3.38zM78.80 231.98h3.38v3.36h-3.38zM78.80 235.90h3.38v3.36h-3.38zM82.74 235.90h3.38v3.36h-3.38zM110.32 235.90h3.38v3.36h-3.38zM114.26 235.90h3.38v3.36h-3.38zM130.02 235.90h3.38v3.36h-3.38zM82.74 239.82h3.38v3.36h-3.38zM118.20 239.82h3.38v3.36h-3.38zM70.92 243.74h3.38v3.36h-3.38zM86.68 243.74h3.38v3.36h-3.38zM118.20 243.74h3.38v3.36h-3.38zM78.80 247.66h3.38v3.36h-3.38zM90.62 247.66h3.38v3.36h-3.38zM118.20 247.66h3.38v3.36h-3.38zM126.08 247.66h3.38v3.36h-3.38zM51.22 251.58h3.38v3.36h-3.38zM7.88 259.42h3.38v3.36h-3.38zM27.58 259.42h3.38v3.36h-3.38zM31.52 259.42h3.38v3.36h-3.38zM19.70 263.34h3.38v3.36h-3.38zM39.40 263.34h3.38v3.36h-3.38zM31.52 267.26h3.38v3.36h-3.38zM59.10 267.26h3.38v3.36h-3.38zM11.82 271.18h3.38v3.36h-3.38zM19.70 271.18h3.38v3.36h-3.38zM7.88 279.02h3.38v3.36h-3.38zM11.82 279.02h3.38v3.36h-3.38zM35.46 279.02h3.38v3.36h-3.38zM43.34 279.02h3.38v3.36h-3.38zM51.22 279.02h3.38v3.36h-3.38zM66.98 279.02h3.38v3.36h-3.38zM31.52 282.94h3.38v3.36h-3.38zM47.28 282.94h3.38v3.36h-3.38zM7.88 286.86h3.38v3.36h-3.38zM55.16 286.86h3.38v3.36h-3.38zM63.04 290.78h3.38v3.36h-3.38zM19.70 294.70h3.38v3.36h-3.38zM43.34 294.70h3.38v3.36h-3.38zM59.10 294.70h3.38v3.36h-3.38zM7.88 298.62h3.38v3.36h-3.38zM15.76 298.62h3.38v3.36h-3.38zM31.52 298.62h3.38v3.36h-3.38zM55.16 298.62h3.38v3.36h-3.38zM7.88 302.54h3.38v3.36h-3.38zM27.58 302.54h3.38v3.36h-3.38zM55.16 302.54h3.38v3.36h-3.38zM47.28 306.46h3.38v3.36h-3.38zM39.40 310.38h3.38v3.36h-3.38zM39.40 314.30h3.38v3.36h-3.38zM63.04 314.30h3.38v3.36h-3.38zM11.82 318.22h3.38v3.36h-3.38zM39.40 318.22h3.38v3.36h-3.38zM55.16 318.22h3.38v3.36h-3.38zM35.46 322.14h3.38v3.36h-3.38zM47.28 322.14h3.38v3.36h-3.38zM59.10 322.14h3.38v3.36h-3.38zM27.58 326.06h3.38v3.36h-3.38zM51.22 326.06h3.38v3.36h-3.38zM39.40 329.98h3.38v3.36h-3.38zM51.22 329.98h3.38v3.36h-3.38zM66.98 329.98h3.38v3.36h-3.38zM31.52 333.90h3.38v3.36h-3.38zM43.34 333.90h3.38v3.36h-3.38zM11.82 337.82h3.38v3.36h-3.38zM63.04 337.82h3.38v3.36h-3.38zM27.58 341.74h3.38v3.36h-3.38zM15.76 349.58h3.38v3.36h-3.38zM27.58 349.58h3.38v3.36h-3.38zM51.22 353.50h3.38v3.36h-3.38zM51.22 357.42h3.38v3.36h-3.38zM11.82 361.34h3.38v3.36h-3.38zM31.52 361.34h3.38v3.36h-3.38zM39.40 361.34h3.38v3.36h-3.38zM35.46 365.26h3.38v3.36h-3.38zM63.04 365.26h3.38v3.36h-3.38zM66.98 365.26h3.38v3.36h-3.38zM43.34 369.18h3.38v3.36h-3.38zM66.98 373.10h3.38v3.36h-3.38zM27.58 377.02h3.38v3.36h-3.38zM39.40 377.02h3.38v3.36h-3.38zM59.10 377.02h3.38v3.36h-3.38zM7.88 380.94h3.38v3.36h-3.38zM39.40 380.94h3.38v3.36h-3.38zM55.16 380.94h3.38v3.36h-3.38zM55.16 388.78h3.38v3.36h-3.38zM66.98 388.78h3.38v3.36h-3.38zM27.58 392.70h3.38v3.36h-3.38zM19.70 396.62h3.38v3.36h-3.38zM31.52 396.62h3.38v3.36h-3.38zM47.28 396.62h3.38v3.36h-3.38zM15.76 400.54h3.38v3.36h-3.38zM55.16 400.54h3.38v3.36h-3.38zM23.64 404.46h3.38v3.36h-3.38zM35.46 408.38h3.38v3.36h-3.38zM39.40 408.38h3.38v3.36h-3.38zM7.88 416.22h3.38v3.36h-3.38zM39.40 416.22h3.38v3.36h-3.38zM7.88 424.06h3.38v3.36h-3.38zM47.28 424.06h3.38v3.36h-3.38zM11.82 427.98h3.38v3.36h-3.38zM27.58 427.98h3.38v3.36h-3.38zM51.22 427.98h3.38v3.36h-3.38zM27.58 431.90h3.38v3.36h-3.38zM47.28 431.90h3.38v3.36h-3.38zM27.58 435.82h3.38v3.36h-3.38zM66.98 435.82h3.38v3.36h-3.38zM43.34 439.74h3.38v3.36h-3.38zM51.22 439.74h3.38v3.36h-3.38zM31.52 443.66h3.38v3.36h-3.38zM43.34 443.66h3.38v3.36h-3.38z"/>
<path fill="#f652a2" d="M74.86 55.58h3.38v3.36h-3.38zM90.62 55.58h3.38v3.36h-3.38zM98.50 55.58h3.38v3.36h-3.38zM118.20 55.58h3.38v3.36h-3.38zM122.14 59.50h3.38v3.36h-3.38zM130.02 59.50h3.38v3.36h-3.38zM82.74 67.34h3.38v3.36h-3.38zM94.56 67.34h3.38v3.36h-3.38zM114.26 67.34h3.38v3.36h-3.38zM70.92 71.26h3.38v3.36h-3.38zM94.56 71.26h3.38v3.36h-3.38zM70.92 75.18h3.38v3.36h-3.38zM98.50 75.18h3.38v3.36h-3.38zM110.32 75.18h3.38v3.36h-3.38zM74.86 79.10h3.38v3.36h-3.38zM94.56 79.10h3.38v3.36h-3.38zM122.14 79.10h3.38v3.36h-3.38zM98.50 83.02h3.38v3.36h-3.38zM106.38 83.02h3.38v3.36h-3.38zM118.20 83.02h3.38v3.36h-3.38zM126.08 83.02h3.38v3.36h-3.38zM94.56 86.94h3.38v3.36h-3.38zM98.50 86.94h3.38v3.36h-3.38zM130.02 86.94h3.38v3.36h-3.38zM90.62 90.86h3.38v3.36h-3.38zM78.80 94.78h3.38v3.36h-3.38zM74.86 98.70h3.38v3.36h-3.38zM106.38 98.70h3.38v3.36h-3.38zM70.92 102.62h3.38v3.36h-3.38zM118.20 102.62h3.38v3.36h-3.38zM74.86 106.54h3.38v3.36h-3.38zM94.56 106.54h3.38v3.36h-3.38zM118.20 106.54h3.38v3.36h-3.38zM126.08 106.54h3.38v3.36h-3.38zM118.20 110.46h3.38v3.36h-3.38zM74.86 114.38h3.38v3.36h-3.38zM82.74 114.38h3.38v3.36h-3.38zM78.80 118.30h3.38v3.36h-3.38zM110.32 118.30h3.38v3.36h-3.38zM118.20 118.30h3.38v3.36h-3.38zM130.02 118.30h3.38v3.36h-3.38zM86.68 122.22h3.38v3.36h-3.38zM74.86 130.06h3.38v3.36h-3.38zM82.74 130.06h3.38v3.36h-3.38zM126.08 130.06h3.38v3.36h-3.38zM86.68 133.98h3.38v3.36h-3.38zM122.14 133.98h3.38v3.36h-3.38zM70.92 145.74h3.38v3.36h-3.38zM118.20 145.74h3.38v3.36h-3.38zM78.80 153.58h3.38v3.36h-3.38zM98.50 153.58h3.38v3.36h-3.38zM110.32 153.58h3.38v3.36h-3.38zM130.02 153.58h3.38v3.36h-3.38zM70.92 157.50h3.38v3.36h-3.38zM110.32 157.50h3.38v3.36h-3.38zM122.14 157.50h3.38v3.36h-3.38zM82.74 161.42h3.38v3.36h-3.38zM90.62 161.42h3.38v3.36h-3.38zM98.50 161.42h3.38v3.36h-3.38zM70.92 165.34h3.38v3.36h-3.38zM78.80 165.34h3.38v3.36h-3.38zM114.26 165.34h3.38v3.36h-3.38zM130.02 165.34h3.38v3.36h-3.38zM86.68 169.26h3.38v3.36h-3.38zM98.50 169.26h3.38v3.36h-3.38zM90.62 177.10h3.38v3.36h-3.38zM106.38 177.10h3.38v3.36h-3.38zM106.38 181.02h3.38v3.36h-3.38zM114.26 181.02h3.38v3.36h-3.38zM94.56 184.94h3.38v3.36h-3.38zM114.26 184.94h3.38v3.36h-3.38zM82.74 188.86h3.38v3.36h-3.38zM98.50 188.86h3.38v3.36h-3.38zM94.56 192.78h3.38v3.36h-3.38zM114.26 192.78h3.38v3.36h-3.38zM82.74 196.70h3.38v3.36h-3.38zM106.38 196.70h3.38v3.36h-3.38zM78.80 200.62h3.38v3.36h-3.38zM110.32 200.62h3.38v3.36h-3.38zM78.80 204.54h3.38v3.36h-3.38zM86.68 204.54h3.38v3.36h-3.38zM90.62 208.46h3.38v3.36h-3.38zM106.38 208.46h3.38v3.36h-3.38zM118.20 208.46h3.38v3.36h-3.38zM86.68 212.38h3.38v3.36h-3.38zM126.08 212.38h3.38v3.36h-3.38zM90.62 216.30h3.38v3.36h-3.38zM98.50 220.22h3.38v3.36h-3.38zM130.02 220.22h3.38v3.36h-3.38zM94.56 224.14h3.38v3.36h-3.38zM110.32 224.14h3.38v3.36h-3.38zM126.08 224.14h3.38v3.36h-3.38zM118.20 228.06h3.38v3.36h-3.38zM130.02 228.06h3.38v3.36h-3.38zM82.74 231.98h3.38v3.36h-3.38zM114.26 231.98h3.38v3.36h-3.38zM74.86 235.90h3.38v3.36h-3.38zM86.68 235.90h3.38v3.36h-3.38zM118.20 235.90h3.38v3.36h-3.38zM70.92 239.82h3.38v3.36h-3.38zM47.28 251.58h3.38v3.36h-3.38zM51.22 255.50h3.38v3.36h-3.38zM15.76 259.42h3.38v3.36h-3.38zM59.10 259.42h3.38v3.36h-3.38zM7.88 263.34h3.38v3.36h-3.38zM15.76 271.18h3.38v3.36h-3.38zM39.40 271.18h3.38v3.36h-3.38zM23.64 279.02h3.38v3.36h-3.38zM47.28 279.02h3.38v3.36h-3.38zM15.76 282.94h3.38v3.36h-3.38zM11.82 286.86h3.38v3.36h-3.38zM59.10 286.86h3.38v3.36h-3.38zM15.76 294.70h3.38v3.36h-3.38zM23.64 294.70h3.38v3.36h-3.38zM55.16 294.70h3.38v3.36h-3.38zM63.04 294.70h3.38v3.36h-3.38zM11.82 298.62h3.38v3.36h-3.38zM43.34 298.62h3.38v3.36h-3.38zM51.22 298.62h3.38v3.36h-3.38zM11.82 302.54h3.38v3.36h-3.38zM31.52 302.54h3.38v3.36h-3.38zM59.10 302.54h3.38v3.36h-3.38zM31.52 306.46h3.38v3.36h-3.38zM66.98 306.46h3.38v3.36h-3.38zM35.46 310.38h3.38v3.36h-3.38zM59.10 314.30h3.38v3.36h-3.38zM66.98 318.22h3.38v3.36h-3.38zM63.04 322.14h3.38v3.36h-3.38zM7.88 326.06h3.38v3.36h-3.38zM35.46 326.06h3.38v3.36h-3.38zM47.28 326.06h3.38v3.36h-3.38zM55.16 326.06h3.38v3.36h-3.38zM15.76 329.98h3.38v3.36h-3.38zM23.64 329.98h3.38v3.36h-3.38zM63.04 329.98h3.38v3.36h-3.38zM27.58 333.90h3.38v3.36h-3.38zM47.28 333.90h3.38v3.36h-3.38zM55.16 333.90h3.38v3.36h-3.38zM7.88 337.82h3.38v3.36h-3.38zM15.76 337.82h3.38v3.36h-3.38zM39.40 337.82h3.38v3.36h-3.38zM59.10 337.82h3.38v3.36h-3.38zM59.10 341.74h3.38v3.36h-3.38zM15.76 345.66h3.38v3.36h-3.38zM27.58 345.66h3.38v3.36h-3.38zM35.46 345.66h3.38v3.36h-3.38zM47.28 345.66h3.38v3.36h-3.38zM19.70 349.58h3.38v3.36h-3.38zM51.22 349.58h3.38v3.36h-3.38zM39.40 353.50h3.38v3.36h-3.38zM59.10 353.50h3.38v3.36h-3.38zM66.98 353.50h3.38v3.36h-3.38zM23.64 357.42h3.38v3.36h-3.38zM43.34 357.42h3.38v3.36h-3.38zM55.16 361.34h3.38v3.36h-3.38zM19.70 365.26h3.38v3.36h-3.38zM39.40 365.26h3.38v3.36h-3.38zM15.76 369.18h3.38v3.36h-3.38zM23.64 369.18h3.38v3.36h-3.38zM39.40 369.18h3.38v3.36h-3.38zM31.52 377.02h3.38v3.36h-3.38zM43.34 380.94h3.38v3.36h-3.38zM31.52 388.78h3.38v3.36h-3.38zM11.82 392.70h3.38v3.36h-3.38zM39.40 392.70h3.38v3.36h-3.38zM7.88 396.62h3.38v3.36h-3.38zM43.34 396.62h3.38v3.36h-3.38zM11.82 400.54h3.38v3.36h-3.38zM27.58 400.54h3.38v3.36h-3.38zM11.82 408.38h3.38v3.36h-3.38zM63.04 408.38h3.38v3.36h-3.38zM43.34 412.30h3.38v3.36h-3.38zM19.70 416.22h3.38v3.36h-3.38zM63.04 416.22h3.38v3.36h-3.38zM51.22 420.14h3.38v3.36h-3.38zM66.98 420.14h3.38v3.36h-3.38zM7.88 427.98h3.38v3.36h-3.38zM23.64 431.90h3.38v3.36h-3.38zM63.04 435.82h3.38v3.36h-3.38zM47.28 439.74h3.38v3.36h-3.38zM27.58 443.66h3.38v3.36h-3.38zM47.28 443.66h3.38v3.36h-3.38zM55.16 443.66h3.38v3.36h-3.38z"/>
<path fill="#f44884" d="M82.74 55.58h3.38v3.36h-3.38zM94.56 55.58h3.38v3.36h-3.38zM110.32 55.58h3.38v3.36h-3.38zM130.02 55.58h3.38v3.36h-3.38zM78.80 59.50h3.38v3.36h-3.38zM74.86 63.42h3.38v3.36h-3.38zM82.74 63.42h3.38v3.36h-3.38zM86.68 63.42h3.38v3.36h-3.38zM98.50 63.42h3.38v3.36h-3.38zM114.26 71.26h3.38v3.36h-3.38zM90.62 75.18h3.38v3.36h-3.38zM86.68 79.10h3.38v3.36h-3.38zM90.62 79.10h3.38v3.36h-3.38zM114.26 79.10h3.38v3.36h-3.38zM78.80 83.02h3.38v3.36h-3.38zM78.80 86.94h3.38v3.36h-3.38zM122.14 86.94h3.38v3.36h-3.38zM70.92 90.86h3.38v3.36h-3.38zM82.74 90.86h3.38v3.36h-3.38zM98.50 90.86h3.38v3.36h-3.38zM110.32 90.86h3.38v3.36h-3.38zM122.14 90.86h3.38v3.36h-3.38zM98.50 94.78h3.38v3.36h-3.38zM94.56 98.70h3.38v3.36h-3.38zM98.50 102.62h3.38v3.36h-3.38zM110.32 106.54h3.38v3.36h-3.38zM90.62 114.38h3.38v3.36h-3.38zM94.56 114.38h3.38v3.36h-3.38zM118.20 114.38h3.38v3.36h-3.38zM78.80 122.22h3.38v3.36h-3.38zM94.56 122.22h3.38v3.36h-3.38zM114.26 122.22h3.38v3.36h-3.38zM126.08 122.22h3.38v3.36h-3.38zM118.20 126.14h3.38v3.36h-3.38zM74.86 133.98h3.38v3.36h-3.38zM78.80 137.90h3.38v3.36h-3.38zM74.86 141.82h3.38v3.36h-3.38zM114.26 141.82h3.38v3.36h-3.38zM78.80 145.74h3.38v3.36h-3.38zM130.02 145.74h3.38v3.36h-3.38zM94.56 149.66h3.38v3.36h-3.38zM122.14 149.66h3.38v3.36h-3.38zM122.14 153.58h3.38v3.36h-3.38zM126.08 161.42h3.38v3.36h-3.38zM90.62 165.34h3.38v3.36h-3.38zM122.14 165.34h3.38v3.36h-3.38zM130.02 169.26h3.38v3.36h-3.38zM90.62 181.02h3.38v3.36h-3.38zM122.14 184.94h3.38v3.36h-3.38zM78.80 192.78h3.38v3.36h-3.38zM122.14 200.62h3.38v3.36h-3.38zM130.02 200.62h3.38v3.36h-3.38zM70.92 204.54h3.38v3.36h-3.38zM106.38 204.54h3.38v3.36h-3.38zM74.86 208.46h3.38v3.36h-3.38zM82.74 208.46h3.38v3.36h-3.38zM118.20 216.30h3.38v3.36h-3.38zM94.56 220.22h3.38v3.36h-3.38zM78.80 224.14h3.38v3.36h-3.38zM86.68 224.14h3.38v3.36h-3.38zM70.92 228.06h3.38v3.36h-3.38zM90.62 228.06h3.38v3.36h-3.38zM98.50 228.06h3.38v3.36h-3.38zM74.86 231.98h3.38v3.36h-3.38zM94.56 231.98h3.38v3.36h-3.38zM106.38 235.90h3.38v3.36h-3.38zM126.08 235.90h3.38v3.36h-3.38zM74.86 243.74h3.38v3.36h-3.38zM82.74 243.74h3.38v3.36h-3.38zM74.86 247.66h3.38v3.36h-3.38zM86.68 247.66h3.38v3.36h-3.38zM94.56 247.66h3.38v3.36h-3.38zM35.46 251.58h3.38v3.36h-3.38zM7.88 255.50h3.38v3.36h-3.38zM27.58 255.50h3.38v3.36h-3.38zM39.40 255.50h3.38v3.36h-3.38zM15.76 267.26h3.38v3.36h-3.38zM23.64 267.26h3.38v3.36h-3.38zM35.46 267.26h3.38v3.36h-3.38zM47.28 267.26h3.38v3.36h-3.38zM55.16 267.26h3.38v3.36h-3.38zM66.98 267.26h3.38v3.36h-3.38zM51.22 271.18h3.38v3.36h-3.38zM59.10 271.18h3.38v3.36h-3.38zM7.88 275.10h3.38v3.36h-3.38zM39.40 275.10h3.38v3.36h-3.38zM51.22 275.10h3.38v3.36h-3.38zM15.76 279.02h3.38v3.36h-3.38zM39.40 279.02h3.38v3.36h-3.38zM63.04 279.02h3.38v3.36h-3.38zM23.64 282.94h3.38v3.36h-3.38zM35.46 282.94h3.38v3.36h-3.38zM43.34 282.94h3.38v3.36h-3.38zM51.22 282.94h3.38v3.36h-3.38zM27.58 286.86h3.38v3.36h-3.38zM66.98 286.86h3.38v3.36h-3.38zM35.46 290.78h3.38v3.36h-3.38zM7.88 294.70h3.38v3.36h-3.38zM39.40 294.70h3.38v3.36h-3.38zM23.64 298.62h3.38v3.36h-3.38zM35.46 298.62h3.38v3.36h-3.38zM51.22 302.54h3.38v3.36h-3.38zM15.76 306.46h3.38v3.36h-3.38zM39.40 306.46h3.38v3.36h-3.38zM15.76 310.38h3.38v3.36h-3.38zM19.70 314.30h3.38v3.36h-3.38zM15.76 318.22h3.38v3.36h-3.38zM27.58 318.22h3.38v3.36h-3.38zM59.10 318.22h3.38v3.36h-3.38zM11.82 322.14h3.38v3.36h-3.38zM23.64 322.14h3.38v3.36h-3.38zM15.76 326.06h3.38v3.36h-3.38zM66.98 326.06h3.38v3.36h-3.38zM43.34 329.98h3.38v3.36h-3.38zM63.04 333.90h3.38v3.36h-3.38zM27.58 337.82h3.38v3.36h-3.38zM15.76 341.74h3.38v3.36h-3.38zM7.88 345.66h3.38v3.36h-3.38zM55.16 345.66h3.38v3.36h-3.38zM31.52 349.58h3.38v3.36h-3.38zM27.58 353.50h3.38v3.36h-3.38zM11.82 357.42h3.38v3.36h-3.38zM35.46 357.42h3.38v3.36h-3.38zM63.04 357.42h3.38v3.36h-3.38zM15.76 361.34h3.38v3.36h-3.38zM27.58 361.34h3.38v3.36h-3.38zM66.98 361.34h3.38v3.36h-3.38zM11.82 365.26h3.38v3.36h-3.38zM59.10 365.26h3.38v3.36h-3.38zM63.04 369.18h3.38v3.36h-3.38zM23.64 373.10h3.38v3.36h-3.38zM51.22 373.10h3.38v3.36h-3.38zM43.34 377.02h3.38v3.36h-3.38zM55.16 377.02h3.38v3.36h-3.38zM11.82 380.94h3.38v3.36h-3.38zM27.58 380.94h3.38v3.36h-3.38zM51.22 380.94h3.38v3.36h-3.38zM7.88 384.86h3.38v3.36h-3.38zM11.82 384.86h3.38v3.36h-3.38zM59.10 384.86h3.38v3.36h-3.38zM35.46 388.78h3.38v3.36h-3.38zM39.40 388.78h3.38v3.36h-3.38zM59.10 388.78h3.38v3.36h-3.38zM47.28 392.70h3.38v3.36h-3.38zM63.04 392.70h3.38v3.36h-3.38zM27.58 396.62h3.38v3.36h-3.38zM19.70 400.54h3.38v3.36h-3.38zM59.10 400.54h3.38v3.36h-3.38zM11.82 404.46h3.38v3.36h-3.38zM59.10 404.46h3.38v3.36h-3.38zM19.70 408.38h3.38v3.36h-3.38zM15.76 412.30h3.38v3.36h-3.38zM11.82 416.22h3.38v3.36h-3.38zM47.28 416.22h3.38v3.36h-3.38zM51.22 416.22h3.38v3.36h-3.38zM51.22 424.06h3.38v3.36h-3.38zM59.10 424.06h3.38v3.36h-3.38zM7.88 431.90h3.38v3.36h-3.38zM15.76 431.90h3.38v3.36h-3.38zM55.16 431.90h3.38v3.36h-3.38zM15.76 435.82h3.38v3.36h-3.38zM31.52 435.82h3.38v3.36h-3.38zM43.34 435.82h3.38v3.36h-3.38zM23.64 439.74h3.38v3.36h-3.38zM39.40 439.74h3.38v3.36h-3.38zM66.98 439.74h3.38v3.36h-3.38zM15.76 443.66h3.38v3.36h-3.38z"/>
<path fill="#f20a24" d="M86.68 55.58h3.38v3.36h-3.38zM114.26 55.58h3.38v3.36h-3.38zM94.56 59.50h3.38v3.36h-3.38zM106.38 59.50h3.38v3.36h-3.38zM106.38 63.42h3.38v3.36h-3.38zM114.26 63.42h3.38v3.36h-3.38zM130.02 63.42h3.38v3.36h-3.38zM110.32 67.34h3.38v3.36h-3.38zM98.50 71.26h3.38v3.36h-3.38zM126.08 71.26h3.38v3.36h-3.38zM106.38 75.18h3.38v3.36h-3.38zM114.26 83.02h3.38v3.36h-3.38zM130.02 83.02h3.38v3.36h-3.38zM74.86 86.94h3.38v3.36h-3.38zM106.38 86.94h3.38v3.36h-3.38zM118.20 86.94h3.38v3.36h-3.38zM114.26 90.86h3.38v3.36h-3.38zM114.26 94.78h3.38v3.36h-3.38zM78.80 102.62h3.38v3.36h-3.38zM90.62 102.62h3.38v3.36h-3.38zM130.02 106.54h3.38v3.36h-3.38zM130.02 110.46h3.38v3.36h-3.38zM122.14 114.38h3.38v3.36h-3.38zM90.62 118.30h3.38v3.36h-3.38zM82.74 122.22h3.38v3.36h-3.38zM110.32 122.22h3.38v3.36h-3.38zM122.14 126.14h3.38v3.36h-3.38zM126.08 126.14h3.38v3.36h-3.38zM130.02 126.14h3.38v3.36h-3.38zM78.80 130.06h3.38v3.36h-3.38zM86.68 130.06h3.38v3.36h-3.38zM118.20 130.06h3.38v3.36h-3.38zM122.14 130.06h3.38v3.36h-3.38zM114.26 133.98h3.38v3.36h-3.38zM98.50 137.90h3.38v3.36h-3.38zM118.20 137.90h3.38v3.36h-3.38zM130.02 141.82h3.38v3.36h-3.38zM74.86 145.74h3.38v3.36h-3.38zM94.56 145.74h3.38v3.36h-3.38zM118.20 149.66h3.38v3.36h-3.38zM126.08 149.66h3.38v3.36h-3.38zM130.02 149.66h3.38v3.36h-3.38zM94.56 153.58h3.38v3.36h-3.38zM114.26 157.50h3.38v3.36h-3.38zM86.68 161.42h3.38v3.36h-3.38zM130.02 161.42h3.38v3.36h-3.38zM82.74 165.34h3.38v3.36h-3.38zM126.08 165.34h3.38v3.36h-3.38zM70.92 169.26h3.38v3.36h-3.38zM82.74 169.26h3.38v3.36h-3.38zM94.56 169.26h3.38v3.36h-3.38zM106.38 169.26h3.38v3.36h-3.38zM122.14 169.26h3.38v3.36h-3.38zM122.14 173.18h3.38v3.36h-3.38zM74.86 184.94h3.38v3.36h-3.38zM90.62 188.86h3.38v3.36h-3.38zM122.14 188.86h3.38v3.36h-3.38zM126.08 188.86h3.38v3.36h-3.38zM90.62 192.78h3.38v3.36h-3.38zM110.32 192.78h3.38v3.36h-3.38zM114.26 196.70h3.38v3.36h-3.38zM82.74 200.62h3.38v3.36h-3.38zM74.86 204.54h3.38v3.36h-3.38zM90.62 204.54h3.38v3.36h-3.38zM94.56 204.54h3.38v3.36h-3.38zM122.14 204.54h3.38v3.36h-3.38zM78.80 208.46h3.38v3.36h-3.38zM126.08 220.22h3.38v3.36h-3.38zM82.74 224.14h3.38v3.36h-3.38zM90.62 224.14h3.38v3.36h-3.38zM94.56 228.06h3.38v3.36h-3.38zM114.26 228.06h3.38v3.36h-3.38zM122.14 228.06h3.38v3.36h-3.38zM118.20 231.98h3.38v3.36h-3.38zM130.02 231.98h3.38v3.36h-3.38zM98.50 243.74h3.38v3.36h-3.38zM82.74 247.66h3.38v3.36h-3.38zM114.26 247.66h3.38v3.36h-3.38zM19.70 251.58h3.38v3.36h-3.38zM31.52 251.58h3.38v3.36h-3.38zM43.34 251.58h3.38v3.36h-3.38zM66.98 251.58h3.38v3.36h-3.38zM19.70 259.42h3.38v3.36h-3.38zM35.46 259.42h3.38v3.36h-3.38zM55.16 259.42h3.38v3.36h-3.38zM23.64 263.34h3.38v3.36h-3.38zM66.98 263.34h3.38v3.36h-3.38zM51.22 267.26h3.38v3.36h-3.38zM23.64 271.18h3.38v3.36h-3.38zM55.16 271.18h3.38v3.36h-3.38zM66.98 271.18h3.38v3.36h-3.38zM35.46 275.10h3.38v3.36h-3.38zM39.40 282.94h3.38v3.36h-3.38zM23.64 286.86h3.38v3.36h-3.38zM35.46 286.86h3.38v3.36h-3.38zM43.34 286.86h3.38v3.36h-3.38zM47.28 286.86h3.38v3.36h-3.38zM31.52 290.78h3.38v3.36h-3.38zM27.58 294.70h3.38v3.36h-3.38zM35.46 294.70h3.38v3.36h-3.38zM19.70 298.62h3.38v3.36h-3.38zM47.28 298.62h3.38v3.36h-3.38zM19.70 302.54h3.38v3.36h-3.38zM35.46 302.54h3.38v3.36h-3.38zM47.28 302.54h3.38v3.36h-3.38zM66.98 302.54h3.38v3.36h-3.38zM55.16 306.46h3.38v3.36h-3.38zM19.70 310.38h3.38v3.36h-3.38zM51.22 310.38h3.38v3.36h-3.38zM59.10 310.38h3.38v3.36h-3.38zM15.76 314.30h3.38v3.36h-3.38zM23.64 314.30h3.38v3.36h-3.38zM55.16 314.30h3.38v3.36h-3.38zM19.70 318.22h3.38v3.36h-3.38zM23.64 318.22h3.38v3.36h-3.38zM43.34 318.22h3.38v3.36h-3.38zM19.70 322.14h3.38v3.36h-3.38zM55.16 322.14h3.38v3.36h-3.38zM43.34 326.06h3.38v3.36h-3.38zM59.10 329.98h3.38v3.36h-3.38zM7.88 333.90h3.38v3.36h-3.38zM23.64 337.82h3.38v3.36h-3.38zM35.46 337.82h3.38v3.36h-3.38zM51.22 337.82h3.38v3.36h-3.38zM19.70 341.74h3.38v3.36h-3.38zM23.64 345.66h3.38v3.36h-3.38zM31.52 345.66h3.38v3.36h-3.38zM23.64 349.58h3.38v3.36h-3.38zM47.28 349.58h3.38v3.36h-3.38zM59.10 349.58h3.38v3.36h-3.38zM23.64 353.50h3.38v3.36h-3.38zM43.34 353.50h3.38v3.36h-3.38zM7.88 357.42h3.38v3.36h-3.38zM19.70 357.42h3.38v3.36h-3.38zM59.10 357.42h3.38v3.36h-3.38zM19.70 361.34h3.38v3.36h-3.38zM23.64 361.34h3.38v3.36h-3.38zM51.22 361.34h3.38v3.36h-3.38zM63.04 361.34h3.38v3.36h-3.38zM47.28 365.26h3.38v3.36h-3.38zM55.16 365.26h3.38v3.36h-3.38zM27.58 373.10h3.38v3.36h-3.38zM55.16 373.10h3.38v3.36h-3.38zM66.98 377.02h3.38v3.36h-3.38zM19.70 380.94h3.38v3.36h-3.38zM47.28 380.94h3.38v3.36h-3.38zM63.04 380.94h3.38v3.36h-3.38zM27.58 384.86h3.38v3.36h-3.38zM31.52 384.86h3.38v3.36h-3.38zM55.16 384.86h3.38v3.36h-3.38zM11.82 388.78h3.38v3.36h-3.38zM15.76 388.78h3.38v3.36h-3.38zM19.70 388.78h3.38v3.36h-3.38zM55.16 392.70h3.38v3.36h-3.38zM39.40 396.62h3.38v3.36h-3.38zM7.88 400.54h3.38v3.36h-3.38zM27.58 404.46h3.38v3.36h-3.38zM35.46 404.46h3.38v3.36h-3.38zM43.34 404.46h3.38v3.36h-3.38zM55.16 404.46h3.38v3.36h-3.38zM23.64 408.38h3.38v3.36h-3.38zM59.10 408.38h3.38v3.36h-3.38zM66.98 408.38h3.38v3.36h-3.38zM19.70 412.30h3.38v3.36h-3.38zM47.28 412.30h3.38v3.36h-3.38zM63.04 412.30h3.38v3.36h-3.38zM19.70 420.14h3.38v3.36h-3.38zM31.52 420.14h3.38v3.36h-3.38zM35.46 427.98h3.38v3.36h-3.38zM63.04 427.98h3.38v3.36h-3.38zM35.46 435.82h3.38v3.36h-3.38zM59.10 435.82h3.38v3.36h-3.38zM19.70 439.74h3.38v3.36h-3.38zM55.16 439.74h3.38v3.36h-3.38zM51.22 443.66h3.38v3.36h-3.38z"/>
<path fill="#f00010" d="M102.44 55.58h3.38v3.36h-3.38zM102.44 75.18h3.38v3.36h-3.38zM102.44 79.10h3.38v3.36h-3.38zM102.44 83.02h3.38v3.36h-3.38zM102.44 86.94h3.38v3.36h-3.38zM102.44 98.70h3.38v3.36h-3.38zM102.44 122.22h3.38v3.36h-3.38zM102.44 133.98h3.38v3.36h-3.38zM102.44 145.74h3.38v3.36h-3.38zM102.44 149.66h3.38v3.36h-3.38zM102.44 153.58h3.38v3.36h-3.38zM102.44 157.50h3.38v3.36h-3.38zM102.44 161.42h3.38v3.36h-3.38zM102.44 165.34h3.38v3.36h-3.38zM102.44 173.18h3.38v3.36h-3.38zM102.44 184.94h3.38v3.36h-3.38zM102.44 192.78h3.38v3.36h-3.38zM102.44 196.70h3.38v3.36h-3.38zM102.44 200.62h3.38v3.36h-3.38zM102.44 208.46h3.38v3.36h-3.38zM102.44 224.14h3.38v3.36h-3.38zM102.44 228.06h3.38v3.36h-3.38zM102.44 231.98h3.38v3.36h-3.38zM102.44 235.90h3.38v3.36h-3.38zM102.44 243.74h3.38v3.36h-3.38z"/>
<path fill="#f2d2f0" d="M122.14 55.58h3.38v3.36h-3.38zM70.92 59.50h3.38v3.36h-3.38zM90.62 94.78h3.38v3.36h-3.38zM110.32 102.62h3.38v3.36h-3.38zM106.38 106.54h3.38v3.36h-3.38zM86.68 114.38h3.38v3.36h-3.38zM106.38 114.38h3.38v3.36h-3.38zM110.32 114.38h3.38v3.36h-3.38zM98.50 126.14h3.38v3.36h-3.38zM106.38 126.14h3.38v3.36h-3.38zM82.74 141.82h3.38v3.36h-3.38zM110.32 161.42h3.38v3.36h-3.38zM110.32 169.26h3.38v3.36h-3.38zM110.32 173.18h3.38v3.36h-3.38zM70.92 184.94h3.38v3.36h-3.38zM98.50 184.94h3.38v3.36h-3.38zM110.32 188.86h3.38v3.36h-3.38zM98.50 204.54h3.38v3.36h-3.38zM82.74 212.38h3.38v3.36h-3.38zM98.50 212.38h3.38v3.36h-3.38zM82.74 220.22h3.38v3.36h-3.38zM90.62 231.98h3.38v3.36h-3.38zM90.62 239.82h3.38v3.36h-3.38zM94.56 243.74h3.38v3.36h-3.38zM122.14 243.74h3.38v3.36h-3.38zM70.92 247.66h3.38v3.36h-3.38zM63.04 255.50h3.38v3.36h-3.38zM7.88 267.26h3.38v3.36h-3.38zM63.04 271.18h3.38v3.36h-3.38zM63.04 275.10h3.38v3.36h-3.38zM19.70 290.78h3.38v3.36h-3.38zM66.98 294.70h3.38v3.36h-3.38zM63.04 298.62h3.38v3.36h-3.38zM31.52 322.14h3.38v3.36h-3.38zM59.10 326.06h3.38v3.36h-3.38zM7.88 329.98h3.38v3.36h-3.38zM27.58 329.98h3.38v3.36h-3.38zM47.28 329.98h3.38v3.36h-3.38zM15.76 333.90h3.38v3.36h-3.38zM51.22 341.74h3.38v3.36h-3.38zM59.10 345.66h3.38v3.36h-3.38zM11.82 349.58h3.38v3.36h-3.38zM55.16 349.58h3.38v3.36h-3.38zM31.52 353.50h3.38v3.36h-3.38zM15.76 357.42h3.38v3.36h-3.38zM31.52 357.42h3.38v3.36h-3.38zM7.88 361.34h3.38v3.36h-3.38zM7.88 365.26h3.38v3.36h-3.38zM43.34 365.26h3.38v3.36h-3.38zM55.16 369.18h3.38v3.36h-3.38zM31.52 373.10h3.38v3.36h-3.38zM23.64 384.86h3.38v3.36h-3.38zM51.22 388.78h3.38v3.36h-3.38zM63.04 388.78h3.38v3.36h-3.38zM15.76 396.62h3.38v3.36h-3.38zM55.16 396.62h3.38v3.36h-3.38zM47.28 400.54h3.38v3.36h-3.38zM63.04 400.54h3.38v3.36h-3.38zM47.28 404.46h3.38v3.36h-3.38zM15.76 424.06h3.38v3.36h-3.38zM19.70 427.98h3.38v3.36h-3.38zM63.04 431.90h3.38v3.36h-3.38zM66.98 431.90h3.38v3.36h-3.38zM7.88 435.82h3.38v3.36h-3.38zM63.04 439.74h3.38v3.36h-3.38zM7.88 443.66h3.38v3.36h-3.38zM35.46 443.66h3.38v3.36h-3.38z"/>
<path fill="#2222f6" d="M7.88 59.50h3.38v3.36h-3.38zM19.70 59.50h3.38v3.36h-3.38zM47.28 59.50h3.38v3.36h-3.38zM63.04 59.50h3.38v3.36h-3.38zM59.10 63.42h3.38v3.36h-3.38zM66.98 67.34h3.38v3.36h-3.38zM39.40 71.26h3.38v3.36h-3.38zM43.34 71.26h3.38v3.36h-3.38zM51.22 71.26h3.38v3.36h-3.38zM59.10 71.26h3.38v3.36h-3.38zM66.98 71.26h3.38v3.36h-3.38zM31.52 75.18h3.38v3.36h-3.38zM39.40 75.18h3.38v3.36h-3.38zM47.28 75.18h3.38v3.36h-3.38zM35.46 79.10h3.38v3.36h-3.38zM15.76 83.02h3.38v3.36h-3.38zM23.64 83.02h3.38v3.36h-3.38zM35.46 83.02h3.38v3.36h-3.38zM39.40 83.02h3.38v3.36h-3.38zM35.46 86.94h3.38v3.36h-3.38zM43.34 86.94h3.38v3.36h-3.38zM31.52 90.86h3.38v3.36h-3.38zM39.40 90.86h3.38v3.36h-3.38zM43.34 90.86h3.38v3.36h-3.38zM66.98 90.86h3.38v3.36h-3.38zM11.82 94.78h3.38v3.36h-3.38zM23.64 94.78h3.38v3.36h-3.38zM31.52 94.78h3.38v3.36h-3.38zM43.34 98.70h3.38v3.36h-3.38zM51.22 98.70h3.38v3.36h-3.38zM19.70 102.62h3.38v3.36h-3.38zM23.64 102.62h3.38v3.36h-3.38zM27.58 102.62h3.38v3.36h-3.38zM51.22 102.62h3.38v3.36h-3.38zM15.76 106.54h3.38v3.36h-3.38zM23.64 106.54h3.38v3.36h-3.38zM39.40 106.54h3.38v3.36h-3.38zM31.52 110.46h3.38v3.36h-3.38zM43.34 110.46h3.38v3.36h-3.38zM66.98 110.46h3.38v3.36h-3.38zM47.28 114.38h3.38v3.36h-3.38zM51.22 114.38h3.38v3.36h-3.38zM59.10 114.38h3.38v3.36h-3.38zM63.04 114.38h3.38v3.36h-3.38zM19.70 118.30h3.38v3.36h-3.38zM39.40 122.22h3.38v3.36h-3.38zM55.16 126.14h3.38v3.36h-3.38zM27.58 130.06h3.38v3.36h-3.38zM23.64 137.90h3.38v3.36h-3.38zM23.64 141.82h3.38v3.36h-3.38zM47.28 141.82h3.38v3.36h-3.38zM31.52 145.74h3.38v3.36h-3.38zM63.04 145.74h3.38v3.36h-3.38zM31.52 149.66h3.38v3.36h-3.38zM55.16 149.66h3.38v3.36h-3.38zM15.76 153.58h3.38v3.36h-3.38zM23.64 161.42h3.38v3.36h-3.38zM35.46 161.42h3.38v3.36h-3.38zM15.76 165.34h3.38v3.36h-3.38zM39.40 165.34h3.38v3.36h-3.38zM27.58 169.26h3.38v3.36h-3.38zM66.98 169.26h3.38v3.36h-3.38zM47.28 173.18h3.38v3.36h-3.38zM15.76 177.10h3.38v3.36h-3.38zM23.64 177.10h3.38v3.36h-3.38zM35.46 177.10h3.38v3.36h-3.38zM43.34 177.10h3.38v3.36h-3.38zM27.58 181.02h3.38v3.36h-3.38zM31.52 181.02h3.38v3.36h-3.38zM23.64 184.94h3.38v3.36h-3.38zM35.46 184.94h3.38v3.36h-3.38zM43.34 188.86h3.38v3.36h-3.38zM66.98 188.86h3.38v3.36h-3.38zM39.40 192.78h3.38v3.36h-3.38zM31.52 196.70h3.38v3.36h-3.38zM35.46 196.70h3.38v3.36h-3.38zM51.22 196.70h3.38v3.36h-3.38zM43.34 200.62h3.38v3.36h-3.38zM47.28 200.62h3.38v3.36h-3.38zM63.04 200.62h3.38v3.36h-3.38zM51.22 204.54h3.38v3.36h-3.38zM7.88 208.46h3.38v3.36h-3.38zM51.22 208.46h3.38v3.36h-3.38zM15.76 212.38h3.38v3.36h-3.38zM35.46 212.38h3.38v3.36h-3.38zM66.98 216.30h3.38v3.36h-3.38zM35.46 220.22h3.38v3.36h-3.38zM43.34 220.22h3.38v3.36h-3.38zM15.76 224.14h3.38v3.36h-3.38zM19.70 224.14h3.38v3.36h-3.38zM39.40 224.14h3.38v3.36h-3.38zM31.52 228.06h3.38v3.36h-3.38zM43.34 228.06h3.38v3.36h-3.38zM15.76 231.98h3.38v3.36h-3.38zM66.98 231.98h3.38v3.36h-3.38zM35.46 235.90h3.38v3.36h-3.38zM47.28 235.90h3.38v3.36h-3.38zM66.98 235.90h3.38v3.36h-3.38zM51.22 239.82h3.38v3.36h-3.38zM15.76 247.66h3.38v3.36h-3.38zM43.34 247.66h3.38v3.36h-3.38zM51.22 247.66h3.38v3.36h-3.38zM66.98 247.66h3.38v3.36h-3.38z"/>
<path fill="#ee1030" d="M86.68 59.50h3.38v3.36h-3.38zM118.20 59.50h3.38v3.36h-3.38zM86.68 67.34h3.38v3.36h-3.38zM118.20 67.34h3.38v3.36h-3.38zM78.80 71.26h3.38v3.36h-3.38zM110.32 71.26h3.38v3.36h-3.38zM74.86 75.18h3.38v3.36h-3.38zM82.74 79.10h3.38v3.36h-3.38zM130.02 79.10h3.38v3.36h-3.38zM74.86 83.02h3.38v3.36h-3.38zM110.32 83.02h3.38v3.36h-3.38zM86.68 86.94h3.38v3.36h-3.38zM90.62 86.94h3.38v3.36h-3.38zM114.26 86.94h3.38v3.36h-3.38zM118.20 90.86h3.38v3.36h-3.38zM126.08 90.86h3.38v3.36h-3.38zM82.74 94.78h3.38v3.36h-3.38zM122.14 94.78h3.38v3.36h-3.38zM78.80 98.70h3.38v3.36h-3.38zM90.62 98.70h3.38v3.36h-3.38zM114.26 98.70h3.38v3.36h-3.38zM122.14 98.70h3.38v3.36h-3.38zM130.02 98.70h3.38v3.36h-3.38zM78.80 106.54h3.38v3.36h-3.38zM114.26 106.54h3.38v3.36h-3.38zM82.74 110.46h3.38v3.36h-3.38zM94.56 110.46h3.38v3.36h-3.38zM126.08 110.46h3.38v3.36h-3.38zM78.80 114.38h3.38v3.36h-3.38zM130.02 114.38h3.38v3.36h-3.38zM70.92 118.30h3.38v3.36h-3.38zM106.38 118.30h3.38v3.36h-3.38zM98.50 122.22h3.38v3.36h-3.38zM118.20 122.22h3.38v3.36h-3.38zM130.02 122.22h3.38v3.36h-3.38zM114.26 126.14h3.38v3.36h-3.38zM70.92 130.06h3.38v3.36h-3.38zM98.50 130.06h3.38v3.36h-3.38zM130.02 130.06h3.38v3.36h-3.38zM70.92 133.98h3.38v3.36h-3.38zM70.92 137.90h3.38v3.36h-3.38zM70.92 141.82h3.38v3.36h-3.38zM118.20 141.82h3.38v3.36h-3.38zM122.14 141.82h3.38v3.36h-3.38zM82.74 145.74h3.38v3.36h-3.38zM110.32 145.74h3.38v3.36h-3.38zM114.26 145.74h3.38v3.36h-3.38zM122.14 145.74h3.38v3.36h-3.38zM90.62 149.66h3.38v3.36h-3.38zM98.50 149.66h3.38v3.36h-3.38zM110.32 149.66h3.38v3.36h-3.38zM70.92 153.58h3.38v3.36h-3.38zM74.86 153.58h3.38v3.36h-3.38zM114.26 153.58h3.38v3.36h-3.38zM94.56 157.50h3.38v3.36h-3.38zM106.38 157.50h3.38v3.36h-3.38zM130.02 157.50h3.38v3.36h-3.38zM106.38 165.34h3.38v3.36h-3.38zM118.20 165.34h3.38v3.36h-3.38zM70.92 177.10h3.38v3.36h-3.38zM78.80 177.10h3.38v3.36h-3.38zM82.74 177.10h3.38v3.36h-3.38zM130.02 177.10h3.38v3.36h-3.38zM98.50 181.02h3.38v3.36h-3.38zM110.32 181.02h3.38v3.36h-3.38zM118.20 181.02h3.38v3.36h-3.38zM122.14 181.02h3.38v3.36h-3.38zM130.02 181.02h3.38v3.36h-3.38zM90.62 184.94h3.38v3.36h-3.38zM110.32 184.94h3.38v3.36h-3.38zM126.08 184.94h3.38v3.36h-3.38zM78.80 188.86h3.38v3.36h-3.38zM114.26 188.86h3.38v3.36h-3.38zM126.08 192.78h3.38v3.36h-3.38zM78.80 196.70h3.38v3.36h-3.38zM94.56 196.70h3.38v3.36h-3.38zM122.14 196.70h3.38v3.36h-3.38zM130.02 196.70h3.38v3.36h-3.38zM70.92 200.62h3.38v3.36h-3.38zM74.86 200.62h3.38v3.36h-3.38zM90.62 200.62h3.38v3.36h-3.38zM106.38 200.62h3.38v3.36h-3.38zM114.26 200.62h3.38v3.36h-3.38zM114.26 204.54h3.38v3.36h-3.38zM86.68 208.46h3.38v3.36h-3.38zM122.14 208.46h3.38v3.36h-3.38zM70.92 212.38h3.38v3.36h-3.38zM90.62 212.38h3.38v3.36h-3.38zM118.20 212.38h3.38v3.36h-3.38zM86.68 216.30h3.38v3.36h-3.38zM126.08 216.30h3.38v3.36h-3.38zM130.02 216.30h3.38v3.36h-3.38zM114.26 220.22h3.38v3.36h-3.38zM118.20 220.22h3.38v3.36h-3.38zM98.50 224.14h3.38v3.36h-3.38zM122.14 224.14h3.38v3.36h-3.38zM130.02 224.14h3.38v3.36h-3.38zM126.08 228.06h3.38v3.36h-3.38zM98.50 231.98h3.38v3.36h-3.38zM126.08 231.98h3.38v3.36h-3.38zM70.92 235.90h3.38v3.36h-3.38zM94.56 235.90h3.38v3.36h-3.38zM122.14 235.90h3.38v3.36h-3.38zM86.68 239.82h3.38v3.36h-3.38zM94.56 239.82h3.38v3.36h-3.38zM78.80 243.74h3.38v3.36h-3.38zM110.32 243.74h3.38v3.36h-3.38zM7.88 251.58h3.38v3.36h-3.38zM27.58 251.58h3.38v3.36h-3.38zM39.40 251.58h3.38v3.36h-3.38zM63.04 251.58h3.38v3.36h-3.38zM11.82 255.50h3.38v3.36h-3.38zM23.64 255.50h3.38v3.36h-3.38zM31.52 255.50h3.38v3.36h-3.38zM35.46 255.50h3.38v3.36h-3.38zM55.16 255.50h3.38v3.36h-3.38zM43.34 259.42h3.38v3.36h-3.38zM63.04 259.42h3.38v3.36h-3.38zM11.82 263.34h3.38v3.36h-3.38zM47.28 263.34h3.38v3.36h-3.38zM55.16 263.34h3.38v3.36h-3.38zM11.82 267.26h3.38v3.36h-3.38zM19.70 267.26h3.38v3.36h-3.38zM43.34 267.26h3.38v3.36h-3.38zM43.34 271.18h3.38v3.36h-3.38zM15.76 275.10h3.38v3.36h-3.38zM27.58 275.10h3.38v3.36h-3.38zM55.16 275.10h3.38v3.36h-3.38zM27.58 282.94h3.38v3.36h-3.38zM66.98 282.94h3.38v3.36h-3.38zM11.82 290.78h3.38v3.36h-3.38zM39.40 290.78h3.38v3.36h-3.38zM27.58 298.62h3.38v3.36h-3.38zM39.40 298.62h3.38v3.36h-3.38zM39.40 302.54h3.38v3.36h-3.38zM19.70 306.46h3.38v3.36h-3.38zM27.58 306.46h3.38v3.36h-3.38zM43.34 306.46h3.38v3.36h-3.38zM31.52 310.38h3.38v3.36h-3.38zM47.28 310.38h3.38v3.36h-3.38zM7.88 314.30h3.38v3.36h-3.38zM27.58 314.30h3.38v3.36h-3.38zM31.52 318.22h3.38v3.36h-3.38zM27.58 322.14h3.38v3.36h-3.38zM19.70 326.06h3.38v3.36h-3.38zM39.40 326.06h3.38v3.36h-3.38zM19.70 329.98h3.38v3.36h-3.38zM23.64 333.90h3.38v3.36h-3.38zM39.40 333.90h3.38v3.36h-3.38zM51.22 333.90h3.38v3.36h-3.38zM66.98 333.90h3.38v3.36h-3.38zM31.52 337.82h3.38v3.36h-3.38zM55.16 337.82h3.38v3.36h-3.38zM11.82 341.74h3.38v3.36h-3.38zM35.46 341.74h3.38v3.36h-3.38zM55.16 341.74h3.38v3.36h-3.38zM43.34 345.66h3.38v3.36h-3.38zM51.22 345.66h3.38v3.36h-3.38zM66.98 345.66h3.38v3.36h-3.38zM66.98 349.58h3.38v3.36h-3.38zM11.82 353.50h3.38v3.36h-3.38zM55.16 353.50h3.38v3.36h-3.38zM63.04 353.50h3.38v3.36h-3.38zM39.40 357.42h3.38v3.36h-3.38zM15.76 365.26h3.38v3.36h-3.38zM31.52 365.26h3.38v3.36h-3.38zM11.82 369.18h3.38v3.36h-3.38zM35.46 369.18h3.38v3.36h-3.38zM19.70 373.10h3.38v3.36h-3.38zM19.70 377.02h3.38v3.36h-3.38zM35.46 377.02h3.38v3.36h-3.38zM31.52 380.94h3.38v3.36h-3.38zM43.34 384.86h3.38v3.36h-3.38zM51.22 384.86h3.38v3.36h-3.38zM66.98 384.86h3.38v3.36h-3.38zM35.46 392.70h3.38v3.36h-3.38zM59.10 392.70h3.38v3.36h-3.38zM59.10 396.62h3.38v3.36h-3.38zM31.52 400.54h3.38v3.36h-3.38zM43.34 400.54h3.38v3.36h-3.38zM7.88 404.46h3.38v3.36h-3.38zM15.76 404.46h3.38v3.36h-3.38zM51.22 404.46h3.38v3.36h-3.38zM63.04 404.46h3.38v3.36h-3.38zM55.16 408.38h3.38v3.36h-3.38zM11.82 412.30h3.38v3.36h-3.38zM27.58 412.30h3.38v3.36h-3.38zM31.52 412.30h3.38v3.36h-3.38zM55.16 412.30h3.38v3.36h-3.38zM66.98 412.30h3.38v3.36h-3.38zM55.16 416.22h3.38v3.36h-3.38zM11.82 420.14h3.38v3.36h-3.38zM39.40 420.14h3.38v3.36h-3.38zM47.28 420.14h3.38v3.36h-3.38zM19.70 424.06h3.38v3.36h-3.38zM27.58 424.06h3.38v3.36h-3.38zM35.46 424.06h3.38v3.36h-3.38zM63.04 424.06h3.38v3.36h-3.38zM39.40 427.98h3.38v3.36h-3.38zM11.82 431.90h3.38v3.36h-3.38zM31.52 431.90h3.38v3.36h-3.38zM51.22 431.90h3.38v3.36h-3.38zM11.82 435.82h3.38v3.36h-3.38zM19.70 435.82h3.38v3.36h-3.38zM39.40 435.82h3.38v3.36h-3.38zM47.28 435.82h3.38v3.36h-3.38zM35.46 439.74h3.38v3.36h-3.38zM66.98 443.66h3.38v3.36h-3.38z"/>
<path fill="#f866b4" d="M90.62 59.50h3.38v3.36h-3.38zM110.32 59.50h3.38v3.36h-3.38zM90.62 63.42h3.38v3.36h-3.38zM78.80 67.34h3.38v3.36h-3.38zM90.62 67.34h3.38v3.36h-3.38zM106.38 67.34h3.38v3.36h-3.38zM122.14 67.34h3.38v3.36h-3.38zM126.08 67.34h3.38v3.36h-3.38zM82.74 71.26h3.38v3.36h-3.38zM86.68 71.26h3.38v3.36h-3.38zM122.14 71.26h3.38v3.36h-3.38zM130.02 71.26h3.38v3.36h-3.38zM86.68 75.18h3.38v3.36h-3.38zM118.20 75.18h3.38v3.36h-3.38zM126.08 75.18h3.38v3.36h-3.38zM126.08 79.10h3.38v3.36h-3.38zM86.68 83.02h3.38v3.36h-3.38zM94.56 83.02h3.38v3.36h-3.38zM70.92 86.94h3.38v3.36h-3.38zM106.38 90.86h3.38v3.36h-3.38zM118.20 94.78h3.38v3.36h-3.38zM130.02 94.78h3.38v3.36h-3.38zM82.74 98.70h3.38v3.36h-3.38zM118.20 98.70h3.38v3.36h-3.38zM126.08 98.70h3.38v3.36h-3.38zM130.02 102.62h3.38v3.36h-3.38zM82.74 106.54h3.38v3.36h-3.38zM86.68 110.46h3.38v3.36h-3.38zM110.32 110.46h3.38v3.36h-3.38zM70.92 114.38h3.38v3.36h-3.38zM86.68 118.30h3.38v3.36h-3.38zM70.92 126.14h3.38v3.36h-3.38zM90.62 130.06h3.38v3.36h-3.38zM114.26 130.06h3.38v3.36h-3.38zM110.32 133.98h3.38v3.36h-3.38zM130.02 133.98h3.38v3.36h-3.38zM82.74 137.90h3.38v3.36h-3.38zM122.14 137.90h3.38v3.36h-3.38zM90.62 141.82h3.38v3.36h-3.38zM94.56 141.82h3.38v3.36h-3.38zM106.38 141.82h3.38v3.36h-3.38zM126.08 141.82h3.38v3.36h-3.38zM86.68 145.74h3.38v3.36h-3.38zM74.86 149.66h3.38v3.36h-3.38zM86.68 149.66h3.38v3.36h-3.38zM106.38 149.66h3.38v3.36h-3.38zM114.26 149.66h3.38v3.36h-3.38zM82.74 157.50h3.38v3.36h-3.38zM118.20 161.42h3.38v3.36h-3.38zM94.56 165.34h3.38v3.36h-3.38zM118.20 169.26h3.38v3.36h-3.38zM70.92 173.18h3.38v3.36h-3.38zM78.80 173.18h3.38v3.36h-3.38zM90.62 173.18h3.38v3.36h-3.38zM118.20 173.18h3.38v3.36h-3.38zM126.08 173.18h3.38v3.36h-3.38zM74.86 177.10h3.38v3.36h-3.38zM122.14 177.10h3.38v3.36h-3.38zM126.08 181.02h3.38v3.36h-3.38zM78.80 184.94h3.38v3.36h-3.38zM86.68 184.94h3.38v3.36h-3.38zM130.02 184.94h3.38v3.36h-3.38zM122.14 192.78h3.38v3.36h-3.38zM130.02 192.78h3.38v3.36h-3.38zM74.86 196.70h3.38v3.36h-3.38zM90.62 196.70h3.38v3.36h-3.38zM118.20 196.70h3.38v3.36h-3.38zM126.08 196.70h3.38v3.36h-3.38zM94.56 200.62h3.38v3.36h-3.38zM118.20 204.54h3.38v3.36h-3.38zM130.02 208.46h3.38v3.36h-3.38zM94.56 212.38h3.38v3.36h-3.38zM114.26 212.38h3.38v3.36h-3.38zM74.86 216.30h3.38v3.36h-3.38zM106.38 216.30h3.38v3.36h-3.38zM78.80 220.22h3.38v3.36h-3.38zM122.14 220.22h3.38v3.36h-3.38zM118.20 224.14h3.38v3.36h-3.38zM82.74 228.06h3.38v3.36h-3.38zM106.38 228.06h3.38v3.36h-3.38zM122.14 231.98h3.38v3.36h-3.38zM98.50 235.90h3.38v3.36h-3.38zM78.80 239.82h3.38v3.36h-3.38zM98.50 239.82h3.38v3.36h-3.38zM110.32 239.82h3.38v3.36h-3.38zM122.14 239.82h3.38v3.36h-3.38zM130.02 239.82h3.38v3.36h-3.38zM114.26 243.74h3.38v3.36h-3.38zM130.02 243.74h3.38v3.36h-3.38zM122.14 247.66h3.38v3.36h-3.38zM15.76 255.50h3.38v3.36h-3.38zM59.10 255.50h3.38v3.36h-3.38zM66.98 255.50h3.38v3.36h-3.38zM23.64 259.42h3.38v3.36h-3.38zM39.40 259.42h3.38v3.36h-3.38zM66.98 259.42h3.38v3.36h-3.38zM27.58 263.34h3.38v3.36h-3.38zM35.46 263.34h3.38v3.36h-3.38zM43.34 263.34h3.38v3.36h-3.38zM51.22 263.34h3.38v3.36h-3.38zM63.04 263.34h3.38v3.36h-3.38zM27.58 271.18h3.38v3.36h-3.38zM19.70 275.10h3.38v3.36h-3.38zM23.64 275.10h3.38v3.36h-3.38zM31.52 275.10h3.38v3.36h-3.38zM59.10 275.10h3.38v3.36h-3.38zM19.70 282.94h3.38v3.36h-3.38zM63.04 282.94h3.38v3.36h-3.38zM19.70 286.86h3.38v3.36h-3.38zM39.40 286.86h3.38v3.36h-3.38zM15.76 290.78h3.38v3.36h-3.38zM27.58 290.78h3.38v3.36h-3.38zM47.28 290.78h3.38v3.36h-3.38zM55.16 290.78h3.38v3.36h-3.38zM66.98 290.78h3.38v3.36h-3.38zM47.28 294.70h3.38v3.36h-3.38zM23.64 302.54h3.38v3.36h-3.38zM43.34 302.54h3.38v3.36h-3.38zM23.64 306.46h3.38v3.36h-3.38zM59.10 306.46h3.38v3.36h-3.38zM7.88 310.38h3.38v3.36h-3.38zM23.64 310.38h3.38v3.36h-3.38zM43.34 310.38h3.38v3.36h-3.38zM55.16 310.38h3.38v3.36h-3.38zM63.04 310.38h3.38v3.36h-3.38zM11.82 314.30h3.38v3.36h-3.38zM31.52 314.30h3.38v3.36h-3.38zM43.34 314.30h3.38v3.36h-3.38zM51.22 314.30h3.38v3.36h-3.38zM35.46 318.22h3.38v3.36h-3.38zM39.40 322.14h3.38v3.36h-3.38zM51.22 322.14h3.38v3.36h-3.38zM23.64 326.06h3.38v3.36h-3.38zM35.46 329.98h3.38v3.36h-3.38zM11.82 333.90h3.38v3.36h-3.38zM19.70 333.90h3.38v3.36h-3.38zM35.46 333.90h3.38v3.36h-3.38zM47.28 337.82h3.38v3.36h-3.38zM66.98 337.82h3.38v3.36h-3.38zM31.52 341.74h3.38v3.36h-3.38zM43.34 341.74h3.38v3.36h-3.38zM39.40 349.58h3.38v3.36h-3.38zM63.04 349.58h3.38v3.36h-3.38zM7.88 353.50h3.38v3.36h-3.38zM15.76 353.50h3.38v3.36h-3.38zM47.28 353.50h3.38v3.36h-3.38zM55.16 357.42h3.38v3.36h-3.38zM35.46 361.34h3.38v3.36h-3.38zM43.34 361.34h3.38v3.36h-3.38zM27.58 365.26h3.38v3.36h-3.38zM51.22 365.26h3.38v3.36h-3.38zM7.88 369.18h3.38v3.36h-3.38zM11.82 373.10h3.38v3.36h-3.38zM43.34 373.10h3.38v3.36h-3.38zM59.10 373.10h3.38v3.36h-3.38zM7.88 377.02h3.38v3.36h-3.38zM23.64 377.02h3.38v3.36h-3.38zM35.46 380.94h3.38v3.36h-3.38zM23.64 388.78h3.38v3.36h-3.38zM19.70 392.70h3.38v3.36h-3.38zM31.52 392.70h3.38v3.36h-3.38zM35.46 396.62h3.38v3.36h-3.38zM63.04 396.62h3.38v3.36h-3.38zM39.40 400.54h3.38v3.36h-3.38zM19.70 404.46h3.38v3.36h-3.38zM31.52 404.46h3.38v3.36h-3.38zM66.98 404.46h3.38v3.36h-3.38zM27.58 408.38h3.38v3.36h-3.38zM43.34 408.38h3.38v3.36h-3.38zM7.88 412.30h3.38v3.36h-3.38zM23.64 412.30h3.38v3.36h-3.38zM59.10 412.30h3.38v3.36h-3.38zM35.46 416.22h3.38v3.36h-3.38zM59.10 416.22h3.38v3.36h-3.38zM7.88 420.14h3.38v3.36h-3.38zM23.64 420.14h3.38v3.36h-3.38zM35.46 420.14h3.38v3.36h-3.38zM43.34 420.14h3.38v3.36h-3.38zM63.04 420.14h3.38v3.36h-3.38zM11.82 424.06h3.38v3.36h-3.38zM23.64 424.06h3.38v3.36h-3.38zM39.40 424.06h3.38v3.36h-3.38zM23.64 427.98h3.38v3.36h-3.38zM31.52 427.98h3.38v3.36h-3.38zM43.34 427.98h3.38v3.36h-3.38zM55.16 427.98h3.38v3.36h-3.38zM66.98 427.98h3.38v3.36h-3.38zM35.46 431.90h3.38v3.36h-3.38zM43.34 431.90h3.38v3.36h-3.38zM23.64 435.82h3.38v3.36h-3.38zM31.52 439.74h3.38v3.36h-3.38zM59.10 439.74h3.38v3.36h-3.38z"/>
<path fill="#f01e40" d="M98.50 59.50h3.38v3.36h-3.38zM114.26 59.50h3.38v3.36h-3.38zM94.56 63.42h3.38v3.36h-3.38zM126.08 63.42h3.38v3.36h-3.38zM130.02 67.34h3.38v3.36h-3.38zM114.26 75.18h3.38v3.36h-3.38zM122.14 75.18h3.38v3.36h-3.38zM78.80 79.10h3.38v3.36h-3.38zM98.50 79.10h3.38v3.36h-3.38zM110.32 79.10h3.38v3.36h-3.38zM118.20 79.10h3.38v3.36h-3.38zM82.74 83.02h3.38v3.36h-3.38zM90.62 83.02h3.38v3.36h-3.38zM122.14 83.02h3.38v3.36h-3.38zM126.08 86.94h3.38v3.36h-3.38zM74.86 90.86h3.38v3.36h-3.38zM78.80 90.86h3.38v3.36h-3.38zM86.68 94.78h3.38v3.36h-3.38zM126.08 94.78h3.38v3.36h-3.38zM98.50 98.70h3.38v3.36h-3.38zM110.32 98.70h3.38v3.36h-3.38zM74.86 102.62h3.38v3.36h-3.38zM94.56 102.62h3.38v3.36h-3.38zM70.92 106.54h3.38v3.36h-3.38zM90.62 106.54h3.38v3.36h-3.38zM122.14 106.54h3.38v3.36h-3.38zM70.92 110.46h3.38v3.36h-3.38zM74.86 110.46h3.38v3.36h-3.38zM98.50 114.38h3.38v3.36h-3.38zM126.08 114.38h3.38v3.36h-3.38zM74.86 118.30h3.38v3.36h-3.38zM122.14 118.30h3.38v3.36h-3.38zM74.86 122.22h3.38v3.36h-3.38zM90.62 122.22h3.38v3.36h-3.38zM94.56 126.14h3.38v3.36h-3.38zM110.32 130.06h3.38v3.36h-3.38zM78.80 133.98h3.38v3.36h-3.38zM82.74 133.98h3.38v3.36h-3.38zM90.62 133.98h3.38v3.36h-3.38zM98.50 133.98h3.38v3.36h-3.38zM114.26 137.90h3.38v3.36h-3.38zM130.02 137.90h3.38v3.36h-3.38zM126.08 145.74h3.38v3.36h-3.38zM78.80 149.66h3.38v3.36h-3.38zM126.08 153.58h3.38v3.36h-3.38zM78.80 157.50h3.38v3.36h-3.38zM118.20 157.50h3.38v3.36h-3.38zM94.56 161.42h3.38v3.36h-3.38zM114.26 161.42h3.38v3.36h-3.38zM110.32 165.34h3.38v3.36h-3.38zM74.86 169.26h3.38v3.36h-3.38zM114.26 169.26h3.38v3.36h-3.38zM82.74 173.18h3.38v3.36h-3.38zM130.02 173.18h3.38v3.36h-3.38zM70.92 181.02h3.38v3.36h-3.38zM74.86 181.02h3.38v3.36h-3.38zM82.74 181.02h3.38v3.36h-3.38zM86.68 181.02h3.38v3.36h-3.38zM94.56 181.02h3.38v3.36h-3.38zM118.20 184.94h3.38v3.36h-3.38zM94.56 188.86h3.38v3.36h-3.38zM106.38 188.86h3.38v3.36h-3.38zM74.86 192.78h3.38v3.36h-3.38zM82.74 192.78h3.38v3.36h-3.38zM98.50 192.78h3.38v3.36h-3.38zM86.68 196.70h3.38v3.36h-3.38zM114.26 208.46h3.38v3.36h-3.38zM74.86 212.38h3.38v3.36h-3.38zM78.80 212.38h3.38v3.36h-3.38zM110.32 212.38h3.38v3.36h-3.38zM122.14 212.38h3.38v3.36h-3.38zM70.92 216.30h3.38v3.36h-3.38zM110.32 216.30h3.38v3.36h-3.38zM74.86 220.22h3.38v3.36h-3.38zM90.62 220.22h3.38v3.36h-3.38zM70.92 224.14h3.38v3.36h-3.38zM74.86 228.06h3.38v3.36h-3.38zM110.32 231.98h3.38v3.36h-3.38zM74.86 239.82h3.38v3.36h-3.38zM106.38 239.82h3.38v3.36h-3.38zM114.26 239.82h3.38v3.36h-3.38zM126.08 239.82h3.38v3.36h-3.38zM90.62 243.74h3.38v3.36h-3.38zM126.08 243.74h3.38v3.36h-3.38zM98.50 247.66h3.38v3.36h-3.38zM130.02 247.66h3.38v3.36h-3.38zM11.82 251.58h3.38v3.36h-3.38zM15.76 251.58h3.38v3.36h-3.38zM55.16 251.58h3.38v3.36h-3.38zM59.10 251.58h3.38v3.36h-3.38zM43.34 255.50h3.38v3.36h-3.38zM47.28 255.50h3.38v3.36h-3.38zM11.82 259.42h3.38v3.36h-3.38zM51.22 259.42h3.38v3.36h-3.38zM31.52 263.34h3.38v3.36h-3.38zM59.10 263.34h3.38v3.36h-3.38zM27.58 267.26h3.38v3.36h-3.38zM63.04 267.26h3.38v3.36h-3.38zM31.52 271.18h3.38v3.36h-3.38zM35.46 271.18h3.38v3.36h-3.38zM47.28 271.18h3.38v3.36h-3.38zM43.34 275.10h3.38v3.36h-3.38zM66.98 275.10h3.38v3.36h-3.38zM19.70 279.02h3.38v3.36h-3.38zM27.58 279.02h3.38v3.36h-3.38zM55.16 279.02h3.38v3.36h-3.38zM11.82 282.94h3.38v3.36h-3.38zM59.10 282.94h3.38v3.36h-3.38zM15.76 286.86h3.38v3.36h-3.38zM31.52 286.86h3.38v3.36h-3.38zM63.04 286.86h3.38v3.36h-3.38zM23.64 290.78h3.38v3.36h-3.38zM43.34 290.78h3.38v3.36h-3.38zM51.22 290.78h3.38v3.36h-3.38zM59.10 290.78h3.38v3.36h-3.38zM11.82 294.70h3.38v3.36h-3.38zM51.22 294.70h3.38v3.36h-3.38zM59.10 298.62h3.38v3.36h-3.38zM66.98 298.62h3.38v3.36h-3.38zM7.88 306.46h3.38v3.36h-3.38zM35.46 306.46h3.38v3.36h-3.38zM63.04 306.46h3.38v3.36h-3.38zM11.82 310.38h3.38v3.36h-3.38zM47.28 314.30h3.38v3.36h-3.38zM66.98 314.30h3.38v3.36h-3.38zM63.04 318.22h3.38v3.36h-3.38zM7.88 322.14h3.38v3.36h-3.38zM15.76 322.14h3.38v3.36h-3.38zM66.98 322.14h3.38v3.36h-3.38zM31.52 326.06h3.38v3.36h-3.38zM63.04 326.06h3.38v3.36h-3.38zM11.82 329.98h3.38v3.36h-3.38zM31.52 329.98h3.38v3.36h-3.38zM55.16 329.98h3.38v3.36h-3.38zM59.10 333.90h3.38v3.36h-3.38zM43.34 337.82h3.38v3.36h-3.38zM39.40 341.74h3.38v3.36h-3.38zM66.98 341.74h3.38v3.36h-3.38zM11.82 345.66h3.38v3.36h-3.38zM39.40 345.66h3.38v3.36h-3.38zM7.88 349.58h3.38v3.36h-3.38zM35.46 349.58h3.38v3.36h-3.38zM43.34 349.58h3.38v3.36h-3.38zM35.46 353.50h3.38v3.36h-3.38zM27.58 357.42h3.38v3.36h-3.38zM47.28 357.42h3.38v3.36h-3.38zM66.98 357.42h3.38v3.36h-3.38zM59.10 361.34h3.38v3.36h-3.38zM23.64 365.26h3.38v3.36h-3.38zM19.70 369.18h3.38v3.36h-3.38zM27.58 369.18h3.38v3.36h-3.38zM51.22 369.18h3.38v3.36h-3.38zM7.88 373.10h3.38v3.36h-3.38zM39.40 373.10h3.38v3.36h-3.38zM47.28 373.10h3.38v3.36h-3.38zM11.82 377.02h3.38v3.36h-3.38zM47.28 377.02h3.38v3.36h-3.38zM23.64 380.94h3.38v3.36h-3.38zM47.28 384.86h3.38v3.36h-3.38zM27.58 388.78h3.38v3.36h-3.38zM43.34 388.78h3.38v3.36h-3.38zM15.76 392.70h3.38v3.36h-3.38zM43.34 392.70h3.38v3.36h-3.38zM66.98 392.70h3.38v3.36h-3.38zM23.64 396.62h3.38v3.36h-3.38zM66.98 396.62h3.38v3.36h-3.38zM23.64 400.54h3.38v3.36h-3.38zM35.46 400.54h3.38v3.36h-3.38zM66.98 400.54h3.38v3.36h-3.38zM39.40 404.46h3.38v3.36h-3.38zM7.88 408.38h3.38v3.36h-3.38zM15.76 408.38h3.38v3.36h-3.38zM47.28 408.38h3.38v3.36h-3.38zM39.40 412.30h3.38v3.36h-3.38zM27.58 416.22h3.38v3.36h-3.38zM27.58 420.14h3.38v3.36h-3.38zM55.16 420.14h3.38v3.36h-3.38zM59.10 420.14h3.38v3.36h-3.38zM55.16 424.06h3.38v3.36h-3.38zM15.76 427.98h3.38v3.36h-3.38zM19.70 431.90h3.38v3.36h-3.38zM39.40 431.90h3.38v3.36h-3.38zM59.10 431.90h3.38v3.36h-3.38zM11.82 439.74h3.38v3.36h-3.38zM27.58 439.74h3.38v3.36h-3.38zM11.82 443.66h3.38v3.36h-3.38zM19.70 443.66h3.38v3.36h-3.38z"/>
<path fill="#e6e0fa" d="M102.44 59.50h3.38v3.36h-3.38zM74.86 71.26h3.38v3.36h-3.38zM70.92 83.02h3.38v3.36h-3.38zM86.68 90.86h3.38v3.36h-3.38zM70.92 98.70h3.38v3.36h-3.38zM82.74 102.62h3.38v3.36h-3.38zM90.62 110.46h3.38v3.36h-3.38zM98.50 110.46h3.38v3.36h-3.38zM98.50 118.30h3.38v3.36h-3.38zM70.92 122.22h3.38v3.36h-3.38zM106.38 130.06h3.38v3.36h-3.38zM106.38 133.98h3.38v3.36h-3.38zM90.62 137.90h3.38v3.36h-3.38zM90.62 145.74h3.38v3.36h-3.38zM98.50 145.74h3.38v3.36h-3.38zM90.62 157.50h3.38v3.36h-3.38zM98.50 157.50h3.38v3.36h-3.38zM74.86 161.42h3.38v3.36h-3.38zM106.38 161.42h3.38v3.36h-3.38zM86.68 165.34h3.38v3.36h-3.38zM78.80 169.26h3.38v3.36h-3.38zM86.68 173.18h3.38v3.36h-3.38zM98.50 177.10h3.38v3.36h-3.38zM110.32 177.10h3.38v3.36h-3.38zM86.68 188.86h3.38v3.36h-3.38zM86.68 192.78h3.38v3.36h-3.38zM106.38 192.78h3.38v3.36h-3.38zM98.50 200.62h3.38v3.36h-3.38zM110.32 204.54h3.38v3.36h-3.38zM110.32 208.46h3.38v3.36h-3.38zM82.74 216.30h3.38v3.36h-3.38zM98.50 216.30h3.38v3.36h-3.38zM110.32 220.22h3.38v3.36h-3.38zM110.32 228.06h3.38v3.36h-3.38zM86.68 231.98h3.38v3.36h-3.38zM110.32 247.66h3.38v3.36h-3.38zM19.70 255.50h3.38v3.36h-3.38zM39.40 267.26h3.38v3.36h-3.38zM7.88 271.18h3.38v3.36h-3.38zM47.28 275.10h3.38v3.36h-3.38zM59.10 279.02h3.38v3.36h-3.38zM15.76 302.54h3.38v3.36h-3.38zM51.22 306.46h3.38v3.36h-3.38zM66.98 310.38h3.38v3.36h-3.38zM35.46 314.30h3.38v3.36h-3.38zM47.28 318.22h3.38v3.36h-3.38zM43.34 322.14h3.38v3.36h-3.38zM11.82 326.06h3.38v3.36h-3.38zM23.64 341.74h3.38v3.36h-3.38zM47.28 341.74h3.38v3.36h-3.38zM63.04 341.74h3.38v3.36h-3.38zM19.70 345.66h3.38v3.36h-3.38zM47.28 361.34h3.38v3.36h-3.38zM31.52 369.18h3.38v3.36h-3.38zM59.10 369.18h3.38v3.36h-3.38zM63.04 373.10h3.38v3.36h-3.38zM15.76 377.02h3.38v3.36h-3.38zM51.22 377.02h3.38v3.36h-3.38zM59.10 380.94h3.38v3.36h-3.38zM15.76 384.86h3.38v3.36h-3.38zM39.40 384.86h3.38v3.36h-3.38zM7.88 388.78h3.38v3.36h-3.38zM47.28 388.78h3.38v3.36h-3.38zM23.64 392.70h3.38v3.36h-3.38zM31.52 408.38h3.38v3.36h-3.38zM35.46 412.30h3.38v3.36h-3.38zM66.98 416.22h3.38v3.36h-3.38zM31.52 424.06h3.38v3.36h-3.38zM59.10 427.98h3.38v3.36h-3.38zM55.16 435.82h3.38v3.36h-3.38zM15.76 439.74h3.38v3.36h-3.38zM59.10 443.66h3.38v3.36h-3.38zM63.04 443.66h3.38v3.36h-3.38z"/>
<path fill="#f892c8" d="M126.08 59.50h3.38v3.36h-3.38zM98.50 67.34h3.38v3.36h-3.38zM106.38 71.26h3.38v3.36h-3.38zM110.32 94.78h3.38v3.36h-3.38zM78.80 126.14h3.38v3.36h-3.38zM90.62 126.14h3.38v3.36h-3.38zM110.32 126.14h3.38v3.36h-3.38zM94.56 133.98h3.38v3.36h-3.38zM86.68 137.90h3.38v3.36h-3.38zM110.32 137.90h3.38v3.36h-3.38zM106.38 173.18h3.38v3.36h-3.38zM86.68 177.10h3.38v3.36h-3.38zM55.16 282.94h3.38v3.36h-3.38zM19.70 384.86h3.38v3.36h-3.38zM35.46 384.86h3.38v3.36h-3.38zM63.04 384.86h3.38v3.36h-3.38zM7.88 392.70h3.38v3.36h-3.38zM51.22 392.70h3.38v3.36h-3.38zM11.82 396.62h3.38v3.36h-3.38zM51.22 396.62h3.38v3.36h-3.38zM51.22 400.54h3.38v3.36h-3.38zM51.22 412.30h3.38v3.36h-3.38zM7.88 439.74h3.38v3.36h-3.38z"/>
<path fill="#f25088" d="M7.88 63.42h3.38v3.36h-3.38zM59.10 228.06h3.38v3.36h-3.38zM70.92 271.18h3.38v3.36h-3.38zM106.38 279.02h3.38v3.36h-3.38zM110.32 286.86h3.38v3.36h-3.38zM98.50 298.62h3.38v3.36h-3.38zM82.74 310.38h3.38v3.36h-3.38zM110.32 314.30h3.38v3.36h-3.38zM110.32 333.90h3.38v3.36h-3.38zM110.32 337.82h3.38v3.36h-3.38zM110.32 349.58h3.38v3.36h-3.38zM82.74 357.42h3.38v3.36h-3.38zM90.62 365.26h3.38v3.36h-3.38zM98.50 439.74h3.38v3.36h-3.38zM110.32 439.74h3.38v3.36h-3.38z"/>
<path fill="#ea000c" d="M102.44 63.42h3.38v3.36h-3.38zM102.44 67.34h3.38v3.36h-3.38zM102.44 71.26h3.38v3.36h-3.38zM102.44 90.86h3.38v3.36h-3.38zM102.44 94.78h3.38v3.36h-3.38zM102.44 102.62h3.38v3.36h-3.38zM102.44 106.54h3.38v3.36h-3.38zM102.44 110.46h3.38v3.36h-3.38zM102.44 114.38h3.38v3.36h-3.38zM102.44 118.30h3.38v3.36h-3.38zM102.44 126.14h3.38v3.36h-3.38zM102.44 130.06h3.38v3.36h-3.38zM102.44 137.90h3.38v3.36h-3.38zM102.44 141.82h3.38v3.36h-3.38zM102.44 169.26h3.38v3.36h-3.38zM102.44 177.10h3.38v3.36h-3.38zM102.44 181.02h3.38v3.36h-3.38zM102.44 204.54h3.38v3.36h-3.38zM102.44 212.38h3.38v3.36h-3.38zM102.44 216.30h3.38v3.36h-3.38zM102.44 220.22h3.38v3.36h-3.38zM102.44 239.82h3.38v3.36h-3.38zM102.44 247.66h3.38v3.36h-3.38z"/>
<path fill="#f4dcf2" d="M110.32 63.42h3.38v3.36h-3.38zM70.92 67.34h3.38v3.36h-3.38zM78.80 75.18h3.38v3.36h-3.38zM106.38 79.10h3.38v3.36h-3.38zM110.32 86.94h3.38v3.36h-3.38zM70.92 94.78h3.38v3.36h-3.38zM106.38 102.62h3.38v3.36h-3.38zM78.80 110.46h3.38v3.36h-3.38zM106.38 122.22h3.38v3.36h-3.38zM86.68 126.14h3.38v3.36h-3.38zM106.38 137.90h3.38v3.36h-3.38zM86.68 141.82h3.38v3.36h-3.38zM106.38 145.74h3.38v3.36h-3.38zM82.74 149.66h3.38v3.36h-3.38zM82.74 153.58h3.38v3.36h-3.38zM86.68 153.58h3.38v3.36h-3.38zM74.86 157.50h3.38v3.36h-3.38zM98.50 173.18h3.38v3.36h-3.38zM106.38 184.94h3.38v3.36h-3.38zM102.44 188.86h3.38v3.36h-3.38zM70.92 196.70h3.38v3.36h-3.38zM98.50 196.70h3.38v3.36h-3.38zM86.68 200.62h3.38v3.36h-3.38zM106.38 212.38h3.38v3.36h-3.38zM70.92 220.22h3.38v3.36h-3.38zM86.68 220.22h3.38v3.36h-3.38zM106.38 220.22h3.38v3.36h-3.38zM74.86 224.14h3.38v3.36h-3.38zM106.38 231.98h3.38v3.36h-3.38zM90.62 235.90h3.38v3.36h-3.38zM106.38 243.74h3.38v3.36h-3.38zM23.64 251.58h3.38v3.36h-3.38zM47.28 259.42h3.38v3.36h-3.38zM15.76 263.34h3.38v3.36h-3.38zM11.82 275.10h3.38v3.36h-3.38zM31.52 279.02h3.38v3.36h-3.38zM7.88 282.94h3.38v3.36h-3.38zM51.22 286.86h3.38v3.36h-3.38zM7.88 290.78h3.38v3.36h-3.38zM31.52 294.70h3.38v3.36h-3.38zM63.04 302.54h3.38v3.36h-3.38zM11.82 306.46h3.38v3.36h-3.38zM27.58 310.38h3.38v3.36h-3.38zM7.88 318.22h3.38v3.36h-3.38zM51.22 318.22h3.38v3.36h-3.38zM19.70 337.82h3.38v3.36h-3.38zM7.88 341.74h3.38v3.36h-3.38zM63.04 345.66h3.38v3.36h-3.38zM19.70 353.50h3.38v3.36h-3.38zM47.28 369.18h3.38v3.36h-3.38zM66.98 369.18h3.38v3.36h-3.38zM15.76 373.10h3.38v3.36h-3.38zM35.46 373.10h3.38v3.36h-3.38zM63.04 377.02h3.38v3.36h-3.38zM15.76 380.94h3.38v3.36h-3.38zM66.98 380.94h3.38v3.36h-3.38zM51.22 408.38h3.38v3.36h-3.38zM15.76 416.22h3.38v3.36h-3.38zM23.64 416.22h3.38v3.36h-3.38zM31.52 416.22h3.38v3.36h-3.38zM43.34 416.22h3.38v3.36h-3.38zM15.76 420.14h3.38v3.36h-3.38zM43.34 424.06h3.38v3.36h-3.38zM66.98 424.06h3.38v3.36h-3.38zM47.28 427.98h3.38v3.36h-3.38zM51.22 435.82h3.38v3.36h-3.38zM23.64 443.66h3.38v3.36h-3.38zM39.40 443.66h3.38v3.36h-3.38z"/>
<path fill="#e2e0fa" d="M11.82 67.34h3.38v3.36h-3.38zM59.10 79.10h3.38v3.36h-3.38zM63.04 86.94h3.38v3.36h-3.38zM63.04 90.86h3.38v3.36h-3.38zM27.58 98.70h3.38v3.36h-3.38zM59.10 106.54h3.38v3.36h-3.38zM15.76 110.46h3.38v3.36h-3.38zM35.46 122.22h3.38v3.36h-3.38zM59.10 122.22h3.38v3.36h-3.38zM23.64 130.06h3.38v3.36h-3.38zM35.46 130.06h3.38v3.36h-3.38zM51.22 130.06h3.38v3.36h-3.38zM55.16 130.06h3.38v3.36h-3.38zM59.10 130.06h3.38v3.36h-3.38zM51.22 153.58h3.38v3.36h-3.38zM15.76 157.50h3.38v3.36h-3.38zM63.04 169.26h3.38v3.36h-3.38zM63.04 177.10h3.38v3.36h-3.38zM59.10 181.02h3.38v3.36h-3.38zM31.52 184.94h3.38v3.36h-3.38zM23.64 188.86h3.38v3.36h-3.38zM19.70 192.78h3.38v3.36h-3.38zM47.28 192.78h3.38v3.36h-3.38zM19.70 196.70h3.38v3.36h-3.38zM47.28 196.70h3.38v3.36h-3.38zM55.16 196.70h3.38v3.36h-3.38zM43.34 212.38h3.38v3.36h-3.38zM66.98 212.38h3.38v3.36h-3.38zM11.82 220.22h3.38v3.36h-3.38zM63.04 228.06h3.38v3.36h-3.38zM55.16 231.98h3.38v3.36h-3.38zM19.70 235.90h3.38v3.36h-3.38zM66.98 239.82h3.38v3.36h-3.38zM19.70 243.74h3.38v3.36h-3.38zM70.92 251.58h3.38v3.36h-3.38zM110.32 255.50h3.38v3.36h-3.38zM82.74 259.42h3.38v3.36h-3.38zM110.32 259.42h3.38v3.36h-3.38zM86.68 263.34h3.38v3.36h-3.38zM86.68 267.26h3.38v3.36h-3.38zM98.50 267.26h3.38v3.36h-3.38zM98.50 275.10h3.38v3.36h-3.38zM106.38 275.10h3.38v3.36h-3.38zM70.92 279.02h3.38v3.36h-3.38zM106.38 282.94h3.38v3.36h-3.38zM86.68 286.86h3.38v3.36h-3.38zM110.32 290.78h3.38v3.36h-3.38zM74.86 294.70h3.38v3.36h-3.38zM86.68 294.70h3.38v3.36h-3.38zM94.56 294.70h3.38v3.36h-3.38zM70.92 298.62h3.38v3.36h-3.38zM94.56 302.54h3.38v3.36h-3.38zM90.62 310.38h3.38v3.36h-3.38zM94.56 314.30h3.38v3.36h-3.38zM102.44 314.30h3.38v3.36h-3.38zM82.74 318.22h3.38v3.36h-3.38zM98.50 322.14h3.38v3.36h-3.38zM110.32 322.14h3.38v3.36h-3.38zM94.56 329.98h3.38v3.36h-3.38zM70.92 337.82h3.38v3.36h-3.38zM122.14 337.82h3.38v3.36h-3.38zM94.56 341.74h3.38v3.36h-3.38zM110.32 341.74h3.38v3.36h-3.38zM82.74 345.66h3.38v3.36h-3.38zM86.68 345.66h3.38v3.36h-3.38zM114.26 349.58h3.38v3.36h-3.38zM114.26 353.50h3.38v3.36h-3.38zM94.56 357.42h3.38v3.36h-3.38zM98.50 361.34h3.38v3.36h-3.38zM74.86 365.26h3.38v3.36h-3.38zM98.50 365.26h3.38v3.36h-3.38zM82.74 369.18h3.38v3.36h-3.38zM98.50 369.18h3.38v3.36h-3.38zM90.62 373.10h3.38v3.36h-3.38zM82.74 377.02h3.38v3.36h-3.38zM94.56 380.94h3.38v3.36h-3.38zM126.08 388.78h3.38v3.36h-3.38zM70.92 392.70h3.38v3.36h-3.38zM98.50 392.70h3.38v3.36h-3.38zM106.38 392.70h3.38v3.36h-3.38zM78.80 404.46h3.38v3.36h-3.38zM94.56 408.38h3.38v3.36h-3.38zM118.20 408.38h3.38v3.36h-3.38zM70.92 420.14h3.38v3.36h-3.38zM74.86 420.14h3.38v3.36h-3.38zM94.56 420.14h3.38v3.36h-3.38zM110.32 424.06h3.38v3.36h-3.38zM94.56 427.98h3.38v3.36h-3.38zM126.08 427.98h3.38v3.36h-3.38zM70.92 431.90h3.38v3.36h-3.38zM90.62 431.90h3.38v3.36h-3.38zM82.74 439.74h3.38v3.36h-3.38zM70.92 443.66h3.38v3.36h-3.38zM82.74 443.66h3.38v3.36h-3.38zM110.32 443.66h3.38v3.36h-3.38z"/>
<path fill="#f2b0e0" d="M11.82 83.02h3.38v3.36h-3.38zM63.04 94.78h3.38v3.36h-3.38zM27.58 118.30h3.38v3.36h-3.38zM11.82 161.42h3.38v3.36h-3.38zM31.52 161.42h3.38v3.36h-3.38zM7.88 184.94h3.38v3.36h-3.38zM11.82 200.62h3.38v3.36h-3.38zM11.82 208.46h3.38v3.36h-3.38zM11.82 216.30h3.38v3.36h-3.38zM59.10 231.98h3.38v3.36h-3.38zM11.82 243.74h3.38v3.36h-3.38zM94.56 275.10h3.38v3.36h-3.38zM94.56 290.78h3.38v3.36h-3.38zM98.50 290.78h3.38v3.36h-3.38zM70.92 294.70h3.38v3.36h-3.38zM82.74 298.62h3.38v3.36h-3.38zM82.74 302.54h3.38v3.36h-3.38zM98.50 310.38h3.38v3.36h-3.38zM86.68 329.98h3.38v3.36h-3.38zM90.62 329.98h3.38v3.36h-3.38zM110.32 329.98h3.38v3.36h-3.38zM94.56 353.50h3.38v3.36h-3.38zM106.38 369.18h3.38v3.36h-3.38zM98.50 373.10h3.38v3.36h-3.38zM94.56 377.02h3.38v3.36h-3.38zM106.38 377.02h3.38v3.36h-3.38zM106.38 388.78h3.38v3.36h-3.38zM106.38 408.38h3.38v3.36h-3.38zM86.68 412.30h3.38v3.36h-3.38zM82.74 416.22h3.38v3.36h-3.38zM98.50 416.22h3.38v3.36h-3.38zM82.74 424.06h3.38v3.36h-3.38zM86.68 424.06h3.38v3.36h-3.38zM70.92 427.98h3.38v3.36h-3.38zM118.20 427.98h3.38v3.36h-3.38zM82.74 431.90h3.38v3.36h-3.38zM110.32 431.90h3.38v3.36h-3.38z"/>
<path fill="#ec3a6a" d="M7.88 86.94h3.38v3.36h-3.38zM59.10 235.90h3.38v3.36h-3.38zM31.52 239.82h3.38v3.36h-3.38zM110.32 310.38h3.38v3.36h-3.38zM106.38 326.06h3.38v3.36h-3.38zM82.74 333.90h3.38v3.36h-3.38zM70.92 345.66h3.38v3.36h-3.38zM98.50 353.50h3.38v3.36h-3.38zM106.38 357.42h3.38v3.36h-3.38zM98.50 384.86h3.38v3.36h-3.38zM86.68 404.46h3.38v3.36h-3.38zM98.50 404.46h3.38v3.36h-3.38zM110.32 420.14h3.38v3.36h-3.38zM90.62 435.82h3.38v3.36h-3.38z"/>
<path fill="#eec0ec" d="M11.82 90.86h3.38v3.36h-3.38zM35.46 110.46h3.38v3.36h-3.38zM7.88 130.06h3.38v3.36h-3.38zM11.82 165.34h3.38v3.36h-3.38zM31.52 165.34h3.38v3.36h-3.38zM23.64 181.02h3.38v3.36h-3.38zM11.82 184.94h3.38v3.36h-3.38zM11.82 224.14h3.38v3.36h-3.38zM98.50 255.50h3.38v3.36h-3.38zM122.14 286.86h3.38v3.36h-3.38zM106.38 302.54h3.38v3.36h-3.38zM110.32 318.22h3.38v3.36h-3.38zM82.74 322.14h3.38v3.36h-3.38zM86.68 322.14h3.38v3.36h-3.38zM90.62 326.06h3.38v3.36h-3.38zM86.68 333.90h3.38v3.36h-3.38zM126.08 349.58h3.38v3.36h-3.38zM86.68 357.42h3.38v3.36h-3.38zM110.32 361.34h3.38v3.36h-3.38zM90.62 377.02h3.38v3.36h-3.38zM82.74 384.86h3.38v3.36h-3.38zM82.74 392.70h3.38v3.36h-3.38zM110.32 392.70h3.38v3.36h-3.38zM86.68 396.62h3.38v3.36h-3.38zM94.56 396.62h3.38v3.36h-3.38zM98.50 400.54h3.38v3.36h-3.38zM86.68 408.38h3.38v3.36h-3.38zM86.68 416.22h3.38v3.36h-3.38zM122.14 427.98h3.38v3.36h-3.38zM86.68 431.90h3.38v3.36h-3.38zM94.56 435.82h3.38v3.36h-3.38zM114.26 435.82h3.38v3.36h-3.38zM90.62 439.74h3.38v3.36h-3.38zM122.14 443.66h3.38v3.36h-3.38z"/>
<path fill="#8c8cf2" d="M86.68 102.62h3.38v3.36h-3.38zM98.50 141.82h3.38v3.36h-3.38zM106.38 247.66h3.38v3.36h-3.38z"/>
<path fill="#a0a0f2" d="M86.68 157.50h3.38v3.36h-3.38zM78.80 181.02h3.38v3.36h-3.38zM70.92 188.86h3.38v3.36h-3.38z"/>
<path fill="#4c4cf6" d="M78.80 251.58h3.38v3.36h-3.38zM94.56 251.58h3.38v3.36h-3.38zM98.50 263.34h3.38v3.36h-3.38zM70.92 267.26h3.38v3.36h-3.38zM110.32 267.26h3.38v3.36h-3.38zM110.32 271.18h3.38v3.36h-3.38zM78.80 275.10h3.38v3.36h-3.38zM82.74 275.10h3.38v3.36h-3.38zM90.62 286.86h3.38v3.36h-3.38zM74.86 290.78h3.38v3.36h-3.38zM78.80 310.38h3.38v3.36h-3.38zM90.62 318.22h3.38v3.36h-3.38zM78.80 322.14h3.38v3.36h-3.38zM94.56 326.06h3.38v3.36h-3.38zM98.50 333.90h3.38v3.36h-3.38zM74.86 337.82h3.38v3.36h-3.38zM98.50 337.82h3.38v3.36h-3.38zM94.56 345.66h3.38v3.36h-3.38zM70.92 349.58h3.38v3.36h-3.38zM82.74 349.58h3.38v3.36h-3.38zM94.56 349.58h3.38v3.36h-3.38zM110.32 373.10h3.38v3.36h-3.38zM74.86 377.02h3.38v3.36h-3.38zM78.80 384.86h3.38v3.36h-3.38zM110.32 404.46h3.38v3.36h-3.38zM90.62 408.38h3.38v3.36h-3.38zM106.38 416.22h3.38v3.36h-3.38zM78.80 424.06h3.38v3.36h-3.38zM98.50 424.06h3.38v3.36h-3.38zM70.92 435.82h3.38v3.36h-3.38zM74.86 439.74h3.38v3.36h-3.38zM86.68 443.66h3.38v3.36h-3.38zM94.56 443.66h3.38v3.36h-3.38z"/>
<path fill="#0808f0" d="M102.44 251.58h3.38v3.36h-3.38zM102.44 255.50h3.38v3.36h-3.38zM102.44 259.42h3.38v3.36h-3.38zM102.44 263.34h3.38v3.36h-3.38zM102.44 267.26h3.38v3.36h-3.38zM102.44 271.18h3.38v3.36h-3.38zM102.44 275.10h3.38v3.36h-3.38zM102.44 279.02h3.38v3.36h-3.38zM102.44 282.94h3.38v3.36h-3.38zM102.44 286.86h3.38v3.36h-3.38zM102.44 290.78h3.38v3.36h-3.38zM102.44 294.70h3.38v3.36h-3.38zM102.44 298.62h3.38v3.36h-3.38zM102.44 302.54h3.38v3.36h-3.38zM102.44 306.46h3.38v3.36h-3.38zM102.44 310.38h3.38v3.36h-3.38zM102.44 318.22h3.38v3.36h-3.38zM102.44 322.14h3.38v3.36h-3.38zM102.44 326.06h3.38v3.36h-3.38zM102.44 329.98h3.38v3.36h-3.38zM102.44 333.90h3.38v3.36h-3.38zM102.44 337.82h3.38v3.36h-3.38zM102.44 341.74h3.38v3.36h-3.38zM102.44 345.66h3.38v3.36h-3.38zM102.44 349.58h3.38v3.36h-3.38zM102.44 353.50h3.38v3.36h-3.38zM102.44 357.42h3.38v3.36h-3.38zM102.44 361.34h3.38v3.36h-3.38zM102.44 365.26h3.38v3.36h-3.38zM102.44 369.18h3.38v3.36h-3.38zM102.44 373.10h3.38v3.36h-3.38zM102.44 377.02h3.38v3.36h-3.38zM102.44 380.94h3.38v3.36h-3.38zM102.44 384.86h3.38v3.36h-3.38zM102.44 388.78h3.38v3.36h-3.38zM102.44 392.70h3.38v3.36h-3.38zM102.44 396.62h3.38v3.36h-3.38zM102.44 400.54h3.38v3.36h-3.38zM102.44 404.46h3.38v3.36h-3.38zM102.44 408.38h3.38v3.36h-3.38zM102.44 412.30h3.38v3.36h-3.38zM102.44 416.22h3.38v3.36h-3.38zM102.44 424.06h3.38v3.36h-3.38zM102.44 427.98h3.38v3.36h-3.38zM102.44 431.90h3.38v3.36h-3.38zM102.44 435.82h3.38v3.36h-3.38zM102.44 439.74h3.38v3.36h-3.38zM102.44 443.66h3.38v3.36h-3.38z"/>
<path fill="#2424f6" d="M114.26 251.58h3.38v3.36h-3.38zM118.20 251.58h3.38v3.36h-3.38zM114.26 255.50h3.38v3.36h-3.38zM122.14 255.50h3.38v3.36h-3.38zM114.26 263.34h3.38v3.36h-3.38zM122.14 267.26h3.38v3.36h-3.38zM130.02 267.26h3.38v3.36h-3.38zM126.08 271.18h3.38v3.36h-3.38zM130.02 271.18h3.38v3.36h-3.38zM118.20 275.10h3.38v3.36h-3.38zM126.08 275.10h3.38v3.36h-3.38zM130.02 275.10h3.38v3.36h-3.38zM114.26 290.78h3.38v3.36h-3.38zM130.02 290.78h3.38v3.36h-3.38zM114.26 314.30h3.38v3.36h-3.38zM130.02 318.22h3.38v3.36h-3.38zM126.08 322.14h3.38v3.36h-3.38zM122.14 326.06h3.38v3.36h-3.38zM130.02 326.06h3.38v3.36h-3.38zM114.26 329.98h3.38v3.36h-3.38zM130.02 329.98h3.38v3.36h-3.38zM114.26 341.74h3.38v3.36h-3.38zM126.08 341.74h3.38v3.36h-3.38zM126.08 353.50h3.38v3.36h-3.38zM122.14 357.42h3.38v3.36h-3.38zM130.02 357.42h3.38v3.36h-3.38zM114.26 361.34h3.38v3.36h-3.38zM130.02 361.34h3.38v3.36h-3.38zM114.26 380.94h3.38v3.36h-3.38zM122.14 380.94h3.38v3.36h-3.38zM114.26 384.86h3.38v3.36h-3.38zM114.26 392.70h3.38v3.36h-3.38zM126.08 396.62h3.38v3.36h-3.38zM126.08 404.46h3.38v3.36h-3.38zM130.02 404.46h3.38v3.36h-3.38zM122.14 416.22h3.38v3.36h-3.38zM126.08 435.82h3.38v3.36h-3.38zM130.02 439.74h3.38v3.36h-3.38zM114.26 443.66h3.38v3.36h-3.38zM118.20 443.66h3.38v3.36h-3.38zM126.08 443.66h3.38v3.36h-3.38z"/>
<path fill="#3434f6" d="M122.14 251.58h3.38v3.36h-3.38zM126.08 251.58h3.38v3.36h-3.38zM114.26 259.42h3.38v3.36h-3.38zM122.14 259.42h3.38v3.36h-3.38zM126.08 259.42h3.38v3.36h-3.38zM130.02 263.34h3.38v3.36h-3.38zM114.26 267.26h3.38v3.36h-3.38zM114.26 271.18h3.38v3.36h-3.38zM118.20 271.18h3.38v3.36h-3.38zM114.26 275.10h3.38v3.36h-3.38zM118.20 279.02h3.38v3.36h-3.38zM122.14 279.02h3.38v3.36h-3.38zM126.08 279.02h3.38v3.36h-3.38zM130.02 282.94h3.38v3.36h-3.38zM126.08 286.86h3.38v3.36h-3.38zM118.20 294.70h3.38v3.36h-3.38zM126.08 294.70h3.38v3.36h-3.38zM114.26 298.62h3.38v3.36h-3.38zM122.14 298.62h3.38v3.36h-3.38zM114.26 306.46h3.38v3.36h-3.38zM126.08 306.46h3.38v3.36h-3.38zM118.20 310.38h3.38v3.36h-3.38zM126.08 310.38h3.38v3.36h-3.38zM126.08 318.22h3.38v3.36h-3.38zM114.26 322.14h3.38v3.36h-3.38zM114.26 326.06h3.38v3.36h-3.38zM118.20 333.90h3.38v3.36h-3.38zM118.20 341.74h3.38v3.36h-3.38zM114.26 345.66h3.38v3.36h-3.38zM122.14 345.66h3.38v3.36h-3.38zM126.08 345.66h3.38v3.36h-3.38zM118.20 353.50h3.38v3.36h-3.38zM118.20 357.42h3.38v3.36h-3.38zM126.08 357.42h3.38v3.36h-3.38zM126.08 373.10h3.38v3.36h-3.38zM114.26 377.02h3.38v3.36h-3.38zM126.08 377.02h3.38v3.36h-3.38zM130.02 380.94h3.38v3.36h-3.38zM130.02 384.86h3.38v3.36h-3.38zM114.26 388.78h3.38v3.36h-3.38zM130.02 388.78h3.38v3.36h-3.38zM122.14 392.70h3.38v3.36h-3.38zM130.02 392.70h3.38v3.36h-3.38zM122.14 412.30h3.38v3.36h-3.38zM118.20 416.22h3.38v3.36h-3.38zM118.20 420.14h3.38v3.36h-3.38zM114.26 424.06h3.38v3.36h-3.38zM130.02 424.06h3.38v3.36h-3.38zM118.20 431.90h3.38v3.36h-3.38zM126.08 431.90h3.38v3.36h-3.38zM118.20 435.82h3.38v3.36h-3.38zM118.20 439.74h3.38v3.36h-3.38z"/>
<path fill="#1a1af4" d="M130.02 251.58h3.38v3.36h-3.38zM130.02 255.50h3.38v3.36h-3.38zM118.20 263.34h3.38v3.36h-3.38zM122.14 263.34h3.38v3.36h-3.38zM114.26 279.02h3.38v3.36h-3.38zM114.26 286.86h3.38v3.36h-3.38zM126.08 290.78h3.38v3.36h-3.38zM114.26 302.54h3.38v3.36h-3.38zM122.14 302.54h3.38v3.36h-3.38zM118.20 306.46h3.38v3.36h-3.38zM130.02 306.46h3.38v3.36h-3.38zM114.26 310.38h3.38v3.36h-3.38zM118.20 314.30h3.38v3.36h-3.38zM126.08 314.30h3.38v3.36h-3.38zM114.26 318.22h3.38v3.36h-3.38zM118.20 318.22h3.38v3.36h-3.38zM118.20 322.14h3.38v3.36h-3.38zM126.08 326.06h3.38v3.36h-3.38zM126.08 329.98h3.38v3.36h-3.38zM114.26 333.90h3.38v3.36h-3.38zM126.08 333.90h3.38v3.36h-3.38zM114.26 337.82h3.38v3.36h-3.38zM126.08 337.82h3.38v3.36h-3.38zM130.02 341.74h3.38v3.36h-3.38zM126.08 361.34h3.38v3.36h-3.38zM114.26 365.26h3.38v3.36h-3.38zM122.14 365.26h3.38v3.36h-3.38zM130.02 365.26h3.38v3.36h-3.38zM114.26 369.18h3.38v3.36h-3.38zM122.14 369.18h3.38v3.36h-3.38zM118.20 373.10h3.38v3.36h-3.38zM118.20 377.02h3.38v3.36h-3.38zM118.20 396.62h3.38v3.36h-3.38zM118.20 400.54h3.38v3.36h-3.38zM118.20 404.46h3.38v3.36h-3.38zM122.14 404.46h3.38v3.36h-3.38zM122.14 408.38h3.38v3.36h-3.38zM130.02 412.30h3.38v3.36h-3.38zM114.26 416.22h3.38v3.36h-3.38zM130.02 416.22h3.38v3.36h-3.38zM122.14 424.06h3.38v3.36h-3.38zM126.08 424.06h3.38v3.36h-3.38zM114.26 427.98h3.38v3.36h-3.38zM130.02 435.82h3.38v3.36h-3.38zM114.26 439.74h3.38v3.36h-3.38zM126.08 439.74h3.38v3.36h-3.38zM130.02 443.66h3.38v3.36h-3.38z"/>
<path fill="#2c2cf6" d="M74.86 255.50h3.38v3.36h-3.38zM82.74 255.50h3.38v3.36h-3.38zM78.80 259.42h3.38v3.36h-3.38zM70.92 286.86h3.38v3.36h-3.38zM78.80 286.86h3.38v3.36h-3.38zM78.80 302.54h3.38v3.36h-3.38zM90.62 302.54h3.38v3.36h-3.38zM90.62 306.46h3.38v3.36h-3.38zM70.92 322.14h3.38v3.36h-3.38zM78.80 326.06h3.38v3.36h-3.38zM110.32 326.06h3.38v3.36h-3.38zM78.80 341.74h3.38v3.36h-3.38zM74.86 345.66h3.38v3.36h-3.38zM86.68 349.58h3.38v3.36h-3.38zM106.38 349.58h3.38v3.36h-3.38zM82.74 361.34h3.38v3.36h-3.38zM78.80 377.02h3.38v3.36h-3.38zM82.74 380.94h3.38v3.36h-3.38zM70.92 384.86h3.38v3.36h-3.38zM94.56 392.70h3.38v3.36h-3.38zM98.50 396.62h3.38v3.36h-3.38zM110.32 396.62h3.38v3.36h-3.38zM110.32 400.54h3.38v3.36h-3.38zM98.50 408.38h3.38v3.36h-3.38zM70.92 416.22h3.38v3.36h-3.38zM90.62 416.22h3.38v3.36h-3.38zM90.62 424.06h3.38v3.36h-3.38zM78.80 427.98h3.38v3.36h-3.38zM78.80 443.66h3.38v3.36h-3.38z"/>
<path fill="#5a5af6" d="M74.86 259.42h3.38v3.36h-3.38zM98.50 259.42h3.38v3.36h-3.38zM78.80 263.34h3.38v3.36h-3.38zM78.80 267.26h3.38v3.36h-3.38zM94.56 267.26h3.38v3.36h-3.38zM78.80 282.94h3.38v3.36h-3.38zM86.68 314.30h3.38v3.36h-3.38zM74.86 318.22h3.38v3.36h-3.38zM70.92 326.06h3.38v3.36h-3.38zM82.74 326.06h3.38v3.36h-3.38zM70.92 333.90h3.38v3.36h-3.38zM78.80 333.90h3.38v3.36h-3.38zM74.86 380.94h3.38v3.36h-3.38zM78.80 388.78h3.38v3.36h-3.38zM94.56 388.78h3.38v3.36h-3.38zM78.80 400.54h3.38v3.36h-3.38zM74.86 404.46h3.38v3.36h-3.38zM78.80 420.14h3.38v3.36h-3.38zM74.86 424.06h3.38v3.36h-3.38zM86.68 427.98h3.38v3.36h-3.38zM78.80 431.90h3.38v3.36h-3.38zM82.74 435.82h3.38v3.36h-3.38z"/>
<path fill="#3c3cf6" d="M90.62 263.34h3.38v3.36h-3.38zM74.86 271.18h3.38v3.36h-3.38zM82.74 271.18h3.38v3.36h-3.38zM90.62 271.18h3.38v3.36h-3.38zM98.50 271.18h3.38v3.36h-3.38zM94.56 279.02h3.38v3.36h-3.38zM98.50 318.22h3.38v3.36h-3.38zM94.56 322.14h3.38v3.36h-3.38zM90.62 341.74h3.38v3.36h-3.38zM110.32 345.66h3.38v3.36h-3.38zM78.80 349.58h3.38v3.36h-3.38zM90.62 349.58h3.38v3.36h-3.38zM70.92 369.18h3.38v3.36h-3.38zM82.74 388.78h3.38v3.36h-3.38zM74.86 392.70h3.38v3.36h-3.38zM70.92 396.62h3.38v3.36h-3.38zM78.80 396.62h3.38v3.36h-3.38zM70.92 400.54h3.38v3.36h-3.38zM90.62 404.46h3.38v3.36h-3.38zM78.80 408.38h3.38v3.36h-3.38zM110.32 408.38h3.38v3.36h-3.38zM110.32 412.30h3.38v3.36h-3.38zM74.86 416.22h3.38v3.36h-3.38zM70.92 424.06h3.38v3.36h-3.38zM82.74 427.98h3.38v3.36h-3.38zM110.32 427.98h3.38v3.36h-3.38zM86.68 435.82h3.38v3.36h-3.38zM110.32 435.82h3.38v3.36h-3.38zM74.86 443.66h3.38v3.36h-3.38zM106.38 443.66h3.38v3.36h-3.38z"/>
<rect x="7.00" y="32.6" width="0.8" height="414.7" fill="#8fa5a0"/>
<path d="M134.2 55.30H168.3M134.2 59.22H168.3M134.2 63.14H168.3M134.2 67.06H168.3M134.2 70.98H168.3M134.2 74.90H168.3M134.2 78.82H168.3M134.2 82.74H168.3M134.2 86.66H168.3M134.2 90.58H168.3M134.2 94.50H168.3M134.2 98.42H168.3M134.2 102.34H168.3M134.2 106.26H168.3M134.2 110.18H168.3M134.2 114.10H168.3M134.2 118.02H168.3M134.2 121.94H168.3M134.2 125.86H168.3M134.2 129.78H168.3M134.2 133.70H168.3M134.2 137.62H168.3M134.2 141.54H168.3M134.2 145.46H168.3M134.2 149.38H168.3M134.2 153.30H168.3M134.2 157.22H168.3M134.2 161.14H168.3M134.2 165.06H168.3M134.2 168.98H168.3M134.2 172.90H168.3M134.2 176.82H168.3M134.2 180.74H168.3M134.2 184.66H168.3M134.2 188.58H168.3M134.2 192.50H168.3M134.2 196.42H168.3M134.2 200.34H168.3M134.2 204.26H168.3M134.2 208.18H168.3M134.2 212.10H168.3M134.2 216.02H168.3M134.2 219.94H168.3M134.2 223.86H168.3M134.2 227.78H168.3M134.2 231.70H168.3M134.2 235.62H168.3M134.2 239.54H168.3M134.2 243.46H168.3M134.2 247.38H168.3M134.2 251.30H168.3M134.2 255.22H168.3M134.2 259.14H168.3M134.2 263.06H168.3M134.2 266.98H168.3M134.2 270.90H168.3M134.2 274.82H168.3M134.2 278.74H168.3M134.2 282.66H168.3M134.2 286.58H168.3M134.2 290.50H168.3M134.2 294.42H168.3M134.2 298.34H168.3M134.2 302.26H168.3M134.2 306.18H168.3M134.2 310.10H168.3M134.2 314.02H168.3M134.2 317.94H168.3M134.2 321.86H168.3M134.2 325.78H168.3M134.2 329.70H168.3M134.2 333.62H168.3M134.2 337.54H168.3M134.2 341.46H168.3M134.2 345.38H168.3M134.2 349.30H168.3M134.2 353.22H168.3M134.2 357.14H168.3M134.2 361.06H168.3M134.2 364.98H168.3M134.2 368.90H168.3M134.2 372.82H168.3M134.2 376.74H168.3M134.2 380.66H168.3M134.2 384.58H168.3M134.2 388.50H168.3M134.2 392.42H168.3M134.2 396.34H168.3M134.2 400.26H168.3M134.2 404.18H168.3M134.2 408.10H168.3M134.2 412.02H168.3M134.2 415.94H168.3M134.2 419.86H168.3M134.2 423.78H168.3M134.2 427.70H168.3M134.2 431.62H168.3M134.2 435.54H168.3M134.2 439.46H168.3M134.2 443.38H168.3M134.2 447.30H168.3" stroke="#8e9a98" stroke-width="0.95" fill="none"/>
<text x="136.4" y="58.62" font-size="2.9" fill="#262c2a" letter-spacing="0.4" stroke="#262c2a" stroke-width="0.08">PIK3IP1</text>
<text x="136.4" y="62.54" font-size="2.9" fill="#262c2a" letter-spacing="0.4" stroke="#262c2a" stroke-width="0.08">CCL4</text>
<text x="136.4" y="66.46" font-size="2.9" fill="#262c2a" letter-spacing="0.4" stroke="#262c2a" stroke-width="0.08">LINC00926</text>
<text x="136.4" y="70.38" font-size="2.9" fill="#262c2a" letter-spacing="0.4" stroke="#262c2a" stroke-width="0.08">NR4A3</text>
<text x="136.4" y="74.30" font-size="2.9" fill="#262c2a" letter-spacing="0.4" stroke="#262c2a" stroke-width="0.08">TNFRSF13B</text>
<text x="136.4" y="78.22" font-size="2.9" fill="#262c2a" letter-spacing="0.4" stroke="#262c2a" stroke-width="0.08">SLC7A5</text>
<text x="136.4" y="82.14" font-size="2.9" fill="#262c2a" letter-spacing="0.4" stroke="#262c2a" stroke-width="0.08">MIR155HG</text>
<text x="136.4" y="86.06" font-size="2.9" fill="#262c2a" letter-spacing="0.4" stroke="#262c2a" stroke-width="0.08">IRF4</text>
<text x="136.4" y="89.98" font-size="2.9" fill="#262c2a" letter-spacing="0.4" stroke="#262c2a" stroke-width="0.08">TNFRSF13B</text>
<text x="136.4" y="93.90" font-size="2.9" fill="#262c2a" letter-spacing="0.4" stroke="#262c2a" stroke-width="0.08">MYC</text>
<text x="136.4" y="97.82" font-size="2.9" fill="#262c2a" letter-spacing="0.4" stroke="#262c2a" stroke-width="0.08">KLF2</text>
<text x="136.4" y="101.74" font-size="2.9" fill="#262c2a" letter-spacing="0.4" stroke="#262c2a" stroke-width="0.08">SGK1</text>
<text x="136.4" y="105.66" font-size="2.9" fill="#262c2a" letter-spacing="0.4" stroke="#262c2a" stroke-width="0.08">KLF2</text>
<text x="136.4" y="109.58" font-size="2.9" fill="#262c2a" letter-spacing="0.4" stroke="#262c2a" stroke-width="0.08">EGR3</text>
<text x="136.4" y="113.50" font-size="2.9" fill="#262c2a" letter-spacing="0.4" stroke="#262c2a" stroke-width="0.08">PLK2</text>
<text x="136.4" y="117.42" font-size="2.9" fill="#262c2a" letter-spacing="0.4" stroke="#262c2a" stroke-width="0.08">PPP1R15A</text>
<text x="136.4" y="121.34" font-size="2.9" fill="#262c2a" letter-spacing="0.4" stroke="#262c2a" stroke-width="0.08">TNFAIP3</text>
<text x="136.4" y="125.26" font-size="2.9" fill="#262c2a" letter-spacing="0.4" stroke="#262c2a" stroke-width="0.08">CXCR4</text>
<text x="136.4" y="129.18" font-size="2.9" fill="#262c2a" letter-spacing="0.4" stroke="#262c2a" stroke-width="0.08">EGR3</text>
<text x="136.4" y="133.10" font-size="2.9" fill="#262c2a" letter-spacing="0.4" stroke="#262c2a" stroke-width="0.08">NFKBIA</text>
<text x="136.4" y="137.02" font-size="2.9" fill="#262c2a" letter-spacing="0.4" stroke="#262c2a" stroke-width="0.08">HES1</text>
<text x="136.4" y="140.94" font-size="2.9" fill="#262c2a" letter-spacing="0.4" stroke="#262c2a" stroke-width="0.08">IRF4</text>
<text x="136.4" y="144.86" font-size="2.9" fill="#262c2a" letter-spacing="0.4" stroke="#262c2a" stroke-width="0.08">PPP1R15A</text>
<text x="136.4" y="148.78" font-size="2.9" fill="#262c2a" letter-spacing="0.4" stroke="#262c2a" stroke-width="0.08">SLC7A5</text>
<text x="136.4" y="152.70" font-size="2.9" fill="#262c2a" letter-spacing="0.4" stroke="#262c2a" stroke-width="0.08">HES1</text>
<text x="136.4" y="156.62" font-size="2.9" fill="#262c2a" letter-spacing="0.4" stroke="#262c2a" stroke-width="0.08">TXNIP</text>
<text x="136.4" y="160.54" font-size="2.9" fill="#262c2a" letter-spacing="0.4" stroke="#262c2a" stroke-width="0.08">DUSP4</text>
<text x="136.4" y="164.46" font-size="2.9" fill="#262c2a" letter-spacing="0.4" stroke="#262c2a" stroke-width="0.08">MYC</text>
<text x="136.4" y="168.38" font-size="2.9" fill="#262c2a" letter-spacing="0.4" stroke="#262c2a" stroke-width="0.08">CCL4</text>
<text x="136.4" y="172.30" font-size="2.9" fill="#262c2a" letter-spacing="0.4" stroke="#262c2a" stroke-width="0.08">CCND2</text>
<text x="136.4" y="176.22" font-size="2.9" fill="#262c2a" letter-spacing="0.4" stroke="#262c2a" stroke-width="0.08">SLC7A5</text>
<text x="136.4" y="180.14" font-size="2.9" fill="#262c2a" letter-spacing="0.4" stroke="#262c2a" stroke-width="0.08">SESN1</text>
<text x="136.4" y="184.06" font-size="2.9" fill="#262c2a" letter-spacing="0.4" stroke="#262c2a" stroke-width="0.08">SGK1</text>
<text x="136.4" y="187.98" font-size="2.9" fill="#262c2a" letter-spacing="0.4" stroke="#262c2a" stroke-width="0.08">TNFAIP3</text>
<text x="136.4" y="191.90" font-size="2.9" fill="#262c2a" letter-spacing="0.4" stroke="#262c2a" stroke-width="0.08">SOCS3</text>
<text x="136.4" y="195.82" font-size="2.9" fill="#262c2a" letter-spacing="0.4" stroke="#262c2a" stroke-width="0.08">KLF10</text>
<text x="136.4" y="199.74" font-size="2.9" fill="#262c2a" letter-spacing="0.4" stroke="#262c2a" stroke-width="0.08">TNFRSF13B</text>
<text x="136.4" y="203.66" font-size="2.9" fill="#262c2a" letter-spacing="0.4" stroke="#262c2a" stroke-width="0.08">SESN1</text>
<text x="136.4" y="207.58" font-size="2.9" fill="#262c2a" letter-spacing="0.4" stroke="#262c2a" stroke-width="0.08">GADD45B</text>
<text x="136.4" y="211.50" font-size="2.9" fill="#262c2a" letter-spacing="0.4" stroke="#262c2a" stroke-width="0.08">RGS16</text>
<text x="136.4" y="215.42" font-size="2.9" fill="#262c2a" letter-spacing="0.4" stroke="#262c2a" stroke-width="0.08">KLF10</text>
<text x="136.4" y="219.34" font-size="2.9" fill="#262c2a" letter-spacing="0.4" stroke="#262c2a" stroke-width="0.08">HES1</text>
<text x="136.4" y="223.26" font-size="2.9" fill="#262c2a" letter-spacing="0.4" stroke="#262c2a" stroke-width="0.08">CCND2</text>
<text x="136.4" y="227.18" font-size="2.9" fill="#262c2a" letter-spacing="0.4" stroke="#262c2a" stroke-width="0.08">IER2</text>
<text x="136.4" y="231.10" font-size="2.9" fill="#262c2a" letter-spacing="0.4" stroke="#262c2a" stroke-width="0.08">EGR3</text>
<text x="136.4" y="235.02" font-size="2.9" fill="#262c2a" letter-spacing="0.4" stroke="#262c2a" stroke-width="0.08">FOSL2</text>
<text x="136.4" y="238.94" font-size="2.9" fill="#262c2a" letter-spacing="0.4" stroke="#262c2a" stroke-width="0.08">SOCS3</text>
<text x="136.4" y="242.86" font-size="2.9" fill="#262c2a" letter-spacing="0.4" stroke="#262c2a" stroke-width="0.08">CCND2</text>
<text x="136.4" y="246.78" font-size="2.9" fill="#262c2a" letter-spacing="0.4" stroke="#262c2a" stroke-width="0.08">HES1</text>
<text x="136.4" y="250.70" font-size="2.9" fill="#262c2a" letter-spacing="0.4" stroke="#262c2a" stroke-width="0.08">CCL3</text>
<text x="136.4" y="254.62" font-size="2.9" fill="#262c2a" letter-spacing="0.4" stroke="#262c2a" stroke-width="0.08">DUSP4</text>
<text x="136.4" y="258.54" font-size="2.9" fill="#262c2a" letter-spacing="0.4" stroke="#262c2a" stroke-width="0.08">TXNIP</text>
<text x="136.4" y="262.46" font-size="2.9" fill="#262c2a" letter-spacing="0.4" stroke="#262c2a" stroke-width="0.08">PPP1R15A</text>
<text x="136.4" y="266.38" font-size="2.9" fill="#262c2a" letter-spacing="0.4" stroke="#262c2a" stroke-width="0.08">BTG1</text>
<text x="136.4" y="270.30" font-size="2.9" fill="#262c2a" letter-spacing="0.4" stroke="#262c2a" stroke-width="0.08">BHLHE40</text>
<text x="136.4" y="274.22" font-size="2.9" fill="#262c2a" letter-spacing="0.4" stroke="#262c2a" stroke-width="0.08">FOXP1</text>
<text x="136.4" y="278.14" font-size="2.9" fill="#262c2a" letter-spacing="0.4" stroke="#262c2a" stroke-width="0.08">ZFP36</text>
<text x="136.4" y="282.06" font-size="2.9" fill="#262c2a" letter-spacing="0.4" stroke="#262c2a" stroke-width="0.08">SGK1</text>
<text x="136.4" y="285.98" font-size="2.9" fill="#262c2a" letter-spacing="0.4" stroke="#262c2a" stroke-width="0.08">BTG1</text>
<text x="136.4" y="289.90" font-size="2.9" fill="#262c2a" letter-spacing="0.4" stroke="#262c2a" stroke-width="0.08">TNFAIP3</text>
<text x="136.4" y="293.82" font-size="2.9" fill="#262c2a" letter-spacing="0.4" stroke="#262c2a" stroke-width="0.08">IRF4</text>
<text x="136.4" y="297.74" font-size="2.9" fill="#262c2a" letter-spacing="0.4" stroke="#262c2a" stroke-width="0.08">PPP1R15A</text>
<text x="136.4" y="301.66" font-size="2.9" fill="#262c2a" letter-spacing="0.4" stroke="#262c2a" stroke-width="0.08">TNFRSF13B</text>
<text x="136.4" y="305.58" font-size="2.9" fill="#262c2a" letter-spacing="0.4" stroke="#262c2a" stroke-width="0.08">RGS16</text>
<text x="136.4" y="309.50" font-size="2.9" fill="#262c2a" letter-spacing="0.4" stroke="#262c2a" stroke-width="0.08">PLK2</text>
<text x="136.4" y="313.42" font-size="2.9" fill="#262c2a" letter-spacing="0.4" stroke="#262c2a" stroke-width="0.08">GADD45B</text>
<text x="136.4" y="317.34" font-size="2.9" fill="#262c2a" letter-spacing="0.4" stroke="#262c2a" stroke-width="0.08">CCL4</text>
<text x="136.4" y="321.26" font-size="2.9" fill="#262c2a" letter-spacing="0.4" stroke="#262c2a" stroke-width="0.08">TXNIP</text>
<text x="136.4" y="325.18" font-size="2.9" fill="#262c2a" letter-spacing="0.4" stroke="#262c2a" stroke-width="0.08">NFKBIA</text>
<text x="136.4" y="329.10" font-size="2.9" fill="#262c2a" letter-spacing="0.4" stroke="#262c2a" stroke-width="0.08">PLK2</text>
<text x="136.4" y="333.02" font-size="2.9" fill="#262c2a" letter-spacing="0.4" stroke="#262c2a" stroke-width="0.08">RGS16</text>
<text x="136.4" y="336.94" font-size="2.9" fill="#262c2a" letter-spacing="0.4" stroke="#262c2a" stroke-width="0.08">FOXP1</text>
<text x="136.4" y="340.86" font-size="2.9" fill="#262c2a" letter-spacing="0.4" stroke="#262c2a" stroke-width="0.08">BCL2L11</text>
<text x="136.4" y="344.78" font-size="2.9" fill="#262c2a" letter-spacing="0.4" stroke="#262c2a" stroke-width="0.08">DUSP4</text>
<text x="136.4" y="348.70" font-size="2.9" fill="#262c2a" letter-spacing="0.4" stroke="#262c2a" stroke-width="0.08">CXCR4</text>
<text x="136.4" y="352.62" font-size="2.9" fill="#262c2a" letter-spacing="0.4" stroke="#262c2a" stroke-width="0.08">HES1</text>
<text x="136.4" y="356.54" font-size="2.9" fill="#262c2a" letter-spacing="0.4" stroke="#262c2a" stroke-width="0.08">PPP1R15A</text>
<text x="136.4" y="360.46" font-size="2.9" fill="#262c2a" letter-spacing="0.4" stroke="#262c2a" stroke-width="0.08">TNFAIP3</text>
<text x="136.4" y="364.38" font-size="2.9" fill="#262c2a" letter-spacing="0.4" stroke="#262c2a" stroke-width="0.08">CCL4</text>
<text x="136.4" y="368.30" font-size="2.9" fill="#262c2a" letter-spacing="0.4" stroke="#262c2a" stroke-width="0.08">PIK3IP1</text>
<text x="136.4" y="372.22" font-size="2.9" fill="#262c2a" letter-spacing="0.4" stroke="#262c2a" stroke-width="0.08">GADD45B</text>
<text x="136.4" y="376.14" font-size="2.9" fill="#262c2a" letter-spacing="0.4" stroke="#262c2a" stroke-width="0.08">CCL4</text>
<text x="136.4" y="380.06" font-size="2.9" fill="#262c2a" letter-spacing="0.4" stroke="#262c2a" stroke-width="0.08">FOXP1</text>
<text x="136.4" y="383.98" font-size="2.9" fill="#262c2a" letter-spacing="0.4" stroke="#262c2a" stroke-width="0.08">NR4A3</text>
<text x="136.4" y="387.90" font-size="2.9" fill="#262c2a" letter-spacing="0.4" stroke="#262c2a" stroke-width="0.08">HES1</text>
<text x="136.4" y="391.82" font-size="2.9" fill="#262c2a" letter-spacing="0.4" stroke="#262c2a" stroke-width="0.08">IRF4</text>
<text x="136.4" y="395.74" font-size="2.9" fill="#262c2a" letter-spacing="0.4" stroke="#262c2a" stroke-width="0.08">LINC00926</text>
<text x="136.4" y="399.66" font-size="2.9" fill="#262c2a" letter-spacing="0.4" stroke="#262c2a" stroke-width="0.08">CD79B</text>
<text x="136.4" y="403.58" font-size="2.9" fill="#262c2a" letter-spacing="0.4" stroke="#262c2a" stroke-width="0.08">CXCR4</text>
<text x="136.4" y="407.50" font-size="2.9" fill="#262c2a" letter-spacing="0.4" stroke="#262c2a" stroke-width="0.08">IER2</text>
<text x="136.4" y="411.42" font-size="2.9" fill="#262c2a" letter-spacing="0.4" stroke="#262c2a" stroke-width="0.08">DUSP4</text>
<text x="136.4" y="415.34" font-size="2.9" fill="#262c2a" letter-spacing="0.4" stroke="#262c2a" stroke-width="0.08">PIK3IP1</text>
<text x="136.4" y="419.26" font-size="2.9" fill="#262c2a" letter-spacing="0.4" stroke="#262c2a" stroke-width="0.08">CD79B</text>
<text x="136.4" y="423.18" font-size="2.9" fill="#262c2a" letter-spacing="0.4" stroke="#262c2a" stroke-width="0.08">CXCR4</text>
<text x="136.4" y="427.10" font-size="2.9" fill="#262c2a" letter-spacing="0.4" stroke="#262c2a" stroke-width="0.08">LINC00926</text>
<text x="136.4" y="431.02" font-size="2.9" fill="#262c2a" letter-spacing="0.4" stroke="#262c2a" stroke-width="0.08">MIR155HG</text>
<text x="136.4" y="434.94" font-size="2.9" fill="#262c2a" letter-spacing="0.4" stroke="#262c2a" stroke-width="0.08">DUSP4</text>
<text x="136.4" y="438.86" font-size="2.9" fill="#262c2a" letter-spacing="0.4" stroke="#262c2a" stroke-width="0.08">FOXP1</text>
<text x="136.4" y="442.78" font-size="2.9" fill="#262c2a" letter-spacing="0.4" stroke="#262c2a" stroke-width="0.08">LINC00926</text>
<text x="136.4" y="446.70" font-size="2.9" fill="#262c2a" letter-spacing="0.4" stroke="#262c2a" stroke-width="0.08">KLF2</text>
<text x="152" y="34.7" font-size="7.5" fill="#2a2a2a">Color key</text>
<rect x="138.00" y="38.2" width="7.21" height="6.1" fill="#0000a8"/>
<rect x="145.11" y="38.2" width="7.21" height="6.1" fill="#2424c4"/>
<rect x="152.22" y="38.2" width="7.21" height="6.1" fill="#5656d0"/>
<rect x="159.33" y="38.2" width="7.21" height="6.1" fill="#8a8cd6"/>
<rect x="166.44" y="38.2" width="7.21" height="6.1" fill="#c6cccc"/>
<rect x="173.56" y="38.2" width="7.21" height="6.1" fill="#d69a9a"/>
<rect x="180.67" y="38.2" width="7.21" height="6.1" fill="#de6464"/>
<rect x="187.78" y="38.2" width="7.21" height="6.1" fill="#e63232"/>
<rect x="194.89" y="38.2" width="7.21" height="6.1" fill="#fa0a0a"/>
<text x="140.6" y="50.8" font-size="7.2" fill="#2a2a2a">0.5</text>
<text x="168.8" y="50.8" font-size="7.2" fill="#2a2a2a">1</text>
<text x="197.2" y="50.8" font-size="7.2" fill="#2a2a2a">2</text>
<text x="218.5" y="13.6" font-size="11" font-weight="bold" fill="#000" stroke="#000" stroke-width="0.4">B</text>
<text x="345.4" y="18.1" font-size="9" fill="#222" textLength="72.5" lengthAdjust="spacingAndGlyphs">Human CLL Cells</text>
<rect x="345.4" y="18.8" width="72.5" height="0.8" fill="#333"/>
<rect x="457.1" y="12.4" width="12" height="5.6" fill="#c9d8df" stroke="#222" stroke-width="1"/>
<rect x="457.1" y="22.4" width="12" height="5.6" fill="#cc0011" stroke="#222" stroke-width="1"/>
<text x="472" y="17.8" font-size="7.4" fill="#333" textLength="43.6" lengthAdjust="spacingAndGlyphs">Unstimulated</text>
<text x="472" y="27.8" font-size="7.4" fill="#333" textLength="40" lengthAdjust="spacingAndGlyphs">+ Imm-algM</text>
<path d="M261.8 19.2V117.0M261.2 116.4H496" stroke="#111" stroke-width="1.2" fill="none"/>
<text x="256.8" y="119.50" font-size="8.2" fill="#333" text-anchor="end">0</text>
<text x="256.8" y="100.14" font-size="8.2" fill="#333" text-anchor="end">2</text>
<text x="256.8" y="80.78" font-size="8.2" fill="#333" text-anchor="end">4</text>
<text x="256.8" y="61.42" font-size="8.2" fill="#333" text-anchor="end">6</text>
<text x="256.8" y="42.06" font-size="8.2" fill="#333" text-anchor="end">8</text>
<text x="256.8" y="22.70" font-size="8.2" fill="#333" text-anchor="end">10</text>
<path d="M258.6 116.40H261.8M258.6 97.04H261.8M258.6 77.68H261.8M258.6 58.32H261.8M258.6 38.96H261.8M258.6 19.60H261.8" stroke="#111" stroke-width="1" fill="none"/>
<text transform="translate(243.6 103) rotate(-90)" font-size="8.4" fill="#333" textLength="70.5" lengthAdjust="spacingAndGlyphs">Fold change (n = 14)</text>
<rect x="281.00" y="106.72" width="5.8" height="9.68" fill="#c9d8df" stroke="#111" stroke-width="1"/>
<rect x="290.20" y="89.30" width="5.8" height="27.10" fill="#cc0011" stroke="#111" stroke-width="1"/>
<path d="M293.10 89.30V56.87M289.90 56.87H296.30" stroke="#111" stroke-width="1.1" fill="none"/>
<text x="293.10" y="55.47" font-size="9" font-weight="bold" fill="#111" text-anchor="middle">**</text>
<text transform="translate(292.10 122.2) rotate(-45)" font-size="8" fill="#222" text-anchor="end">MYC</text>
<rect x="310.75" y="106.72" width="5.8" height="9.68" fill="#c9d8df" stroke="#111" stroke-width="1"/>
<rect x="319.95" y="101.88" width="5.8" height="14.52" fill="#cc0011" stroke="#111" stroke-width="1"/>
<path d="M322.85 101.88V93.17M319.65 93.17H326.05" stroke="#111" stroke-width="1.1" fill="none"/>
<text x="322.85" y="91.77" font-size="9" font-weight="bold" fill="#111" text-anchor="middle">*</text>
<text transform="translate(321.85 122.2) rotate(-45)" font-size="8" fill="#222" text-anchor="end">CDK4</text>
<rect x="340.50" y="106.72" width="5.8" height="9.68" fill="#c9d8df" stroke="#111" stroke-width="1"/>
<rect x="349.70" y="95.10" width="5.8" height="21.30" fill="#cc0011" stroke="#111" stroke-width="1"/>
<path d="M352.60 95.10V81.55M349.40 81.55H355.80" stroke="#111" stroke-width="1.1" fill="none"/>
<text x="352.60" y="80.15" font-size="9" font-weight="bold" fill="#111" text-anchor="middle">**</text>
<text transform="translate(351.60 122.2) rotate(-45)" font-size="8" fill="#222" text-anchor="end">CCND1</text>
<rect x="370.25" y="106.72" width="5.8" height="9.68" fill="#c9d8df" stroke="#111" stroke-width="1"/>
<rect x="379.45" y="86.39" width="5.8" height="30.01" fill="#cc0011" stroke="#111" stroke-width="1"/>
<path d="M382.35 86.39V39.25M379.15 39.25H385.55" stroke="#111" stroke-width="1.1" fill="none"/>
<text x="382.35" y="37.85" font-size="9" font-weight="bold" fill="#111" text-anchor="middle">***</text>
<text transform="translate(381.35 122.2) rotate(-45)" font-size="8" fill="#222" text-anchor="end">CCND2</text>
<rect x="400.00" y="106.72" width="5.8" height="9.68" fill="#c9d8df" stroke="#111" stroke-width="1"/>
<rect x="409.20" y="85.42" width="5.8" height="30.98" fill="#cc0011" stroke="#111" stroke-width="1"/>
<path d="M412.10 85.42V54.84M408.90 54.84H415.30" stroke="#111" stroke-width="1.1" fill="none"/>
<text x="412.10" y="53.44" font-size="9" font-weight="bold" fill="#111" text-anchor="middle">***</text>
<text transform="translate(411.10 122.2) rotate(-45)" font-size="8" fill="#222" text-anchor="end">CDKN1A</text>
<rect x="429.75" y="106.72" width="5.8" height="9.68" fill="#c9d8df" stroke="#111" stroke-width="1"/>
<rect x="438.95" y="105.75" width="5.8" height="10.65" fill="#cc0011" stroke="#111" stroke-width="1"/>
<path d="M441.85 105.75V95.10M438.65 95.10H445.05" stroke="#111" stroke-width="1.1" fill="none"/>
<text transform="translate(440.85 122.2) rotate(-45)" font-size="8" fill="#222" text-anchor="end">CDKN2A</text>
<rect x="459.50" y="106.72" width="5.8" height="9.68" fill="#c9d8df" stroke="#111" stroke-width="1"/>
<rect x="468.70" y="99.46" width="5.8" height="16.94" fill="#cc0011" stroke="#111" stroke-width="1"/>
<path d="M471.60 99.46V88.33M468.40 88.33H474.80" stroke="#111" stroke-width="1.1" fill="none"/>
<text x="471.60" y="86.93" font-size="9" font-weight="bold" fill="#111" text-anchor="middle">*</text>
<text transform="translate(470.60 122.2) rotate(-45)" font-size="8" fill="#222" text-anchor="end">CDKN2B</text>
<text x="218.3" y="174.2" font-size="11" font-weight="bold" fill="#000" stroke="#000" stroke-width="0.4">C</text>
<text x="319" y="175.9" font-size="9.2" fill="#222">CLL-1</text>
<text x="417.5" y="175.9" font-size="9.2" fill="#222">CLL-2</text>
<path d="M286.4 178.3H375.5M384.5 178.3H474.5" stroke="#222" stroke-width="0.9"/>
<text x="289.3" y="187.4" font-size="9.2" fill="#222" textLength="36.7" lengthAdjust="spacingAndGlyphs">14 hours</text>
<text x="337" y="187.4" font-size="9.2" fill="#222" textLength="36.0" lengthAdjust="spacingAndGlyphs">36 hours</text>
<text x="388" y="187.4" font-size="9.2" fill="#222" textLength="35.7" lengthAdjust="spacingAndGlyphs">14 hours</text>
<text x="435" y="187.4" font-size="9.2" fill="#222" textLength="36.8" lengthAdjust="spacingAndGlyphs">36 hours</text>
<path d="M286.4 188.9H328.3M333.2 188.9H375.5M384.5 188.9H425.5M431.5 188.9H474.5" stroke="#222" stroke-width="0.9"/>
<text x="235.4" y="197.5" font-size="9.2" fill="#222" textLength="45.3" lengthAdjust="spacingAndGlyphs">imm-algM:</text>
<text x="294.34" y="197.6" font-size="9.6" fill="#333" text-anchor="middle">–</text>
<text x="315.54" y="198.0" font-size="10.4" fill="#333" text-anchor="middle">+</text>
<text x="340.49" y="197.6" font-size="9.6" fill="#333" text-anchor="middle">–</text>
<text x="361.79" y="198.0" font-size="10.4" fill="#333" text-anchor="middle">+</text>
<text x="391.09" y="197.6" font-size="9.6" fill="#333" text-anchor="middle">–</text>
<text x="411.80" y="198.0" font-size="10.4" fill="#333" text-anchor="middle">+</text>
<text x="436.29" y="197.6" font-size="9.6" fill="#333" text-anchor="middle">–</text>
<text x="457.00" y="198.0" font-size="10.4" fill="#333" text-anchor="middle">+</text>
<rect x="283.70" y="199.40" width="42.70" height="12.00" rx="1.2" fill="#dfe2e1" stroke="#3e4543" stroke-width="1.1"/>
<rect x="284.60" y="200.30" width="40.90" height="10.20" fill="none" stroke="#f4f6f5" stroke-width="0.7"/>
<rect x="305.39" y="203.00" width="19.85" height="3.80" rx="1.90" fill="#0c0c0c" opacity="0.16" filter="url(#bl2)"/>
<rect x="329.80" y="199.40" width="42.90" height="12.00" rx="1.2" fill="#dfe2e1" stroke="#3e4543" stroke-width="1.1"/>
<rect x="330.70" y="200.30" width="41.10" height="10.20" fill="none" stroke="#f4f6f5" stroke-width="0.7"/>
<rect x="331.62" y="203.75" width="18.18" height="3.30" rx="1.65" fill="#0c0c0c" opacity="0.14" filter="url(#bl2)"/>
<rect x="351.60" y="203.50" width="19.94" height="3.80" rx="1.90" fill="#0c0c0c" opacity="0.36" filter="url(#bl2)"/>
<rect x="380.70" y="199.40" width="41.70" height="12.00" rx="1.2" fill="#dfe2e1" stroke="#3e4543" stroke-width="1.1"/>
<rect x="381.60" y="200.30" width="39.90" height="10.20" fill="none" stroke="#f4f6f5" stroke-width="0.7"/>
<rect x="403.69" y="202.10" width="15.80" height="6.00" rx="3.00" fill="#0c0c0c" opacity="1.00" filter="url(#bl)"/>
<rect x="425.90" y="199.40" width="41.70" height="12.00" rx="1.2" fill="#dfe2e1" stroke="#3e4543" stroke-width="1.1"/>
<rect x="426.80" y="200.30" width="39.90" height="10.20" fill="none" stroke="#f4f6f5" stroke-width="0.7"/>
<rect x="447.07" y="202.90" width="19.43" height="4.00" rx="2.00" fill="#0c0c0c" opacity="0.38" filter="url(#bl2)"/>
<rect x="283.70" y="214.00" width="42.70" height="12.30" rx="1.2" fill="#dfe2e1" stroke="#3e4543" stroke-width="1.1"/>
<rect x="284.60" y="214.90" width="40.90" height="10.50" fill="none" stroke="#f4f6f5" stroke-width="0.7"/>
<rect x="285.07" y="218.95" width="18.98" height="2.40" rx="1.20" fill="#0c0c0c" opacity="0.20" filter="url(#bl2)"/>
<rect x="305.83" y="218.85" width="18.98" height="2.60" rx="1.30" fill="#0c0c0c" opacity="0.28" filter="url(#bl2)"/>
<rect x="329.80" y="214.00" width="42.90" height="12.30" rx="1.2" fill="#dfe2e1" stroke="#3e4543" stroke-width="1.1"/>
<rect x="330.70" y="214.90" width="41.10" height="10.50" fill="none" stroke="#f4f6f5" stroke-width="0.7"/>
<rect x="331.18" y="218.45" width="19.06" height="2.80" rx="1.40" fill="#0c0c0c" opacity="0.45" filter="url(#bl2)"/>
<rect x="352.04" y="218.75" width="19.06" height="2.80" rx="1.40" fill="#0c0c0c" opacity="0.45" filter="url(#bl2)"/>
<rect x="380.70" y="214.00" width="41.70" height="12.30" rx="1.2" fill="#dfe2e1" stroke="#3e4543" stroke-width="1.1"/>
<rect x="381.60" y="214.90" width="39.90" height="10.50" fill="none" stroke="#f4f6f5" stroke-width="0.7"/>
<rect x="382.44" y="218.95" width="17.73" height="2.40" rx="1.20" fill="#0c0c0c" opacity="0.10" filter="url(#bl2)"/>
<rect x="402.83" y="218.00" width="17.51" height="3.90" rx="1.95" fill="#0c0c0c" opacity="1.00" filter="url(#bl)"/>
<rect x="425.90" y="214.00" width="41.70" height="12.30" rx="1.2" fill="#dfe2e1" stroke="#3e4543" stroke-width="1.1"/>
<rect x="426.80" y="214.90" width="39.90" height="10.50" fill="none" stroke="#f4f6f5" stroke-width="0.7"/>
<rect x="427.64" y="218.95" width="17.73" height="2.40" rx="1.20" fill="#0c0c0c" opacity="0.06" filter="url(#bl2)"/>
<rect x="447.82" y="218.35" width="17.93" height="3.60" rx="1.80" fill="#0c0c0c" opacity="1.00" filter="url(#bl)"/>
<rect x="283.70" y="228.60" width="42.70" height="11.80" rx="1.2" fill="#dfe2e1" stroke="#3e4543" stroke-width="1.1"/>
<rect x="284.60" y="229.50" width="40.90" height="10.00" fill="none" stroke="#f4f6f5" stroke-width="0.7"/>
<rect x="285.82" y="233.10" width="17.48" height="1.60" rx="0.80" fill="#0c0c0c" opacity="0.60" filter="url(#bl)"/>
<rect x="306.58" y="232.80" width="17.48" height="2.80" rx="1.40" fill="#0c0c0c" opacity="1.00" filter="url(#bl)"/>
<rect x="329.80" y="228.60" width="42.90" height="11.80" rx="1.2" fill="#dfe2e1" stroke="#3e4543" stroke-width="1.1"/>
<rect x="330.70" y="229.50" width="41.10" height="10.00" fill="none" stroke="#f4f6f5" stroke-width="0.7"/>
<rect x="332.37" y="233.20" width="16.68" height="2.00" rx="1.00" fill="#0c0c0c" opacity="0.60" filter="url(#bl)"/>
<rect x="352.79" y="232.85" width="17.56" height="2.70" rx="1.35" fill="#0c0c0c" opacity="1.00" filter="url(#bl)"/>
<rect x="380.70" y="228.60" width="41.70" height="11.80" rx="1.2" fill="#dfe2e1" stroke="#3e4543" stroke-width="1.1"/>
<rect x="381.60" y="229.50" width="39.90" height="10.00" fill="none" stroke="#f4f6f5" stroke-width="0.7"/>
<rect x="382.44" y="233.35" width="17.73" height="2.30" rx="1.15" fill="#0c0c0c" opacity="0.14" filter="url(#bl2)"/>
<rect x="403.90" y="232.65" width="15.37" height="2.50" rx="1.25" fill="#0c0c0c" opacity="0.95" filter="url(#bl)"/>
<rect x="425.90" y="228.60" width="41.70" height="11.80" rx="1.2" fill="#dfe2e1" stroke="#3e4543" stroke-width="1.1"/>
<rect x="426.80" y="229.50" width="39.90" height="10.00" fill="none" stroke="#f4f6f5" stroke-width="0.7"/>
<rect x="427.64" y="233.35" width="17.73" height="2.30" rx="1.15" fill="#0c0c0c" opacity="0.16" filter="url(#bl2)"/>
<rect x="448.24" y="232.90" width="17.08" height="2.60" rx="1.30" fill="#0c0c0c" opacity="1.00" filter="url(#bl)"/>
<rect x="283.70" y="242.80" width="42.70" height="12.70" rx="1.2" fill="#dfe2e1" stroke="#3e4543" stroke-width="1.1"/>
<rect x="284.60" y="243.70" width="40.90" height="10.90" fill="none" stroke="#f4f6f5" stroke-width="0.7"/>
<rect x="284.95" y="247.85" width="19.23" height="3.80" rx="1.90" fill="#0c0c0c" opacity="1.00" filter="url(#bl)"/>
<rect x="306.14" y="247.75" width="18.35" height="4.00" rx="2.00" fill="#0c0c0c" opacity="1.00" filter="url(#bl)"/>
<rect x="329.80" y="242.80" width="42.90" height="12.70" rx="1.2" fill="#dfe2e1" stroke="#3e4543" stroke-width="1.1"/>
<rect x="330.70" y="243.70" width="41.10" height="10.90" fill="none" stroke="#f4f6f5" stroke-width="0.7"/>
<rect x="331.50" y="247.95" width="18.44" height="3.60" rx="1.80" fill="#0c0c0c" opacity="1.00" filter="url(#bl)"/>
<rect x="352.35" y="247.85" width="18.44" height="3.80" rx="1.90" fill="#0c0c0c" opacity="1.00" filter="url(#bl)"/>
<rect x="380.70" y="242.80" width="41.70" height="12.70" rx="1.2" fill="#dfe2e1" stroke="#3e4543" stroke-width="1.1"/>
<rect x="381.60" y="243.70" width="39.90" height="10.90" fill="none" stroke="#f4f6f5" stroke-width="0.7"/>
<rect x="382.33" y="247.85" width="17.93" height="3.80" rx="1.90" fill="#0c0c0c" opacity="1.00" filter="url(#bl)"/>
<rect x="402.62" y="247.80" width="17.93" height="3.90" rx="1.95" fill="#0c0c0c" opacity="1.00" filter="url(#bl)"/>
<rect x="425.90" y="242.80" width="41.70" height="12.70" rx="1.2" fill="#dfe2e1" stroke="#3e4543" stroke-width="1.1"/>
<rect x="426.80" y="243.70" width="39.90" height="10.90" fill="none" stroke="#f4f6f5" stroke-width="0.7"/>
<rect x="427.54" y="247.95" width="17.93" height="3.60" rx="1.80" fill="#0c0c0c" opacity="1.00" filter="url(#bl)"/>
<rect x="447.82" y="247.85" width="17.93" height="3.80" rx="1.90" fill="#0c0c0c" opacity="1.00" filter="url(#bl)"/>
<rect x="283.70" y="261.70" width="42.70" height="12.50" rx="1.2" fill="#dfe2e1" stroke="#3e4543" stroke-width="1.1"/>
<rect x="284.60" y="262.60" width="40.90" height="10.70" fill="none" stroke="#f4f6f5" stroke-width="0.7"/>
<rect x="285.07" y="265.05" width="18.98" height="2.80" rx="1.40" fill="#0c0c0c" opacity="0.12" filter="url(#bl2)"/>
<rect x="305.39" y="266.05" width="19.85" height="3.20" rx="1.60" fill="#0c0c0c" opacity="0.30" filter="url(#bl2)"/>
<rect x="329.80" y="261.70" width="42.90" height="12.50" rx="1.2" fill="#dfe2e1" stroke="#3e4543" stroke-width="1.1"/>
<rect x="330.70" y="262.60" width="41.10" height="10.70" fill="none" stroke="#f4f6f5" stroke-width="0.7"/>
<rect x="331.18" y="266.05" width="19.06" height="2.80" rx="1.40" fill="#0c0c0c" opacity="0.08" filter="url(#bl2)"/>
<rect x="351.60" y="265.75" width="19.94" height="3.40" rx="1.70" fill="#0c0c0c" opacity="0.36" filter="url(#bl2)"/>
<rect x="380.70" y="261.70" width="41.70" height="12.50" rx="1.2" fill="#dfe2e1" stroke="#3e4543" stroke-width="1.1"/>
<rect x="381.60" y="262.60" width="39.90" height="10.70" fill="none" stroke="#f4f6f5" stroke-width="0.7"/>
<rect x="382.44" y="266.55" width="17.73" height="2.80" rx="1.40" fill="#0c0c0c" opacity="0.06" filter="url(#bl2)"/>
<rect x="402.29" y="265.45" width="18.58" height="3.80" rx="1.90" fill="#0c0c0c" opacity="0.34" filter="url(#bl2)"/>
<rect x="425.90" y="261.70" width="41.70" height="12.50" rx="1.2" fill="#dfe2e1" stroke="#3e4543" stroke-width="1.1"/>
<rect x="426.80" y="262.60" width="39.90" height="10.70" fill="none" stroke="#f4f6f5" stroke-width="0.7"/>
<rect x="447.92" y="265.65" width="17.73" height="3.00" rx="1.50" fill="#0c0c0c" opacity="0.22" filter="url(#bl2)"/>
<rect x="283.70" y="276.80" width="42.70" height="12.40" rx="1.2" fill="#dfe2e1" stroke="#3e4543" stroke-width="1.1"/>
<rect x="284.60" y="277.70" width="40.90" height="10.60" fill="none" stroke="#f4f6f5" stroke-width="0.7"/>
<rect x="284.95" y="282.00" width="19.23" height="3.00" rx="1.50" fill="#0c0c0c" opacity="0.95" filter="url(#bl)"/>
<rect x="306.14" y="282.20" width="18.35" height="3.20" rx="1.60" fill="#0c0c0c" opacity="1.00" filter="url(#bl)"/>
<rect x="329.80" y="276.80" width="42.90" height="12.40" rx="1.2" fill="#dfe2e1" stroke="#3e4543" stroke-width="1.1"/>
<rect x="330.70" y="277.70" width="41.10" height="10.60" fill="none" stroke="#f4f6f5" stroke-width="0.7"/>
<rect x="331.06" y="281.90" width="19.32" height="3.20" rx="1.60" fill="#0c0c0c" opacity="1.00" filter="url(#bl)"/>
<rect x="351.91" y="281.80" width="19.32" height="3.40" rx="1.70" fill="#0c0c0c" opacity="1.00" filter="url(#bl)"/>
<rect x="380.70" y="276.80" width="41.70" height="12.40" rx="1.2" fill="#dfe2e1" stroke="#3e4543" stroke-width="1.1"/>
<rect x="381.60" y="277.70" width="39.90" height="10.60" fill="none" stroke="#f4f6f5" stroke-width="0.7"/>
<rect x="382.33" y="281.60" width="17.93" height="3.40" rx="1.70" fill="#0c0c0c" opacity="1.00" filter="url(#bl)"/>
<rect x="402.62" y="281.50" width="17.93" height="3.60" rx="1.80" fill="#0c0c0c" opacity="1.00" filter="url(#bl)"/>
<rect x="425.90" y="276.80" width="41.70" height="12.40" rx="1.2" fill="#dfe2e1" stroke="#3e4543" stroke-width="1.1"/>
<rect x="426.80" y="277.70" width="39.90" height="10.60" fill="none" stroke="#f4f6f5" stroke-width="0.7"/>
<rect x="427.54" y="281.70" width="17.93" height="3.20" rx="1.60" fill="#0c0c0c" opacity="1.00" filter="url(#bl)"/>
<rect x="448.24" y="281.90" width="17.08" height="3.40" rx="1.70" fill="#0c0c0c" opacity="1.00" filter="url(#bl)"/>
<text x="474.5" y="208.3" font-size="10.3" fill="#222" textLength="28.8" lengthAdjust="spacingAndGlyphs">c-MYC</text>
<text x="474.5" y="224.6" font-size="10.3" fill="#222" textLength="33.0" lengthAdjust="spacingAndGlyphs">CCND2</text>
<text x="474.5" y="241.3" font-size="10.3" fill="#222" textLength="38.6" lengthAdjust="spacingAndGlyphs">CDKN2B</text>
<text x="474.5" y="258.1" font-size="10.3" fill="#222" textLength="28.6" lengthAdjust="spacingAndGlyphs">ACTIN</text>
<text x="474.5" y="274.1" font-size="10.3" fill="#222" textLength="39.0" lengthAdjust="spacingAndGlyphs">CDKN1A</text>
<text x="474.5" y="290.3" font-size="10.3" fill="#222" textLength="28.6" lengthAdjust="spacingAndGlyphs">ACTIN</text>
<text x="218.9" y="310.2" font-size="11" font-weight="bold" fill="#000" stroke="#000" stroke-width="0.4">D</text>
<text x="325.8" y="329.6" font-size="8.8" fill="#222" textLength="111.9" lengthAdjust="spacingAndGlyphs">Murine Eμ-TCL1 CLL Cells</text>
<rect x="325.8" y="330.6" width="111.9" height="0.8" fill="#333"/>
<path d="M263.3 324V424.6M262.7 421.8H492.6" stroke="#111" stroke-width="1.2" fill="none"/>
<text x="259.5" y="424.80" font-size="8.4" fill="#333" text-anchor="end">0</text>
<text x="259.5" y="408.55" font-size="8.4" fill="#333" text-anchor="end">2</text>
<text x="259.5" y="392.30" font-size="8.4" fill="#333" text-anchor="end">4</text>
<text x="259.5" y="376.05" font-size="8.4" fill="#333" text-anchor="end">6</text>
<text x="259.5" y="359.80" font-size="8.4" fill="#333" text-anchor="end">8</text>
<text x="259.5" y="343.55" font-size="8.4" fill="#333" text-anchor="end">10</text>
<text x="259.5" y="327.30" font-size="8.4" fill="#333" text-anchor="end">12</text>
<path d="M260.1 421.80H263.3M260.1 405.55H263.3M260.1 389.30H263.3M260.1 373.05H263.3M260.1 356.80H263.3M260.1 340.55H263.3M260.1 324.30H263.3" stroke="#111" stroke-width="1" fill="none"/>
<text transform="translate(244.4 413.2) rotate(-90)" font-size="9.6" fill="#333" textLength="82.6" lengthAdjust="spacingAndGlyphs">Fold change (n = 8)</text>
<text x="237.4" y="434" font-size="8.6" fill="#222" textLength="30.6" lengthAdjust="spacingAndGlyphs">+PtC (h):</text>
<rect x="275.60" y="413.68" width="5.8" height="8.12" fill="#c9d8df" stroke="#111" stroke-width="1"/>
<rect x="284.80" y="388.24" width="5.8" height="33.56" fill="#cc0011" stroke="#111" stroke-width="1"/>
<rect x="294.30" y="410.43" width="5.8" height="11.38" fill="#0a2aa8" stroke="#111" stroke-width="1"/>
<path d="M287.70 388.24V347.86M284.50 347.86H290.90" stroke="#111" stroke-width="1.1" fill="none"/>
<text x="287.70" y="346.66" font-size="8.5" font-weight="bold" fill="#111" text-anchor="middle">*</text>
<path d="M297.20 410.43V407.99M294.00 407.99H300.40" stroke="#111" stroke-width="1.1" fill="none"/>
<text x="278.50" y="430" font-size="8.4" fill="#222" text-anchor="middle">0</text>
<text x="287.70" y="430" font-size="8.4" fill="#222" text-anchor="middle">6</text>
<text x="297.20" y="430" font-size="8.4" fill="#222" text-anchor="middle">20</text>
<rect x="272.80" y="432.2" width="30.00" height="0.9" fill="#222"/>
<text x="287.85" y="440.6" font-size="8.4" fill="#222" text-anchor="middle">MYC</text>
<rect x="312.00" y="413.68" width="5.8" height="8.12" fill="#c9d8df" stroke="#111" stroke-width="1"/>
<rect x="321.20" y="404.41" width="5.8" height="17.39" fill="#cc0011" stroke="#111" stroke-width="1"/>
<rect x="330.70" y="409.37" width="5.8" height="12.43" fill="#0a2aa8" stroke="#111" stroke-width="1"/>
<path d="M324.10 404.41V394.42M320.90 394.42H327.30" stroke="#111" stroke-width="1.1" fill="none"/>
<text x="324.10" y="393.22" font-size="8.5" font-weight="bold" fill="#111" text-anchor="middle">*</text>
<path d="M333.60 409.37V401.49M330.40 401.49H336.80" stroke="#111" stroke-width="1.1" fill="none"/>
<text x="314.90" y="430" font-size="8.4" fill="#222" text-anchor="middle">0</text>
<text x="324.10" y="430" font-size="8.4" fill="#222" text-anchor="middle">6</text>
<text x="333.60" y="430" font-size="8.4" fill="#222" text-anchor="middle">20</text>
<rect x="309.20" y="432.2" width="30.00" height="0.9" fill="#222"/>
<text x="324.25" y="440.6" font-size="8.4" fill="#222" text-anchor="middle">CDK4</text>
<rect x="348.40" y="413.68" width="5.8" height="8.12" fill="#c9d8df" stroke="#111" stroke-width="1"/>
<rect x="357.60" y="402.22" width="5.8" height="19.58" fill="#cc0011" stroke="#111" stroke-width="1"/>
<rect x="367.10" y="393.44" width="5.8" height="28.36" fill="#0a2aa8" stroke="#111" stroke-width="1"/>
<path d="M360.50 402.22V390.52M357.30 390.52H363.70" stroke="#111" stroke-width="1.1" fill="none"/>
<text x="360.50" y="389.32" font-size="8.5" font-weight="bold" fill="#111" text-anchor="middle">*</text>
<path d="M370.00 393.44V355.18M366.80 355.18H373.20" stroke="#111" stroke-width="1.1" fill="none"/>
<text x="351.30" y="430" font-size="8.4" fill="#222" text-anchor="middle">0</text>
<text x="360.50" y="430" font-size="8.4" fill="#222" text-anchor="middle">6</text>
<text x="370.00" y="430" font-size="8.4" fill="#222" text-anchor="middle">20</text>
<rect x="345.60" y="432.2" width="30.00" height="0.9" fill="#222"/>
<text x="360.65" y="440.6" font-size="8.4" fill="#222" text-anchor="middle">CCND2</text>
<rect x="384.80" y="413.68" width="5.8" height="8.12" fill="#c9d8df" stroke="#111" stroke-width="1"/>
<rect x="394.00" y="398.48" width="5.8" height="23.32" fill="#cc0011" stroke="#111" stroke-width="1"/>
<rect x="403.50" y="411.32" width="5.8" height="10.48" fill="#0a2aa8" stroke="#111" stroke-width="1"/>
<path d="M396.90 398.48V364.93M393.70 364.93H400.10" stroke="#111" stroke-width="1.1" fill="none"/>
<text x="396.90" y="363.73" font-size="8.5" font-weight="bold" fill="#111" text-anchor="middle">*</text>
<path d="M406.40 411.32V408.80M403.20 408.80H409.60" stroke="#111" stroke-width="1.1" fill="none"/>
<text x="387.70" y="430" font-size="8.4" fill="#222" text-anchor="middle">0</text>
<text x="396.90" y="430" font-size="8.4" fill="#222" text-anchor="middle">6</text>
<text x="406.40" y="430" font-size="8.4" fill="#222" text-anchor="middle">20</text>
<rect x="382.00" y="432.2" width="30.00" height="0.9" fill="#222"/>
<text x="397.05" y="440.6" font-size="8.4" fill="#222" text-anchor="middle">CDKN1A</text>
<rect x="421.20" y="413.68" width="5.8" height="8.12" fill="#c9d8df" stroke="#111" stroke-width="1"/>
<rect x="430.40" y="401.49" width="5.8" height="20.31" fill="#cc0011" stroke="#111" stroke-width="1"/>
<rect x="439.90" y="406.20" width="5.8" height="15.60" fill="#0a2aa8" stroke="#111" stroke-width="1"/>
<path d="M433.30 401.49V391.74M430.10 391.74H436.50" stroke="#111" stroke-width="1.1" fill="none"/>
<text x="433.30" y="390.54" font-size="8.5" font-weight="bold" fill="#111" text-anchor="middle">*</text>
<path d="M442.80 406.20V397.83M439.60 397.83H446.00" stroke="#111" stroke-width="1.1" fill="none"/>
<text x="442.80" y="396.63" font-size="8.5" font-weight="bold" fill="#111" text-anchor="middle">*</text>
<text x="424.10" y="430" font-size="8.4" fill="#222" text-anchor="middle">0</text>
<text x="433.30" y="430" font-size="8.4" fill="#222" text-anchor="middle">6</text>
<text x="442.80" y="430" font-size="8.4" fill="#222" text-anchor="middle">20</text>
<rect x="418.40" y="432.2" width="30.00" height="0.9" fill="#222"/>
<text x="433.45" y="440.6" font-size="8.4" fill="#222" text-anchor="middle">CDKN2A</text>
<rect x="457.60" y="413.68" width="5.8" height="8.12" fill="#c9d8df" stroke="#111" stroke-width="1"/>
<rect x="466.80" y="392.31" width="5.8" height="29.49" fill="#cc0011" stroke="#111" stroke-width="1"/>
<rect x="476.30" y="406.20" width="5.8" height="15.60" fill="#0a2aa8" stroke="#111" stroke-width="1"/>
<path d="M469.70 392.31V366.06M466.50 366.06H472.90" stroke="#111" stroke-width="1.1" fill="none"/>
<text x="469.70" y="364.86" font-size="8.5" font-weight="bold" fill="#111" text-anchor="middle">*</text>
<path d="M479.20 406.20V394.18M476.00 394.18H482.40" stroke="#111" stroke-width="1.1" fill="none"/>
<text x="460.50" y="430" font-size="8.4" fill="#222" text-anchor="middle">0</text>
<text x="469.70" y="430" font-size="8.4" fill="#222" text-anchor="middle">6</text>
<text x="479.20" y="430" font-size="8.4" fill="#222" text-anchor="middle">20</text>
<rect x="454.80" y="432.2" width="30.00" height="0.9" fill="#222"/>
<text x="469.85" y="440.6" font-size="8.4" fill="#222" text-anchor="middle">CDKN2B</text>
<rect x="0.5" y="0.5" width="519" height="453" fill="none" stroke="#000" stroke-width="1"/>
</svg>
</body></html>
